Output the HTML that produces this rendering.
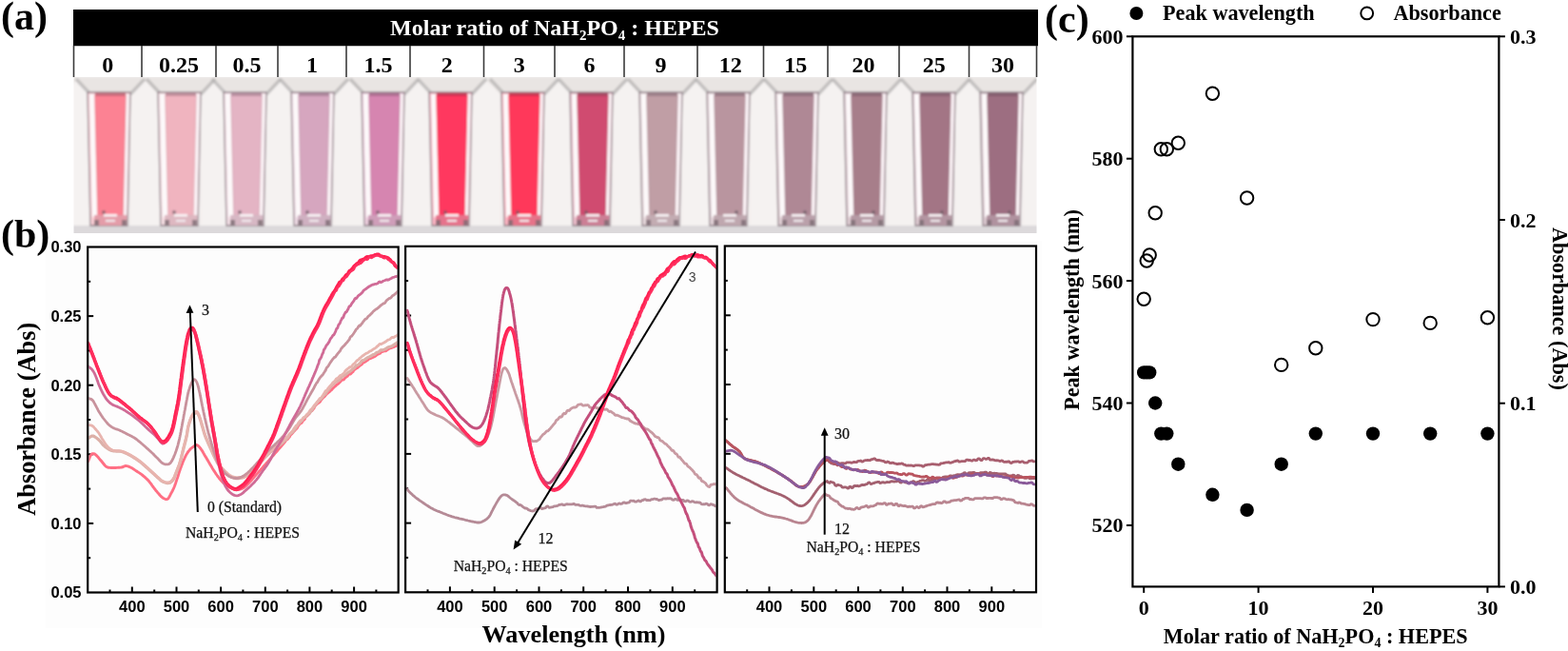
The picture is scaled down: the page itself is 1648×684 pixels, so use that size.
<!DOCTYPE html><html><head><meta charset="utf-8"><title>Figure</title><style>html,body{margin:0;padding:0;background:#fff}body{width:1648px;height:684px;overflow:hidden}svg{display:block}</style></head><body>
<svg width="1648" height="684" viewBox="0 0 1648 684">
<rect x="0" y="0" width="1648" height="684" fill="#ffffff"/>
<text x="1" y="31" style="font-family:'Liberation Serif','Times New Roman',serif;font-weight:bold;font-size:42px" fill="#000">(a)</text>
<rect x="77" y="10" width="1014" height="38.5" fill="#000"/>
<text x="583" y="37" text-anchor="middle" style="font-family:'Liberation Serif','Times New Roman',serif;font-weight:bold;font-size:24px" fill="#fff">Molar ratio of NaH<tspan font-size="15" dy="5">2</tspan><tspan dy="-5">PO</tspan><tspan font-size="15" dy="5">4</tspan><tspan dy="-5"> : HEPES</tspan></text>
<defs><filter id="soft" filterUnits="userSpaceOnUse" x="60" y="70" width="1050" height="190"><feGaussianBlur stdDeviation="0.8"/></filter><clipPath id="photoclip"><rect x="77.5" y="81.0" width="1012.0" height="164.0"/></clipPath></defs>
<g clip-path="url(#photoclip)"><g filter="url(#soft)">
<rect x="72.5" y="76.0" width="1022.0" height="174.0" fill="#f1eded"/>
<rect x="72.5" y="81.0" width="1022.0" height="19" fill="#e9e5e3"/>
<rect x="72.5" y="237" width="1022.0" height="12" fill="#dcd9db"/>
<path d="M65.0,237 L65.0,99 L80.0,84 L95.0,99 L95.0,237 Z" fill="#f5f2f1"/>
<path d="M137.0,237 L137.0,99 L152.0,84 L167.0,99 L167.0,237 Z" fill="#f5f2f1"/>
<path d="M211.0,237 L211.0,99 L226.0,84 L241.0,99 L241.0,237 Z" fill="#f5f2f1"/>
<path d="M280.0,237 L280.0,99 L295.0,84 L310.0,99 L310.0,237 Z" fill="#f5f2f1"/>
<path d="M351.0,237 L351.0,99 L366.0,84 L381.0,99 L381.0,237 Z" fill="#f5f2f1"/>
<path d="M425.0,237 L425.0,99 L440.0,84 L455.0,99 L455.0,237 Z" fill="#f5f2f1"/>
<path d="M496.0,237 L496.0,99 L511.0,84 L526.0,99 L526.0,237 Z" fill="#f5f2f1"/>
<path d="M572.0,237 L572.0,99 L587.0,84 L602.0,99 L602.0,237 Z" fill="#f5f2f1"/>
<path d="M644.0,237 L644.0,99 L659.0,84 L674.0,99 L674.0,237 Z" fill="#f5f2f1"/>
<path d="M717.0,237 L717.0,99 L732.0,84 L747.0,99 L747.0,237 Z" fill="#f5f2f1"/>
<path d="M788.0,237 L788.0,99 L803.0,84 L818.0,99 L818.0,237 Z" fill="#f5f2f1"/>
<path d="M860.0,237 L860.0,99 L875.0,84 L890.0,99 L890.0,237 Z" fill="#f5f2f1"/>
<path d="M932.0,237 L932.0,99 L947.0,84 L962.0,99 L962.0,237 Z" fill="#f5f2f1"/>
<path d="M1004.0,237 L1004.0,99 L1019.0,84 L1034.0,99 L1034.0,237 Z" fill="#f5f2f1"/>
<path d="M1075.0,237 L1075.0,99 L1090.0,84 L1105.0,99 L1105.0,237 Z" fill="#f5f2f1"/>
<path d="M80.0,83 L95.0,99 M152.0,83 L137.0,99" stroke="#b4b1b2" stroke-width="3.5" opacity="0.75" fill="none"/>
<path d="M92.0,97 L137.0,97 L134.0,237 L95.0,237 Z" fill="#fdd0d7" stroke="#8f8088" stroke-width="1.3"/>
<path d="M94.0,99 L99.0,99 L102.0,228 L97.0,228 Z" fill="#fdf9fa"/>
<path d="M132.0,99 L136.0,99 L133.0,228 L129.0,228 Z" fill="#fbf3f6"/>
<path d="M100.0,100 L132.0,100 L129.0,226 L103.0,226 Z" fill="#fc8293" stroke="#ee7e8e" stroke-width="1.2"/>
<line x1="100.0" y1="99" x2="132.0" y2="99" stroke="#b55869" stroke-width="3.5" opacity="0.75"/>
<rect x="99.0" y="226" width="34" height="11" fill="#e49da9"/>
<rect x="109.0" y="225" width="14" height="2.5" fill="#fbf6f8"/>
<rect x="111.0" y="231" width="10" height="2" fill="#f3ecf0"/>
<rect x="99.0" y="231" width="5" height="6" fill="#7a6a72" opacity="0.8"/>
<rect x="128.0" y="231" width="5" height="6" fill="#7a6a72" opacity="0.8"/>
<circle cx="109.0" cy="223" r="2" fill="#6a5a62" opacity="0.7"/>
<path d="M154.0,83 L169.0,99 M226.0,83 L211.0,99" stroke="#b4b1b2" stroke-width="3.5" opacity="0.75" fill="none"/>
<path d="M166.0,97 L211.0,97 L208.0,237 L169.0,237 Z" fill="#f9e1e6" stroke="#8f8088" stroke-width="1.3"/>
<path d="M168.0,99 L173.0,99 L176.0,228 L171.0,228 Z" fill="#fdf9fa"/>
<path d="M206.0,99 L210.0,99 L207.0,228 L203.0,228 Z" fill="#fbf3f6"/>
<path d="M174.0,100 L206.0,100 L203.0,226 L177.0,226 Z" fill="#f0b4bf" stroke="#e4abb5" stroke-width="1.2"/>
<line x1="174.0" y1="99" x2="206.0" y2="99" stroke="#ac7a89" stroke-width="3.5" opacity="0.75"/>
<rect x="173.0" y="226" width="34" height="11" fill="#deb8c1"/>
<rect x="183.0" y="225" width="14" height="2.5" fill="#fbf6f8"/>
<rect x="185.0" y="231" width="10" height="2" fill="#f3ecf0"/>
<rect x="173.0" y="231" width="5" height="6" fill="#7a6a72" opacity="0.8"/>
<rect x="202.0" y="231" width="5" height="6" fill="#7a6a72" opacity="0.8"/>
<circle cx="183.0" cy="223" r="2" fill="#6a5a62" opacity="0.7"/>
<path d="M223.0,83 L238.0,99 M295.0,83 L280.0,99" stroke="#b4b1b2" stroke-width="3.5" opacity="0.75" fill="none"/>
<path d="M235.0,97 L280.0,97 L277.0,237 L238.0,237 Z" fill="#f5e1e8" stroke="#8f8088" stroke-width="1.3"/>
<path d="M237.0,99 L242.0,99 L245.0,228 L240.0,228 Z" fill="#fdf9fa"/>
<path d="M275.0,99 L279.0,99 L276.0,228 L272.0,228 Z" fill="#fbf3f6"/>
<path d="M243.0,100 L275.0,100 L272.0,226 L246.0,226 Z" fill="#e4b4c4" stroke="#d9abba" stroke-width="1.2"/>
<line x1="243.0" y1="99" x2="275.0" y2="99" stroke="#a47a8d" stroke-width="3.5" opacity="0.75"/>
<rect x="242.0" y="226" width="34" height="11" fill="#d7b8c4"/>
<rect x="252.0" y="225" width="14" height="2.5" fill="#fbf6f8"/>
<rect x="254.0" y="231" width="10" height="2" fill="#f3ecf0"/>
<rect x="242.0" y="231" width="5" height="6" fill="#7a6a72" opacity="0.8"/>
<rect x="271.0" y="231" width="5" height="6" fill="#7a6a72" opacity="0.8"/>
<circle cx="252.0" cy="223" r="2" fill="#6a5a62" opacity="0.7"/>
<path d="M294.0,83 L309.0,99 M366.0,83 L351.0,99" stroke="#b4b1b2" stroke-width="3.5" opacity="0.75" fill="none"/>
<path d="M306.0,97 L351.0,97 L348.0,237 L309.0,237 Z" fill="#f0dce6" stroke="#8f8088" stroke-width="1.3"/>
<path d="M308.0,99 L313.0,99 L316.0,228 L311.0,228 Z" fill="#fdf9fa"/>
<path d="M346.0,99 L350.0,99 L347.0,228 L343.0,228 Z" fill="#fbf3f6"/>
<path d="M314.0,100 L346.0,100 L343.0,226 L317.0,226 Z" fill="#d6a6bf" stroke="#cc9eb5" stroke-width="1.2"/>
<line x1="314.0" y1="99" x2="346.0" y2="99" stroke="#9a7089" stroke-width="3.5" opacity="0.75"/>
<rect x="313.0" y="226" width="34" height="11" fill="#cfb0c1"/>
<rect x="323.0" y="225" width="14" height="2.5" fill="#fbf6f8"/>
<rect x="325.0" y="231" width="10" height="2" fill="#f3ecf0"/>
<rect x="313.0" y="231" width="5" height="6" fill="#7a6a72" opacity="0.8"/>
<rect x="342.0" y="231" width="5" height="6" fill="#7a6a72" opacity="0.8"/>
<circle cx="323.0" cy="223" r="2" fill="#6a5a62" opacity="0.7"/>
<path d="M368.0,83 L383.0,99 M440.0,83 L425.0,99" stroke="#b4b1b2" stroke-width="3.5" opacity="0.75" fill="none"/>
<path d="M380.0,97 L425.0,97 L422.0,237 L383.0,237 Z" fill="#f0d1e1" stroke="#8f8088" stroke-width="1.3"/>
<path d="M382.0,99 L387.0,99 L390.0,228 L385.0,228 Z" fill="#fdf9fa"/>
<path d="M420.0,99 L424.0,99 L421.0,228 L417.0,228 Z" fill="#fbf3f6"/>
<path d="M388.0,100 L420.0,100 L417.0,226 L391.0,226 Z" fill="#d685b0" stroke="#cc80a8" stroke-width="1.2"/>
<line x1="388.0" y1="99" x2="420.0" y2="99" stroke="#9a5a7e" stroke-width="3.5" opacity="0.75"/>
<rect x="387.0" y="226" width="34" height="11" fill="#cf9eb9"/>
<rect x="397.0" y="225" width="14" height="2.5" fill="#fbf6f8"/>
<rect x="399.0" y="231" width="10" height="2" fill="#f3ecf0"/>
<rect x="387.0" y="231" width="5" height="6" fill="#7a6a72" opacity="0.8"/>
<rect x="416.0" y="231" width="5" height="6" fill="#7a6a72" opacity="0.8"/>
<circle cx="397.0" cy="223" r="2" fill="#6a5a62" opacity="0.7"/>
<path d="M439.0,83 L454.0,99 M511.0,83 L496.0,99" stroke="#b4b1b2" stroke-width="3.5" opacity="0.75" fill="none"/>
<path d="M451.0,97 L496.0,97 L493.0,237 L454.0,237 Z" fill="#ffb5c5" stroke="#8f8088" stroke-width="1.3"/>
<path d="M453.0,99 L458.0,99 L461.0,228 L456.0,228 Z" fill="#fdf9fa"/>
<path d="M491.0,99 L495.0,99 L492.0,228 L488.0,228 Z" fill="#fbf3f6"/>
<path d="M459.0,100 L491.0,100 L488.0,226 L462.0,226 Z" fill="#ff375f" stroke="#f13a5f" stroke-width="1.2"/>
<line x1="459.0" y1="99" x2="491.0" y2="99" stroke="#b72544" stroke-width="3.5" opacity="0.75"/>
<rect x="458.0" y="226" width="34" height="11" fill="#e6738c"/>
<rect x="468.0" y="225" width="14" height="2.5" fill="#fbf6f8"/>
<rect x="470.0" y="231" width="10" height="2" fill="#f3ecf0"/>
<rect x="458.0" y="231" width="5" height="6" fill="#7a6a72" opacity="0.8"/>
<rect x="487.0" y="231" width="5" height="6" fill="#7a6a72" opacity="0.8"/>
<circle cx="468.0" cy="223" r="2" fill="#6a5a62" opacity="0.7"/>
<path d="M515.0,83 L530.0,99 M587.0,83 L572.0,99" stroke="#b4b1b2" stroke-width="3.5" opacity="0.75" fill="none"/>
<path d="M527.0,97 L572.0,97 L569.0,237 L530.0,237 Z" fill="#ffb5c3" stroke="#8f8088" stroke-width="1.3"/>
<path d="M529.0,99 L534.0,99 L537.0,228 L532.0,228 Z" fill="#fdf9fa"/>
<path d="M567.0,99 L571.0,99 L568.0,228 L564.0,228 Z" fill="#fbf3f6"/>
<path d="M535.0,100 L567.0,100 L564.0,226 L538.0,226 Z" fill="#ff375a" stroke="#f13a5b" stroke-width="1.2"/>
<line x1="535.0" y1="99" x2="567.0" y2="99" stroke="#b72540" stroke-width="3.5" opacity="0.75"/>
<rect x="534.0" y="226" width="34" height="11" fill="#e67389"/>
<rect x="544.0" y="225" width="14" height="2.5" fill="#fbf6f8"/>
<rect x="546.0" y="231" width="10" height="2" fill="#f3ecf0"/>
<rect x="534.0" y="231" width="5" height="6" fill="#7a6a72" opacity="0.8"/>
<rect x="563.0" y="231" width="5" height="6" fill="#7a6a72" opacity="0.8"/>
<circle cx="544.0" cy="223" r="2" fill="#6a5a62" opacity="0.7"/>
<path d="M587.0,83 L602.0,99 M659.0,83 L644.0,99" stroke="#b4b1b2" stroke-width="3.5" opacity="0.75" fill="none"/>
<path d="M599.0,97 L644.0,97 L641.0,237 L602.0,237 Z" fill="#eebdcb" stroke="#8f8088" stroke-width="1.3"/>
<path d="M601.0,99 L606.0,99 L609.0,228 L604.0,228 Z" fill="#fdf9fa"/>
<path d="M639.0,99 L643.0,99 L640.0,228 L636.0,228 Z" fill="#fbf3f6"/>
<path d="M607.0,100 L639.0,100 L636.0,226 L610.0,226 Z" fill="#d04c70" stroke="#c74d6e" stroke-width="1.2"/>
<line x1="607.0" y1="99" x2="639.0" y2="99" stroke="#953350" stroke-width="3.5" opacity="0.75"/>
<rect x="606.0" y="226" width="34" height="11" fill="#cc7f95"/>
<rect x="616.0" y="225" width="14" height="2.5" fill="#fbf6f8"/>
<rect x="618.0" y="231" width="10" height="2" fill="#f3ecf0"/>
<rect x="606.0" y="231" width="5" height="6" fill="#7a6a72" opacity="0.8"/>
<rect x="635.0" y="231" width="5" height="6" fill="#7a6a72" opacity="0.8"/>
<circle cx="616.0" cy="223" r="2" fill="#6a5a62" opacity="0.7"/>
<path d="M660.0,83 L675.0,99 M732.0,83 L717.0,99" stroke="#b4b1b2" stroke-width="3.5" opacity="0.75" fill="none"/>
<path d="M672.0,97 L717.0,97 L714.0,237 L675.0,237 Z" fill="#e8d9dd" stroke="#8f8088" stroke-width="1.3"/>
<path d="M674.0,99 L679.0,99 L682.0,228 L677.0,228 Z" fill="#fdf9fa"/>
<path d="M712.0,99 L716.0,99 L713.0,228 L709.0,228 Z" fill="#fbf3f6"/>
<path d="M680.0,100 L712.0,100 L709.0,226 L683.0,226 Z" fill="#c09ea5" stroke="#b8979e" stroke-width="1.2"/>
<line x1="680.0" y1="99" x2="712.0" y2="99" stroke="#8a6b76" stroke-width="3.5" opacity="0.75"/>
<rect x="679.0" y="226" width="34" height="11" fill="#c3acb2"/>
<rect x="689.0" y="225" width="14" height="2.5" fill="#fbf6f8"/>
<rect x="691.0" y="231" width="10" height="2" fill="#f3ecf0"/>
<rect x="679.0" y="231" width="5" height="6" fill="#7a6a72" opacity="0.8"/>
<rect x="708.0" y="231" width="5" height="6" fill="#7a6a72" opacity="0.8"/>
<circle cx="689.0" cy="223" r="2" fill="#6a5a62" opacity="0.7"/>
<path d="M731.0,83 L746.0,99 M803.0,83 L788.0,99" stroke="#b4b1b2" stroke-width="3.5" opacity="0.75" fill="none"/>
<path d="M743.0,97 L788.0,97 L785.0,237 L746.0,237 Z" fill="#e6d6db" stroke="#8f8088" stroke-width="1.3"/>
<path d="M745.0,99 L750.0,99 L753.0,228 L748.0,228 Z" fill="#fdf9fa"/>
<path d="M783.0,99 L787.0,99 L784.0,228 L780.0,228 Z" fill="#fbf3f6"/>
<path d="M751.0,100 L783.0,100 L780.0,226 L754.0,226 Z" fill="#b9959f" stroke="#b28f99" stroke-width="1.2"/>
<line x1="751.0" y1="99" x2="783.0" y2="99" stroke="#856572" stroke-width="3.5" opacity="0.75"/>
<rect x="750.0" y="226" width="34" height="11" fill="#bfa7af"/>
<rect x="760.0" y="225" width="14" height="2.5" fill="#fbf6f8"/>
<rect x="762.0" y="231" width="10" height="2" fill="#f3ecf0"/>
<rect x="750.0" y="231" width="5" height="6" fill="#7a6a72" opacity="0.8"/>
<rect x="779.0" y="231" width="5" height="6" fill="#7a6a72" opacity="0.8"/>
<circle cx="774.0" cy="223" r="2" fill="#6a5a62" opacity="0.7"/>
<path d="M803.0,83 L818.0,99 M875.0,83 L860.0,99" stroke="#b4b1b2" stroke-width="3.5" opacity="0.75" fill="none"/>
<path d="M815.0,97 L860.0,97 L857.0,237 L818.0,237 Z" fill="#e3d2d7" stroke="#8f8088" stroke-width="1.3"/>
<path d="M817.0,99 L822.0,99 L825.0,228 L820.0,228 Z" fill="#fdf9fa"/>
<path d="M855.0,99 L859.0,99 L856.0,228 L852.0,228 Z" fill="#fbf3f6"/>
<path d="M823.0,100 L855.0,100 L852.0,226 L826.0,226 Z" fill="#af8895" stroke="#a98390" stroke-width="1.2"/>
<line x1="823.0" y1="99" x2="855.0" y2="99" stroke="#7e5c6b" stroke-width="3.5" opacity="0.75"/>
<rect x="822.0" y="226" width="34" height="11" fill="#baa0aa"/>
<rect x="832.0" y="225" width="14" height="2.5" fill="#fbf6f8"/>
<rect x="834.0" y="231" width="10" height="2" fill="#f3ecf0"/>
<rect x="822.0" y="231" width="5" height="6" fill="#7a6a72" opacity="0.8"/>
<rect x="851.0" y="231" width="5" height="6" fill="#7a6a72" opacity="0.8"/>
<circle cx="846.0" cy="223" r="2" fill="#6a5a62" opacity="0.7"/>
<path d="M875.0,83 L890.0,99 M947.0,83 L932.0,99" stroke="#b4b1b2" stroke-width="3.5" opacity="0.75" fill="none"/>
<path d="M887.0,97 L932.0,97 L929.0,237 L890.0,237 Z" fill="#e0ced4" stroke="#8f8088" stroke-width="1.3"/>
<path d="M889.0,99 L894.0,99 L897.0,228 L892.0,228 Z" fill="#fdf9fa"/>
<path d="M927.0,99 L931.0,99 L928.0,228 L924.0,228 Z" fill="#fbf3f6"/>
<path d="M895.0,100 L927.0,100 L924.0,226 L898.0,226 Z" fill="#a77e8a" stroke="#a27a86" stroke-width="1.2"/>
<line x1="895.0" y1="99" x2="927.0" y2="99" stroke="#785563" stroke-width="3.5" opacity="0.75"/>
<rect x="894.0" y="226" width="34" height="11" fill="#b59aa4"/>
<rect x="904.0" y="225" width="14" height="2.5" fill="#fbf6f8"/>
<rect x="906.0" y="231" width="10" height="2" fill="#f3ecf0"/>
<rect x="894.0" y="231" width="5" height="6" fill="#7a6a72" opacity="0.8"/>
<rect x="923.0" y="231" width="5" height="6" fill="#7a6a72" opacity="0.8"/>
<circle cx="918.0" cy="223" r="2" fill="#6a5a62" opacity="0.7"/>
<path d="M947.0,83 L962.0,99 M1019.0,83 L1004.0,99" stroke="#b4b1b2" stroke-width="3.5" opacity="0.75" fill="none"/>
<path d="M959.0,97 L1004.0,97 L1001.0,237 L962.0,237 Z" fill="#decbd2" stroke="#8f8088" stroke-width="1.3"/>
<path d="M961.0,99 L966.0,99 L969.0,228 L964.0,228 Z" fill="#fdf9fa"/>
<path d="M999.0,99 L1003.0,99 L1000.0,228 L996.0,228 Z" fill="#fbf3f6"/>
<path d="M967.0,100 L999.0,100 L996.0,226 L970.0,226 Z" fill="#a37585" stroke="#9e7281" stroke-width="1.2"/>
<line x1="967.0" y1="99" x2="999.0" y2="99" stroke="#754f5f" stroke-width="3.5" opacity="0.75"/>
<rect x="966.0" y="226" width="34" height="11" fill="#b395a1"/>
<rect x="976.0" y="225" width="14" height="2.5" fill="#fbf6f8"/>
<rect x="978.0" y="231" width="10" height="2" fill="#f3ecf0"/>
<rect x="966.0" y="231" width="5" height="6" fill="#7a6a72" opacity="0.8"/>
<rect x="995.0" y="231" width="5" height="6" fill="#7a6a72" opacity="0.8"/>
<circle cx="990.0" cy="223" r="2" fill="#6a5a62" opacity="0.7"/>
<path d="M1018.0,83 L1033.0,99 M1090.0,83 L1075.0,99" stroke="#b4b1b2" stroke-width="3.5" opacity="0.75" fill="none"/>
<path d="M1030.0,97 L1075.0,97 L1072.0,237 L1033.0,237 Z" fill="#dcc9d0" stroke="#8f8088" stroke-width="1.3"/>
<path d="M1032.0,99 L1037.0,99 L1040.0,228 L1035.0,228 Z" fill="#fdf9fa"/>
<path d="M1070.0,99 L1074.0,99 L1071.0,228 L1067.0,228 Z" fill="#fbf3f6"/>
<path d="M1038.0,100 L1070.0,100 L1067.0,226 L1041.0,226 Z" fill="#9d6e81" stroke="#996c7e" stroke-width="1.2"/>
<line x1="1038.0" y1="99" x2="1070.0" y2="99" stroke="#714a5c" stroke-width="3.5" opacity="0.75"/>
<rect x="1037.0" y="226" width="34" height="11" fill="#b0929f"/>
<rect x="1047.0" y="225" width="14" height="2.5" fill="#fbf6f8"/>
<rect x="1049.0" y="231" width="10" height="2" fill="#f3ecf0"/>
<rect x="1037.0" y="231" width="5" height="6" fill="#7a6a72" opacity="0.8"/>
<rect x="1066.0" y="231" width="5" height="6" fill="#7a6a72" opacity="0.8"/>
<circle cx="1061.0" cy="223" r="2" fill="#6a5a62" opacity="0.7"/>
</g></g>
<rect x="77" y="48.5" width="1014" height="32.5" fill="#fff"/>
<line x1="77.5" y1="48" x2="77.5" y2="81" stroke="#3a3a3a" stroke-width="1.6"/>
<line x1="149.0" y1="48" x2="149.0" y2="81" stroke="#3a3a3a" stroke-width="1.6"/>
<line x1="227.0" y1="48" x2="227.0" y2="81" stroke="#3a3a3a" stroke-width="1.6"/>
<line x1="292.0" y1="48" x2="292.0" y2="81" stroke="#3a3a3a" stroke-width="1.6"/>
<line x1="364.0" y1="48" x2="364.0" y2="81" stroke="#3a3a3a" stroke-width="1.6"/>
<line x1="431.0" y1="48" x2="431.0" y2="81" stroke="#3a3a3a" stroke-width="1.6"/>
<line x1="508.5" y1="48" x2="508.5" y2="81" stroke="#3a3a3a" stroke-width="1.6"/>
<line x1="583.0" y1="48" x2="583.0" y2="81" stroke="#3a3a3a" stroke-width="1.6"/>
<line x1="656.0" y1="48" x2="656.0" y2="81" stroke="#3a3a3a" stroke-width="1.6"/>
<line x1="733.0" y1="48" x2="733.0" y2="81" stroke="#3a3a3a" stroke-width="1.6"/>
<line x1="802.5" y1="48" x2="802.5" y2="81" stroke="#3a3a3a" stroke-width="1.6"/>
<line x1="870.0" y1="48" x2="870.0" y2="81" stroke="#3a3a3a" stroke-width="1.6"/>
<line x1="945.0" y1="48" x2="945.0" y2="81" stroke="#3a3a3a" stroke-width="1.6"/>
<line x1="1018.5" y1="48" x2="1018.5" y2="81" stroke="#3a3a3a" stroke-width="1.6"/>
<line x1="1089.5" y1="48" x2="1089.5" y2="81" stroke="#3a3a3a" stroke-width="1.6"/>
<text x="113.2" y="75.5" text-anchor="middle" style="font-family:'Liberation Serif','Times New Roman',serif;font-weight:bold;font-size:24px" fill="#000">0</text>
<text x="188.0" y="75.5" text-anchor="middle" style="font-family:'Liberation Serif','Times New Roman',serif;font-weight:bold;font-size:24px" fill="#000">0.25</text>
<text x="259.5" y="75.5" text-anchor="middle" style="font-family:'Liberation Serif','Times New Roman',serif;font-weight:bold;font-size:24px" fill="#000">0.5</text>
<text x="328.0" y="75.5" text-anchor="middle" style="font-family:'Liberation Serif','Times New Roman',serif;font-weight:bold;font-size:24px" fill="#000">1</text>
<text x="397.5" y="75.5" text-anchor="middle" style="font-family:'Liberation Serif','Times New Roman',serif;font-weight:bold;font-size:24px" fill="#000">1.5</text>
<text x="469.8" y="75.5" text-anchor="middle" style="font-family:'Liberation Serif','Times New Roman',serif;font-weight:bold;font-size:24px" fill="#000">2</text>
<text x="545.8" y="75.5" text-anchor="middle" style="font-family:'Liberation Serif','Times New Roman',serif;font-weight:bold;font-size:24px" fill="#000">3</text>
<text x="619.5" y="75.5" text-anchor="middle" style="font-family:'Liberation Serif','Times New Roman',serif;font-weight:bold;font-size:24px" fill="#000">6</text>
<text x="694.5" y="75.5" text-anchor="middle" style="font-family:'Liberation Serif','Times New Roman',serif;font-weight:bold;font-size:24px" fill="#000">9</text>
<text x="767.8" y="75.5" text-anchor="middle" style="font-family:'Liberation Serif','Times New Roman',serif;font-weight:bold;font-size:24px" fill="#000">12</text>
<text x="836.2" y="75.5" text-anchor="middle" style="font-family:'Liberation Serif','Times New Roman',serif;font-weight:bold;font-size:24px" fill="#000">15</text>
<text x="907.5" y="75.5" text-anchor="middle" style="font-family:'Liberation Serif','Times New Roman',serif;font-weight:bold;font-size:24px" fill="#000">20</text>
<text x="981.8" y="75.5" text-anchor="middle" style="font-family:'Liberation Serif','Times New Roman',serif;font-weight:bold;font-size:24px" fill="#000">25</text>
<text x="1054.0" y="75.5" text-anchor="middle" style="font-family:'Liberation Serif','Times New Roman',serif;font-weight:bold;font-size:24px" fill="#000">30</text>
<rect x="48" y="253" width="1047" height="407" fill="#fdfdfd"/>
<text x="1" y="259.5" style="font-family:'Liberation Serif','Times New Roman',serif;font-weight:bold;font-size:42px" fill="#000">(b)</text>
<line x1="115.5" y1="622.5" x2="115.5" y2="619.5" stroke="#000" stroke-width="2"/>
<line x1="138.8" y1="622.5" x2="138.8" y2="616.5" stroke="#000" stroke-width="2"/>
<line x1="162.2" y1="622.5" x2="162.2" y2="619.5" stroke="#000" stroke-width="2"/>
<line x1="185.5" y1="622.5" x2="185.5" y2="616.5" stroke="#000" stroke-width="2"/>
<line x1="208.8" y1="622.5" x2="208.8" y2="619.5" stroke="#000" stroke-width="2"/>
<line x1="232.1" y1="622.5" x2="232.1" y2="616.5" stroke="#000" stroke-width="2"/>
<line x1="255.4" y1="622.5" x2="255.4" y2="619.5" stroke="#000" stroke-width="2"/>
<line x1="278.8" y1="622.5" x2="278.8" y2="616.5" stroke="#000" stroke-width="2"/>
<line x1="302.1" y1="622.5" x2="302.1" y2="619.5" stroke="#000" stroke-width="2"/>
<line x1="325.4" y1="622.5" x2="325.4" y2="616.5" stroke="#000" stroke-width="2"/>
<line x1="348.7" y1="622.5" x2="348.7" y2="619.5" stroke="#000" stroke-width="2"/>
<line x1="372.1" y1="622.5" x2="372.1" y2="616.5" stroke="#000" stroke-width="2"/>
<line x1="395.4" y1="622.5" x2="395.4" y2="619.5" stroke="#000" stroke-width="2"/>
<line x1="92.2" y1="586.2" x2="95.2" y2="586.2" stroke="#000" stroke-width="2"/>
<line x1="92.2" y1="549.9" x2="98.2" y2="549.9" stroke="#000" stroke-width="2"/>
<line x1="92.2" y1="513.6" x2="95.2" y2="513.6" stroke="#000" stroke-width="2"/>
<line x1="92.2" y1="477.3" x2="98.2" y2="477.3" stroke="#000" stroke-width="2"/>
<line x1="92.2" y1="441.0" x2="95.2" y2="441.0" stroke="#000" stroke-width="2"/>
<line x1="92.2" y1="404.7" x2="98.2" y2="404.7" stroke="#000" stroke-width="2"/>
<line x1="92.2" y1="368.4" x2="95.2" y2="368.4" stroke="#000" stroke-width="2"/>
<line x1="92.2" y1="332.1" x2="98.2" y2="332.1" stroke="#000" stroke-width="2"/>
<line x1="92.2" y1="295.8" x2="95.2" y2="295.8" stroke="#000" stroke-width="2"/>
<text x="138.8" y="643" text-anchor="middle" style="font-family:'Liberation Sans',Arial,sans-serif;font-weight:bold;font-size:16.5px" fill="#000">400</text>
<text x="185.5" y="643" text-anchor="middle" style="font-family:'Liberation Sans',Arial,sans-serif;font-weight:bold;font-size:16.5px" fill="#000">500</text>
<text x="232.1" y="643" text-anchor="middle" style="font-family:'Liberation Sans',Arial,sans-serif;font-weight:bold;font-size:16.5px" fill="#000">600</text>
<text x="278.8" y="643" text-anchor="middle" style="font-family:'Liberation Sans',Arial,sans-serif;font-weight:bold;font-size:16.5px" fill="#000">700</text>
<text x="325.4" y="643" text-anchor="middle" style="font-family:'Liberation Sans',Arial,sans-serif;font-weight:bold;font-size:16.5px" fill="#000">800</text>
<text x="372.1" y="643" text-anchor="middle" style="font-family:'Liberation Sans',Arial,sans-serif;font-weight:bold;font-size:16.5px" fill="#000">900</text>
<line x1="449.5" y1="622.3" x2="449.5" y2="619.3" stroke="#000" stroke-width="2"/>
<line x1="472.9" y1="622.3" x2="472.9" y2="616.3" stroke="#000" stroke-width="2"/>
<line x1="496.3" y1="622.3" x2="496.3" y2="619.3" stroke="#000" stroke-width="2"/>
<line x1="519.7" y1="622.3" x2="519.7" y2="616.3" stroke="#000" stroke-width="2"/>
<line x1="543.1" y1="622.3" x2="543.1" y2="619.3" stroke="#000" stroke-width="2"/>
<line x1="566.5" y1="622.3" x2="566.5" y2="616.3" stroke="#000" stroke-width="2"/>
<line x1="589.9" y1="622.3" x2="589.9" y2="619.3" stroke="#000" stroke-width="2"/>
<line x1="613.2" y1="622.3" x2="613.2" y2="616.3" stroke="#000" stroke-width="2"/>
<line x1="636.6" y1="622.3" x2="636.6" y2="619.3" stroke="#000" stroke-width="2"/>
<line x1="660.0" y1="622.3" x2="660.0" y2="616.3" stroke="#000" stroke-width="2"/>
<line x1="683.4" y1="622.3" x2="683.4" y2="619.3" stroke="#000" stroke-width="2"/>
<line x1="706.8" y1="622.3" x2="706.8" y2="616.3" stroke="#000" stroke-width="2"/>
<line x1="730.2" y1="622.3" x2="730.2" y2="619.3" stroke="#000" stroke-width="2"/>
<line x1="426.1" y1="585.9" x2="429.1" y2="585.9" stroke="#000" stroke-width="2"/>
<line x1="426.1" y1="549.6" x2="432.1" y2="549.6" stroke="#000" stroke-width="2"/>
<line x1="426.1" y1="513.2" x2="429.1" y2="513.2" stroke="#000" stroke-width="2"/>
<line x1="426.1" y1="476.9" x2="432.1" y2="476.9" stroke="#000" stroke-width="2"/>
<line x1="426.1" y1="440.5" x2="429.1" y2="440.5" stroke="#000" stroke-width="2"/>
<line x1="426.1" y1="404.2" x2="432.1" y2="404.2" stroke="#000" stroke-width="2"/>
<line x1="426.1" y1="367.8" x2="429.1" y2="367.8" stroke="#000" stroke-width="2"/>
<line x1="426.1" y1="331.5" x2="432.1" y2="331.5" stroke="#000" stroke-width="2"/>
<line x1="426.1" y1="295.1" x2="429.1" y2="295.1" stroke="#000" stroke-width="2"/>
<text x="472.9" y="643" text-anchor="middle" style="font-family:'Liberation Sans',Arial,sans-serif;font-weight:bold;font-size:16.5px" fill="#000">400</text>
<text x="519.7" y="643" text-anchor="middle" style="font-family:'Liberation Sans',Arial,sans-serif;font-weight:bold;font-size:16.5px" fill="#000">500</text>
<text x="566.5" y="643" text-anchor="middle" style="font-family:'Liberation Sans',Arial,sans-serif;font-weight:bold;font-size:16.5px" fill="#000">600</text>
<text x="613.2" y="643" text-anchor="middle" style="font-family:'Liberation Sans',Arial,sans-serif;font-weight:bold;font-size:16.5px" fill="#000">700</text>
<text x="660.0" y="643" text-anchor="middle" style="font-family:'Liberation Sans',Arial,sans-serif;font-weight:bold;font-size:16.5px" fill="#000">800</text>
<text x="706.8" y="643" text-anchor="middle" style="font-family:'Liberation Sans',Arial,sans-serif;font-weight:bold;font-size:16.5px" fill="#000">900</text>
<line x1="785.2" y1="622.3" x2="785.2" y2="619.3" stroke="#000" stroke-width="2"/>
<line x1="808.5" y1="622.3" x2="808.5" y2="616.3" stroke="#000" stroke-width="2"/>
<line x1="831.9" y1="622.3" x2="831.9" y2="619.3" stroke="#000" stroke-width="2"/>
<line x1="855.3" y1="622.3" x2="855.3" y2="616.3" stroke="#000" stroke-width="2"/>
<line x1="878.7" y1="622.3" x2="878.7" y2="619.3" stroke="#000" stroke-width="2"/>
<line x1="902.0" y1="622.3" x2="902.0" y2="616.3" stroke="#000" stroke-width="2"/>
<line x1="925.4" y1="622.3" x2="925.4" y2="619.3" stroke="#000" stroke-width="2"/>
<line x1="948.8" y1="622.3" x2="948.8" y2="616.3" stroke="#000" stroke-width="2"/>
<line x1="972.1" y1="622.3" x2="972.1" y2="619.3" stroke="#000" stroke-width="2"/>
<line x1="995.5" y1="622.3" x2="995.5" y2="616.3" stroke="#000" stroke-width="2"/>
<line x1="1018.9" y1="622.3" x2="1018.9" y2="619.3" stroke="#000" stroke-width="2"/>
<line x1="1042.3" y1="622.3" x2="1042.3" y2="616.3" stroke="#000" stroke-width="2"/>
<line x1="1065.6" y1="622.3" x2="1065.6" y2="619.3" stroke="#000" stroke-width="2"/>
<line x1="761.8" y1="585.9" x2="764.8" y2="585.9" stroke="#000" stroke-width="2"/>
<line x1="761.8" y1="549.5" x2="767.8" y2="549.5" stroke="#000" stroke-width="2"/>
<line x1="761.8" y1="513.2" x2="764.8" y2="513.2" stroke="#000" stroke-width="2"/>
<line x1="761.8" y1="476.8" x2="767.8" y2="476.8" stroke="#000" stroke-width="2"/>
<line x1="761.8" y1="440.4" x2="764.8" y2="440.4" stroke="#000" stroke-width="2"/>
<line x1="761.8" y1="404.0" x2="767.8" y2="404.0" stroke="#000" stroke-width="2"/>
<line x1="761.8" y1="367.6" x2="764.8" y2="367.6" stroke="#000" stroke-width="2"/>
<line x1="761.8" y1="331.3" x2="767.8" y2="331.3" stroke="#000" stroke-width="2"/>
<line x1="761.8" y1="294.9" x2="764.8" y2="294.9" stroke="#000" stroke-width="2"/>
<text x="808.5" y="643" text-anchor="middle" style="font-family:'Liberation Sans',Arial,sans-serif;font-weight:bold;font-size:16.5px" fill="#000">400</text>
<text x="855.3" y="643" text-anchor="middle" style="font-family:'Liberation Sans',Arial,sans-serif;font-weight:bold;font-size:16.5px" fill="#000">500</text>
<text x="902.0" y="643" text-anchor="middle" style="font-family:'Liberation Sans',Arial,sans-serif;font-weight:bold;font-size:16.5px" fill="#000">600</text>
<text x="948.8" y="643" text-anchor="middle" style="font-family:'Liberation Sans',Arial,sans-serif;font-weight:bold;font-size:16.5px" fill="#000">700</text>
<text x="995.5" y="643" text-anchor="middle" style="font-family:'Liberation Sans',Arial,sans-serif;font-weight:bold;font-size:16.5px" fill="#000">800</text>
<text x="1042.3" y="643" text-anchor="middle" style="font-family:'Liberation Sans',Arial,sans-serif;font-weight:bold;font-size:16.5px" fill="#000">900</text>
<text x="85.5" y="628.4" text-anchor="end" style="font-family:'Liberation Sans',Arial,sans-serif;font-weight:bold;font-size:16.5px" fill="#000">0.05</text>
<text x="85.5" y="555.8" text-anchor="end" style="font-family:'Liberation Sans',Arial,sans-serif;font-weight:bold;font-size:16.5px" fill="#000">0.10</text>
<text x="85.5" y="483.2" text-anchor="end" style="font-family:'Liberation Sans',Arial,sans-serif;font-weight:bold;font-size:16.5px" fill="#000">0.15</text>
<text x="85.5" y="410.6" text-anchor="end" style="font-family:'Liberation Sans',Arial,sans-serif;font-weight:bold;font-size:16.5px" fill="#000">0.20</text>
<text x="85.5" y="338.0" text-anchor="end" style="font-family:'Liberation Sans',Arial,sans-serif;font-weight:bold;font-size:16.5px" fill="#000">0.25</text>
<text x="85.5" y="265.4" text-anchor="end" style="font-family:'Liberation Sans',Arial,sans-serif;font-weight:bold;font-size:16.5px" fill="#000">0.30</text>
<text transform="translate(37,440.3) rotate(-90)" text-anchor="middle" style="font-family:'Liberation Serif','Times New Roman',serif;font-weight:bold;font-size:26.4px" fill="#000">Absorbance (Abs)</text>
<text x="603" y="675" text-anchor="middle" style="font-family:'Liberation Serif','Times New Roman',serif;font-weight:bold;font-size:26.2px" fill="#000">Wavelength (nm)</text>
<defs><clipPath id="cp1"><rect x="93.3" y="260.6" width="324.3" height="360.8"/></clipPath><clipPath id="cp2"><rect x="427.2" y="259.9" width="325.3" height="361.3"/></clipPath><clipPath id="cp3"><rect x="762.9" y="259.6" width="325" height="361.6"/></clipPath></defs>
<g clip-path="url(#cp1)">
<path d="M92.6,484.7 L93.1,483.5 L93.6,482.3 L94.1,481.0 L94.5,479.9 L95.0,479.0 L96.0,477.5 L97.0,476.8 L98.2,476.6 L99.5,477.0 L100.3,477.6 L101.2,478.4 L102.3,479.5 L103.0,480.2 L103.7,481.1 L104.5,482.1 L105.3,483.1 L106.2,484.0 L107.0,485.0 L107.8,486.0 L108.6,487.0 L109.4,488.0 L110.2,489.0 L111.1,489.8 L112.0,490.5 L113.1,491.0 L114.2,491.3 L115.3,491.4 L116.5,491.5 L118.0,491.5 L119.1,491.5 L120.3,491.5 L121.6,491.5 L123.0,491.4 L124.3,491.3 L125.6,491.2 L126.7,491.1 L127.7,491.0 L129.5,490.5 L130.7,489.8 L132.0,489.5 L133.2,489.6 L134.4,489.9 L135.7,490.4 L137.0,491.0 L138.1,491.5 L139.1,492.1 L140.2,492.8 L141.4,493.6 L142.6,494.4 L143.6,495.0 L144.6,495.7 L145.7,496.4 L146.8,497.1 L147.9,497.9 L149.0,498.7 L150.0,499.5 L151.0,500.3 L152.0,501.2 L153.0,502.1 L154.0,503.0 L154.9,503.9 L155.8,504.8 L156.7,505.8 L157.5,506.8 L158.3,507.8 L159.1,508.9 L159.8,510.0 L160.5,511.0 L161.3,512.0 L162.0,513.0 L162.9,514.1 L163.7,515.2 L164.6,516.2 L165.4,517.2 L166.2,518.1 L167.0,519.0 L168.0,520.2 L169.0,521.3 L170.0,522.2 L171.0,523.0 L172.2,523.7 L173.5,524.3 L174.8,524.7 L176.0,524.4 L176.7,523.8 L177.4,522.8 L178.1,521.7 L178.8,520.4 L179.4,519.1 L180.0,518.0 L180.7,516.8 L181.3,515.7 L181.8,514.6 L182.4,513.4 L183.0,512.0 L183.4,511.0 L183.8,509.9 L184.2,508.8 L184.6,507.7 L185.0,506.4 L185.4,505.2 L185.8,503.9 L186.3,502.5 L186.7,501.4 L187.1,500.2 L187.5,498.9 L187.9,497.6 L188.3,496.3 L188.7,495.0 L189.2,493.7 L189.6,492.4 L190.1,491.2 L190.5,490.0 L191.0,488.7 L191.5,487.4 L192.0,486.1 L192.5,484.8 L193.0,483.6 L193.6,482.4 L194.1,481.2 L194.6,480.1 L195.1,479.1 L195.8,477.7 L196.6,476.5 L197.3,475.3 L198.0,474.3 L198.8,473.4 L199.5,472.5 L200.6,471.3 L201.8,470.4 L202.9,469.6 L203.9,468.9 L205.4,467.7 L206.8,467.4 L207.7,467.9 L208.8,468.9 L209.9,470.1 L211.0,471.5 L211.6,472.4 L212.3,473.4 L213.0,474.5 L213.6,475.7 L214.3,476.8 L214.9,478.0 L215.6,479.1 L216.2,480.2 L216.9,481.2 L217.5,482.3 L218.1,483.4 L218.8,484.4 L219.4,485.5 L220.0,486.5 L220.7,487.7 L221.4,488.9 L222.1,490.0 L222.8,491.2 L223.5,492.4 L224.3,493.7 L224.9,494.7 L225.6,495.7 L226.3,496.8 L227.0,497.9 L227.8,499.0 L228.5,500.0 L229.3,501.0 L230.0,502.0 L230.8,503.0 L231.7,504.0 L232.5,505.0 L233.3,505.9 L234.2,506.8 L235.1,507.6 L236.0,508.4 L237.1,509.3 L238.3,510.2 L239.4,511.0 L240.6,511.8 L241.8,512.4 L243.0,513.0 L244.4,513.6 L245.8,514.0 L247.3,514.3 L248.7,514.5 L250.0,514.5 L251.3,514.4 L252.5,514.1 L253.6,513.7 L254.8,513.2 L256.0,512.5 L257.0,511.8 L257.9,511.1 L258.9,510.2 L259.9,509.2 L260.9,508.2 L262.0,507.0 L262.7,506.2 L263.5,505.4 L264.3,504.6 L265.1,503.7 L265.9,502.7 L266.7,501.8 L267.5,500.8 L268.4,499.9 L269.2,498.9 L270.0,498.0 L270.8,497.1 L271.6,496.2 L272.3,495.4 L273.1,494.5 L273.9,493.7 L274.7,492.8 L275.5,491.9 L276.3,491.0 L277.1,490.0 L278.0,489.0 L278.8,488.1 L279.6,487.2 L280.4,486.3 L281.2,485.4 L282.0,484.4 L282.9,483.4 L283.7,482.4 L284.6,481.4 L285.5,480.4 L286.3,479.4 L287.2,478.5 L288.0,477.5 L288.8,476.5 L289.6,475.6 L290.5,474.7 L291.3,473.8 L292.1,472.8 L292.9,471.9 L293.7,471.0 L294.5,470.0 L295.4,469.1 L296.2,468.1 L297.1,467.0 L298.0,466.0 L298.7,465.1 L299.5,464.3 L300.3,462.9 L301.1,462.0 L301.9,461.9 L302.7,461.0 L303.5,459.9 L304.3,459.0 L305.1,457.4 L305.9,456.5 L306.7,455.8 L307.6,454.8 L308.4,453.8 L309.2,452.9 L310.0,452.2 L310.8,451.2 L311.6,450.5 L312.4,449.5 L313.2,447.8 L314.0,446.8 L314.8,445.8 L315.6,444.9 L316.4,444.9 L317.2,444.0 L318.0,442.6 L318.8,441.7 L319.6,441.1 L320.4,440.2 L321.2,438.3 L322.0,437.4 L322.8,437.0 L323.6,436.1 L324.4,435.4 L325.2,434.5 L326.0,432.9 L326.8,432.0 L327.6,431.9 L328.4,430.9 L329.2,429.9 L330.0,429.0 L330.8,427.0 L331.6,426.1 L332.4,425.2 L333.2,424.3 L334.0,424.0 L334.9,423.1 L335.7,422.7 L336.6,421.8 L337.4,420.3 L338.3,419.4 L339.1,418.3 L340.0,417.5 L340.9,416.9 L341.7,416.0 L342.6,414.7 L343.4,413.9 L344.3,413.3 L345.1,412.5 L346.0,411.9 L346.9,411.0 L347.8,410.2 L348.8,409.4 L349.7,408.2 L350.6,407.3 L351.5,406.5 L352.5,405.6 L353.4,404.8 L354.3,403.9 L355.2,403.4 L356.2,402.6 L357.1,401.6 L358.0,400.7 L358.9,399.6 L359.8,398.8 L360.8,399.0 L361.7,398.3 L362.6,397.1 L363.5,396.4 L364.5,395.7 L365.4,395.0 L366.3,393.7 L367.2,392.9 L368.2,393.1 L369.1,392.4 L370.0,391.4 L370.9,390.7 L371.8,389.0 L372.8,388.2 L373.7,387.6 L374.6,386.8 L375.5,386.5 L376.5,385.7 L377.4,384.9 L378.3,384.1 L379.2,383.6 L380.2,382.9 L381.1,381.6 L382.0,380.9 L383.1,380.6 L384.2,379.9 L385.3,379.1 L386.4,378.4 L387.5,377.3 L388.5,376.7 L389.6,376.5 L390.7,375.9 L391.8,375.6 L392.9,375.0 L394.0,374.4 L395.1,373.8 L396.2,372.8 L397.3,372.3 L398.4,371.8 L399.5,371.3 L400.5,370.1 L401.6,369.5 L402.7,369.3 L403.8,368.7 L404.9,368.9 L406.0,368.4 L407.1,367.4 L408.2,366.9 L409.3,366.1 L410.4,365.6 L411.5,365.5 L412.5,365.0 L413.6,364.7 L414.7,364.2 L415.8,363.7 L416.9,363.2 L418.0,362.3" fill="none" stroke="#ff6f84" stroke-width="2.9" stroke-linejoin="round" stroke-linecap="round" opacity="1.00"/>
<path d="M92.6,460.5 L93.7,459.8 L94.9,459.0 L96.0,458.3 L97.0,458.0 L98.2,458.2 L99.4,458.8 L100.5,459.5 L101.6,460.3 L102.8,461.2 L104.0,462.3 L104.8,463.1 L105.6,464.1 L106.4,465.1 L107.2,466.1 L108.0,467.0 L109.0,468.0 L110.0,468.9 L111.0,469.7 L112.0,470.5 L113.0,471.2 L114.1,471.9 L115.2,472.5 L116.3,473.0 L117.4,473.4 L118.5,473.6 L119.7,473.8 L121.0,474.0 L122.2,474.1 L123.5,474.1 L124.9,474.1 L126.3,474.2 L127.7,474.5 L128.9,474.8 L130.1,475.3 L131.3,475.8 L132.5,476.3 L133.8,476.9 L135.0,477.5 L136.1,478.1 L137.2,478.6 L138.2,479.3 L139.3,479.9 L140.4,480.6 L141.5,481.3 L142.6,482.0 L143.6,482.7 L144.7,483.4 L145.6,484.1 L146.7,484.8 L147.7,485.6 L148.8,486.5 L150.0,487.5 L150.8,488.2 L151.7,489.0 L152.6,489.8 L153.6,490.7 L154.6,491.6 L155.6,492.4 L156.5,493.3 L157.5,494.2 L158.4,495.0 L159.2,495.8 L160.0,496.5 L161.2,497.6 L162.3,498.6 L163.3,499.6 L164.2,500.4 L165.1,501.2 L166.0,502.0 L167.0,502.9 L168.0,503.8 L168.9,504.7 L169.9,505.4 L171.0,506.0 L172.2,506.5 L173.6,507.0 L175.0,507.4 L176.3,507.6 L177.5,507.5 L178.8,507.1 L179.9,506.3 L181.0,505.3 L182.0,504.0 L182.6,503.1 L183.1,502.1 L183.6,501.0 L184.0,499.8 L184.5,498.6 L185.0,497.3 L185.5,496.0 L186.0,494.9 L186.4,493.8 L186.9,492.6 L187.3,491.4 L187.8,490.2 L188.3,488.9 L188.7,487.5 L189.2,486.0 L189.5,484.9 L189.8,483.8 L190.2,482.5 L190.5,481.3 L190.8,480.0 L191.1,478.6 L191.5,477.3 L191.8,476.0 L192.1,474.7 L192.4,473.4 L192.7,472.2 L193.0,471.0 L193.3,469.7 L193.7,468.4 L194.0,467.1 L194.3,465.9 L194.6,464.8 L194.9,463.6 L195.2,462.4 L195.5,461.3 L195.7,460.1 L196.0,459.0 L196.3,457.7 L196.5,456.4 L196.7,455.2 L196.9,453.9 L197.1,452.7 L197.3,451.5 L197.5,450.3 L197.7,449.1 L198.0,448.0 L198.4,446.6 L198.8,445.1 L199.2,443.7 L199.7,442.4 L200.1,441.1 L200.6,440.0 L201.0,439.0 L201.7,437.6 L202.5,436.5 L203.2,435.7 L203.9,435.0 L205.4,433.7 L206.8,433.5 L207.5,434.1 L208.1,435.0 L208.8,436.3 L209.5,438.0 L209.9,439.0 L210.2,440.1 L210.6,441.3 L211.0,442.6 L211.4,443.9 L211.8,445.3 L212.2,446.7 L212.6,448.0 L213.0,449.2 L213.3,450.4 L213.6,451.5 L214.0,452.7 L214.3,454.0 L214.7,455.2 L215.1,456.4 L215.5,457.7 L216.0,459.0 L216.4,460.1 L216.9,461.2 L217.4,462.4 L217.9,463.5 L218.4,464.7 L218.9,465.9 L219.4,467.0 L219.9,468.2 L220.5,469.3 L220.9,470.4 L221.4,471.4 L222.0,472.7 L222.6,474.0 L223.1,475.3 L223.7,476.5 L224.2,477.6 L224.7,478.8 L225.3,479.9 L225.8,481.0 L226.4,482.2 L227.0,483.4 L227.6,484.6 L228.2,485.8 L228.8,486.9 L229.5,487.9 L230.2,489.0 L231.0,490.0 L231.8,491.0 L232.6,492.0 L233.4,492.9 L234.3,493.8 L235.2,494.7 L236.0,495.5 L237.0,496.5 L238.0,497.4 L239.0,498.3 L240.0,499.1 L241.0,499.9 L241.9,500.5 L243.2,501.3 L244.5,501.8 L245.8,502.2 L247.0,502.5 L248.2,502.7 L249.4,502.7 L250.7,502.7 L252.0,502.5 L253.1,502.3 L254.3,502.1 L255.5,501.7 L256.7,501.2 L258.0,500.6 L258.9,500.0 L259.9,499.3 L260.9,498.5 L261.9,497.7 L263.0,496.8 L264.0,495.9 L265.0,495.0 L265.9,494.2 L266.7,493.4 L267.6,492.6 L268.4,491.7 L269.3,490.8 L270.2,489.9 L271.1,489.0 L272.0,488.0 L272.8,487.2 L273.5,486.3 L274.3,485.4 L275.1,484.5 L275.9,483.6 L276.7,482.6 L277.5,481.7 L278.3,480.8 L279.2,479.9 L280.0,479.0 L280.9,478.2 L281.8,477.3 L282.7,476.5 L283.6,475.6 L284.5,474.8 L285.4,474.0 L286.3,473.2 L287.2,472.5 L288.1,471.7 L289.0,471.0 L290.0,470.2 L291.0,469.5 L291.9,468.9 L292.9,468.2 L293.8,467.6 L294.8,466.9 L295.9,466.0 L297.0,465.0 L297.8,464.3 L298.6,463.5 L299.4,462.6 L300.3,462.3 L301.2,461.3 L302.1,460.3 L303.0,459.3 L303.9,457.0 L304.8,456.0 L305.7,455.1 L306.5,454.2 L307.3,454.3 L308.0,453.5 L308.9,452.2 L309.8,451.1 L310.6,450.0 L311.3,449.0 L312.0,447.6 L312.7,446.6 L313.4,446.1 L314.2,445.1 L315.0,444.1 L315.8,443.2 L316.7,442.3 L317.6,441.4 L318.5,439.9 L319.4,439.0 L320.4,438.5 L321.3,437.6 L322.2,436.7 L323.1,435.8 L323.9,435.3 L324.8,434.3 L325.6,433.7 L326.4,432.6 L327.2,431.5 L328.0,430.5 L328.7,429.0 L329.5,428.0 L330.2,426.9 L331.0,425.9 L331.9,424.7 L332.8,423.7 L333.6,422.4 L334.5,421.5 L335.4,420.6 L336.2,419.7 L337.1,419.4 L337.9,418.5 L338.7,417.3 L339.5,416.4 L340.2,415.5 L341.0,414.6 L341.7,414.3 L342.5,413.4 L343.2,411.9 L344.0,411.0 L344.9,410.0 L345.8,409.0 L346.7,407.5 L347.6,406.5 L348.5,405.2 L349.3,404.2 L350.2,403.8 L351.2,402.8 L352.2,401.7 L353.1,400.9 L354.1,400.6 L355.0,399.8 L356.0,399.7 L357.0,398.9 L357.9,397.6 L358.9,396.8 L359.8,395.3 L360.9,394.4 L362.0,394.6 L362.9,393.9 L363.8,393.1 L364.7,392.4 L365.6,391.6 L366.6,390.9 L367.7,390.3 L368.8,389.5 L370.0,388.4 L370.9,387.7 L371.8,387.0 L372.7,386.2 L373.8,384.7 L374.8,383.8 L375.8,383.8 L376.9,383.0 L377.9,382.1 L378.9,381.3 L379.9,379.4 L380.8,378.7 L381.7,378.9 L383.1,378.0 L384.3,377.2 L385.5,376.5 L386.6,375.6 L387.7,375.1 L388.8,374.7 L390.0,374.0 L391.0,373.4 L392.1,372.7 L393.1,372.7 L394.2,372.1 L395.2,370.8 L396.3,370.2 L397.4,370.0 L398.5,369.5 L399.6,368.3 L400.8,367.7 L402.0,368.0 L403.2,367.5 L404.4,367.1 L405.6,366.6 L406.8,365.5 L408.0,364.9 L409.1,364.6 L410.2,364.1 L411.3,364.0 L412.4,363.4 L413.5,362.6 L414.6,362.0 L415.8,361.1 L416.9,360.5 L418.0,359.6" fill="none" stroke="#dcb0a8" stroke-width="3.2" stroke-linejoin="round" stroke-linecap="round" opacity="1.00"/>
<path d="M92.6,446.5 L94.1,446.7 L95.6,446.9 L97.0,447.4 L97.9,448.1 L98.8,449.0 L99.6,450.0 L100.5,451.0 L101.4,452.0 L102.2,453.0 L103.1,454.0 L104.0,455.3 L104.6,456.3 L105.3,457.4 L106.0,458.5 L106.6,459.7 L107.3,460.9 L108.0,462.0 L108.7,463.1 L109.3,464.1 L110.0,465.2 L110.6,466.2 L111.3,467.1 L112.0,468.0 L113.0,469.2 L114.1,470.3 L115.2,471.2 L116.3,472.0 L117.4,472.6 L118.5,473.0 L119.7,473.3 L121.0,473.5 L122.2,473.6 L123.5,473.7 L124.9,473.7 L126.3,473.8 L127.7,474.0 L128.9,474.3 L130.1,474.8 L131.3,475.2 L132.5,475.8 L133.8,476.4 L135.0,477.0 L136.1,477.6 L137.2,478.1 L138.2,478.8 L139.3,479.4 L140.4,480.1 L141.5,480.8 L142.6,481.5 L143.6,482.2 L144.7,482.9 L145.6,483.6 L146.7,484.3 L147.7,485.1 L148.8,486.0 L150.0,487.0 L150.8,487.7 L151.7,488.5 L152.6,489.3 L153.6,490.2 L154.6,491.1 L155.6,491.9 L156.5,492.8 L157.5,493.7 L158.4,494.5 L159.2,495.3 L160.0,496.0 L161.2,497.1 L162.3,498.1 L163.3,499.1 L164.2,499.9 L165.1,500.7 L166.0,501.5 L167.0,502.4 L168.0,503.3 L168.9,504.2 L169.9,504.9 L171.0,505.5 L172.2,506.0 L173.6,506.5 L175.0,506.8 L176.3,507.0 L177.5,506.9 L178.8,506.4 L179.9,505.5 L181.0,504.4 L182.0,503.0 L182.6,502.1 L183.1,501.1 L183.6,500.0 L184.0,498.8 L184.5,497.6 L185.0,496.3 L185.5,495.0 L186.0,493.9 L186.4,492.8 L186.9,491.6 L187.3,490.4 L187.8,489.2 L188.3,487.9 L188.7,486.5 L189.2,485.0 L189.5,483.9 L189.8,482.8 L190.2,481.5 L190.5,480.3 L190.8,479.0 L191.1,477.6 L191.5,476.3 L191.8,475.0 L192.1,473.7 L192.4,472.4 L192.7,471.2 L193.0,470.0 L193.3,468.7 L193.7,467.4 L194.0,466.1 L194.3,464.9 L194.6,463.8 L194.9,462.6 L195.2,461.4 L195.5,460.3 L195.7,459.1 L196.0,458.0 L196.3,456.7 L196.5,455.4 L196.7,454.2 L196.9,452.9 L197.1,451.7 L197.3,450.5 L197.5,449.3 L197.7,448.1 L198.0,447.0 L198.4,445.6 L198.8,444.1 L199.2,442.8 L199.7,441.4 L200.1,440.2 L200.6,439.0 L201.0,438.0 L201.7,436.5 L202.5,435.4 L203.2,434.5 L203.9,433.8 L205.4,432.5 L206.8,432.3 L207.5,432.9 L208.1,433.9 L208.8,435.3 L209.5,437.0 L209.9,438.0 L210.2,439.1 L210.6,440.3 L211.0,441.6 L211.4,442.9 L211.8,444.3 L212.2,445.7 L212.6,447.0 L213.0,448.2 L213.3,449.4 L213.6,450.5 L214.0,451.7 L214.3,453.0 L214.7,454.2 L215.1,455.4 L215.5,456.7 L216.0,458.0 L216.4,459.1 L216.9,460.2 L217.4,461.4 L217.9,462.5 L218.4,463.7 L218.9,464.9 L219.4,466.0 L219.9,467.2 L220.5,468.3 L220.9,469.4 L221.4,470.4 L222.0,471.7 L222.6,473.0 L223.1,474.3 L223.7,475.5 L224.2,476.6 L224.7,477.8 L225.3,478.9 L225.8,480.0 L226.4,481.2 L227.0,482.4 L227.6,483.6 L228.2,484.7 L228.8,485.8 L229.5,486.9 L230.2,487.9 L231.0,488.9 L231.8,489.9 L232.6,490.9 L233.4,491.8 L234.3,492.8 L235.2,493.6 L236.0,494.5 L237.0,495.5 L238.0,496.4 L239.0,497.3 L240.0,498.2 L241.0,499.0 L241.9,499.6 L243.2,500.3 L244.5,500.9 L245.8,501.2 L247.0,501.5 L248.2,501.7 L249.4,501.7 L250.7,501.7 L252.0,501.5 L253.1,501.3 L254.3,501.1 L255.5,500.7 L256.7,500.2 L258.0,499.6 L258.9,499.0 L259.9,498.3 L260.9,497.5 L261.9,496.7 L263.0,495.8 L264.0,494.9 L265.0,494.0 L265.9,493.2 L266.7,492.4 L267.6,491.6 L268.4,490.7 L269.3,489.8 L270.2,488.9 L271.1,488.0 L272.0,487.0 L272.8,486.2 L273.5,485.3 L274.3,484.4 L275.1,483.5 L275.9,482.6 L276.7,481.6 L277.5,480.7 L278.3,479.8 L279.2,478.9 L280.0,478.0 L280.9,477.2 L281.8,476.3 L282.7,475.5 L283.6,474.6 L284.5,473.8 L285.4,473.0 L286.3,472.2 L287.2,471.5 L288.1,470.7 L289.0,470.0 L290.0,469.2 L291.0,468.5 L291.9,467.9 L292.9,467.2 L293.8,466.6 L294.8,465.9 L295.9,465.0 L297.0,464.0 L297.8,463.3 L298.6,462.5 L299.4,461.6 L300.3,460.3 L301.2,459.3 L302.1,458.8 L303.0,457.7 L303.9,456.5 L304.8,455.5 L305.7,454.8 L306.5,453.9 L307.3,453.0 L308.0,452.2 L308.9,450.3 L309.8,449.2 L310.6,448.1 L311.3,447.1 L312.0,447.3 L312.7,446.4 L313.4,444.6 L314.2,443.6 L315.0,442.6 L315.8,441.7 L316.7,441.9 L317.6,441.0 L318.5,439.4 L319.4,438.5 L320.4,438.1 L321.3,437.2 L322.2,435.8 L323.1,434.9 L323.9,434.2 L324.8,433.2 L325.6,431.5 L326.4,430.5 L327.2,430.1 L328.0,429.1 L328.7,428.4 L329.5,427.4 L330.2,426.0 L331.0,425.0 L331.9,424.3 L332.8,423.3 L333.6,422.2 L334.5,421.3 L335.4,419.5 L336.2,418.5 L337.1,418.5 L337.9,417.6 L338.7,416.3 L339.5,415.3 L340.2,413.8 L341.0,412.8 L341.7,411.4 L342.5,410.4 L343.2,410.5 L344.0,409.5 L344.8,408.0 L345.6,407.0 L346.3,406.3 L347.1,405.3 L347.9,404.6 L348.7,403.7 L349.4,402.5 L350.2,401.7 L351.2,401.0 L352.2,400.0 L353.1,398.4 L354.1,397.5 L355.0,397.3 L356.0,396.4 L357.0,395.1 L357.9,394.3 L358.9,394.2 L359.8,393.4 L360.9,392.5 L362.0,391.5 L362.9,389.7 L363.8,388.9 L364.7,388.2 L365.6,387.3 L366.6,386.6 L367.7,385.6 L368.8,385.7 L370.0,384.7 L370.8,383.2 L371.6,382.4 L372.5,381.9 L373.4,381.0 L374.4,379.7 L375.3,378.8 L376.3,378.2 L377.3,377.3 L378.2,376.3 L379.2,375.5 L380.1,374.7 L380.9,373.9 L381.7,373.6 L382.9,372.7 L384.0,371.9 L385.1,371.2 L386.0,371.0 L387.0,370.4 L388.0,369.5 L389.0,368.9 L390.0,368.6 L391.0,367.9 L392.1,367.1 L393.1,366.4 L394.2,365.9 L395.2,365.2 L396.3,364.0 L397.4,363.3 L398.5,361.9 L399.5,361.3 L400.5,361.7 L401.6,361.1 L402.6,360.6 L403.7,360.0 L404.8,359.3 L405.8,358.7 L406.9,357.7 L408.0,357.1 L409.1,356.7 L410.2,356.2 L411.3,354.9 L412.4,354.3 L413.5,354.7 L414.6,354.1 L415.8,353.2 L416.9,352.7 L418.0,351.7" fill="none" stroke="#e8b4ae" stroke-width="2.8" stroke-linejoin="round" stroke-linecap="round" opacity="1.00"/>
<path d="M92.6,418.4 L94.1,418.9 L95.6,419.3 L97.0,420.2 L97.8,421.1 L98.5,422.2 L99.1,423.4 L99.8,424.7 L100.5,426.0 L101.1,427.0 L101.6,428.1 L102.2,429.1 L102.7,430.2 L103.3,431.4 L104.0,432.5 L104.6,433.5 L105.3,434.6 L106.0,435.7 L106.7,436.8 L107.5,437.9 L108.2,439.0 L109.0,440.0 L109.8,441.0 L110.6,442.0 L111.4,443.0 L112.2,444.0 L113.0,444.9 L113.8,445.7 L114.6,446.5 L115.7,447.4 L116.8,448.2 L117.9,448.9 L118.9,449.5 L120.0,450.0 L121.1,450.5 L122.2,450.8 L123.4,451.2 L125.0,451.8 L126.0,452.2 L127.0,452.8 L128.3,453.3 L129.5,453.9 L130.8,454.6 L132.1,455.2 L133.4,455.9 L134.5,456.5 L135.6,457.0 L137.0,457.7 L138.2,458.3 L139.3,458.9 L140.4,459.6 L141.5,460.2 L142.6,461.0 L143.6,461.7 L144.6,462.5 L145.6,463.3 L146.6,464.1 L147.7,465.0 L148.8,466.0 L150.0,467.0 L150.8,467.7 L151.7,468.5 L152.6,469.3 L153.6,470.2 L154.6,471.1 L155.6,471.9 L156.5,472.8 L157.5,473.7 L158.4,474.5 L159.2,475.3 L160.0,476.0 L161.1,477.0 L162.0,478.0 L162.9,478.9 L163.7,479.7 L164.5,480.5 L165.3,481.2 L166.0,482.0 L167.0,483.0 L167.9,484.1 L168.8,485.0 L169.6,485.8 L170.5,486.5 L171.9,487.3 L173.2,487.8 L174.6,487.9 L176.0,487.9 L177.5,487.6 L179.0,486.5 L179.6,485.8 L180.1,485.0 L180.7,484.1 L181.3,483.0 L181.8,481.9 L182.4,480.6 L182.9,479.4 L183.5,478.0 L183.9,477.0 L184.3,475.9 L184.7,474.8 L185.1,473.7 L185.5,472.5 L185.9,471.3 L186.3,470.0 L186.7,468.7 L187.1,467.3 L187.4,465.9 L187.8,464.5 L188.1,463.4 L188.3,462.3 L188.6,461.1 L188.8,460.0 L189.1,458.7 L189.3,457.5 L189.6,456.3 L189.8,455.0 L190.1,453.7 L190.3,452.4 L190.5,451.1 L190.8,449.8 L191.0,448.6 L191.3,447.3 L191.5,446.0 L191.7,444.8 L192.0,443.6 L192.2,442.3 L192.4,441.1 L192.7,439.8 L192.9,438.5 L193.1,437.3 L193.3,436.0 L193.6,434.7 L193.8,433.5 L194.0,432.3 L194.3,431.0 L194.5,429.9 L194.7,428.7 L194.9,427.6 L195.1,426.5 L195.4,425.1 L195.6,423.7 L195.9,422.4 L196.1,421.1 L196.4,419.8 L196.6,418.6 L196.8,417.4 L197.1,416.2 L197.3,415.1 L197.5,414.0 L197.8,413.0 L198.0,412.0 L198.4,410.4 L198.9,408.9 L199.3,407.6 L199.7,406.3 L200.1,405.2 L200.6,404.1 L201.0,403.1 L201.7,401.5 L202.5,400.2 L203.2,399.2 L203.9,398.7 L204.9,398.9 L205.8,399.9 L206.8,401.6 L207.1,402.4 L207.5,403.4 L207.8,404.4 L208.1,405.5 L208.5,406.7 L208.8,408.1 L209.1,409.5 L209.5,411.0 L209.7,412.0 L210.0,413.1 L210.2,414.2 L210.4,415.4 L210.7,416.6 L210.9,417.9 L211.2,419.1 L211.4,420.4 L211.6,421.7 L211.9,422.9 L212.1,424.2 L212.4,425.4 L212.6,426.5 L212.9,427.8 L213.1,429.1 L213.4,430.3 L213.7,431.6 L213.9,432.8 L214.2,434.0 L214.4,435.2 L214.7,436.4 L215.0,437.6 L215.2,438.8 L215.5,440.0 L215.8,441.3 L216.1,442.6 L216.4,443.9 L216.7,445.2 L217.0,446.5 L217.3,447.8 L217.6,449.0 L217.9,450.3 L218.2,451.5 L218.5,452.8 L218.8,454.0 L219.1,455.2 L219.5,456.4 L219.8,457.5 L220.1,458.6 L220.4,459.8 L220.8,461.0 L221.2,462.3 L221.6,463.6 L222.0,465.0 L222.3,466.1 L222.7,467.3 L223.0,468.5 L223.4,469.8 L223.8,471.1 L224.2,472.4 L224.6,473.8 L225.0,475.1 L225.5,476.4 L225.8,477.7 L226.2,478.9 L226.6,480.0 L227.0,481.1 L227.3,482.0 L227.9,483.6 L228.4,485.0 L228.9,486.1 L229.4,487.1 L229.9,488.1 L230.4,489.0 L231.0,490.0 L231.8,491.2 L232.6,492.4 L233.4,493.6 L234.3,494.7 L235.2,495.8 L236.0,496.7 L237.0,497.7 L237.9,498.5 L238.9,499.2 L239.9,499.9 L241.0,500.5 L242.2,501.1 L243.6,501.6 L245.0,502.0 L246.4,502.4 L247.7,502.5 L249.0,502.5 L250.3,502.3 L251.5,501.9 L252.8,501.5 L254.0,501.0 L255.0,500.5 L255.9,500.0 L256.9,499.4 L257.9,498.7 L258.9,497.9 L260.0,497.0 L260.8,496.3 L261.6,495.5 L262.5,494.7 L263.4,493.8 L264.3,492.8 L265.3,491.9 L266.2,490.9 L267.1,490.0 L268.0,489.0 L268.8,488.1 L269.6,487.2 L270.4,486.3 L271.2,485.4 L272.1,484.5 L272.9,483.5 L273.7,482.6 L274.5,481.7 L275.2,480.8 L276.0,480.0 L276.9,479.0 L277.8,478.0 L278.7,477.0 L279.6,476.1 L280.4,475.2 L281.3,474.3 L282.1,473.4 L283.0,472.5 L284.0,471.5 L285.0,470.6 L286.0,469.7 L287.0,468.8 L288.0,467.9 L289.0,466.9 L290.0,466.0 L290.9,465.2 L291.8,464.3 L292.6,463.5 L293.5,462.7 L294.4,461.8 L295.2,460.9 L296.1,460.0 L297.0,459.0 L297.8,458.1 L298.6,457.2 L299.4,456.2 L300.2,455.2 L301.0,454.2 L301.7,453.1 L302.5,452.1 L303.3,451.1 L304.0,450.0 L304.7,448.9 L305.4,447.8 L306.0,446.7 L306.7,445.6 L307.3,444.4 L308.0,443.3 L308.6,442.2 L309.3,441.1 L310.0,440.0 L310.7,439.0 L311.4,438.0 L312.2,437.1 L312.9,436.2 L313.7,435.3 L314.5,434.4 L315.2,433.4 L316.0,432.4 L316.8,431.2 L317.4,430.3 L318.0,429.3 L318.5,428.2 L319.1,427.2 L319.7,426.1 L320.3,425.0 L320.9,423.8 L321.5,422.7 L322.1,421.5 L322.7,420.3 L323.3,419.2 L324.0,418.0 L324.6,417.0 L325.2,415.9 L325.8,414.9 L326.4,413.8 L327.0,412.7 L327.7,411.6 L328.3,410.5 L328.9,409.4 L329.6,408.3 L330.2,407.2 L330.8,405.8 L331.4,404.8 L332.0,403.6 L332.6,402.6 L333.3,401.9 L334.0,400.8 L334.7,399.4 L335.4,398.3 L336.1,397.2 L336.8,396.2 L337.4,395.7 L338.1,394.7 L338.7,394.5 L339.4,393.5 L340.0,392.4 L340.8,391.3 L341.5,390.1 L342.3,388.9 L343.0,387.0 L343.8,385.9 L344.5,385.3 L345.3,384.2 L346.0,382.8 L346.7,381.8 L347.5,380.5 L348.3,379.4 L349.1,378.3 L349.8,377.3 L350.6,376.4 L351.4,375.4 L352.2,375.3 L353.0,374.3 L353.7,373.2 L354.5,372.3 L355.2,371.3 L356.0,370.4 L356.8,369.4 L357.6,368.5 L358.4,366.7 L359.2,365.7 L360.0,364.8 L360.8,363.9 L361.5,363.4 L362.3,362.4 L363.1,361.6 L363.9,360.5 L364.8,359.7 L365.6,358.7 L366.4,357.7 L367.2,356.7 L368.0,354.5 L368.7,353.6 L369.5,353.3 L370.2,352.4 L370.9,351.5 L371.6,350.5 L372.4,349.3 L373.1,348.3 L373.8,346.8 L374.5,345.9 L375.3,345.4 L376.0,344.5 L376.8,343.0 L377.6,342.0 L378.4,342.3 L379.2,341.3 L380.0,340.3 L380.8,339.5 L381.6,338.1 L382.4,337.3 L383.2,336.1 L384.0,335.2 L384.9,335.1 L385.8,334.2 L386.7,332.8 L387.6,331.9 L388.4,331.4 L389.3,330.5 L390.2,329.6 L391.1,328.8 L392.0,327.5 L393.0,326.7 L394.0,325.8 L395.0,325.0 L395.9,324.6 L396.9,323.9 L397.9,323.0 L399.0,322.2 L400.0,321.0 L401.0,320.3 L401.9,319.7 L402.9,318.9 L403.9,318.8 L404.9,317.9 L406.0,316.0 L407.0,315.1 L408.0,314.3 L409.0,313.5 L410.0,313.4 L411.0,312.6 L412.0,311.3 L413.0,310.4 L414.0,309.9 L415.0,309.1 L416.0,308.2 L417.0,307.3 L418.0,306.3" fill="none" stroke="#c8929c" stroke-width="2.8" stroke-linejoin="round" stroke-linecap="round" opacity="1.00"/>
<path d="M92.6,385.0 L93.7,385.8 L94.9,386.6 L96.0,387.5 L97.0,388.6 L97.6,389.5 L98.2,390.4 L98.8,391.4 L99.4,392.5 L99.9,393.7 L100.5,395.0 L100.9,396.0 L101.4,397.2 L101.8,398.3 L102.2,399.6 L102.7,400.8 L103.1,402.0 L103.5,403.2 L104.0,404.4 L104.5,405.7 L105.1,406.9 L105.6,408.2 L106.2,409.4 L106.8,410.6 L107.4,411.8 L108.0,413.0 L108.6,414.2 L109.3,415.3 L110.0,416.4 L110.7,417.6 L111.4,418.6 L112.1,419.6 L112.8,420.5 L113.8,421.6 L114.8,422.6 L115.8,423.5 L116.8,424.2 L118.0,425.0 L119.0,425.6 L120.1,426.0 L121.3,426.5 L122.5,426.9 L123.7,427.4 L125.0,428.0 L126.0,428.5 L127.0,429.0 L128.1,429.6 L129.1,430.1 L130.2,430.7 L131.4,431.4 L132.6,432.2 L133.9,433.0 L134.8,433.6 L135.8,434.3 L136.8,434.9 L137.8,435.7 L138.8,436.4 L139.9,437.2 L141.0,438.0 L142.0,438.8 L143.1,439.6 L144.1,440.4 L145.1,441.2 L146.1,442.0 L147.1,442.8 L148.0,443.7 L149.0,444.6 L149.9,445.5 L150.9,446.4 L151.8,447.3 L152.7,448.2 L153.6,449.0 L154.5,449.9 L155.3,450.6 L156.0,451.4 L156.7,452.0 L158.1,453.2 L159.2,454.1 L160.2,454.9 L161.0,455.6 L162.0,456.5 L162.9,457.4 L163.7,458.3 L164.6,459.3 L165.5,460.2 L166.3,461.2 L167.0,462.0 L168.0,463.2 L168.8,464.4 L169.7,465.4 L170.5,466.0 L171.6,466.1 L172.8,465.5 L174.0,464.5 L174.6,463.8 L175.3,462.9 L176.0,461.9 L176.7,460.9 L177.4,459.7 L178.0,458.5 L178.5,457.5 L179.1,456.4 L179.6,455.4 L180.1,454.2 L180.6,453.0 L181.0,451.6 L181.5,450.0 L181.8,449.0 L182.0,447.9 L182.3,446.8 L182.5,445.6 L182.8,444.3 L183.0,443.1 L183.3,441.7 L183.5,440.4 L183.7,439.1 L184.0,437.7 L184.2,436.4 L184.5,435.0 L184.7,433.9 L185.0,432.7 L185.2,431.6 L185.4,430.4 L185.7,429.3 L185.9,428.1 L186.1,427.0 L186.4,425.8 L186.6,424.5 L186.9,423.2 L187.1,421.9 L187.3,420.6 L187.6,419.2 L187.8,417.7 L188.0,416.6 L188.1,415.5 L188.3,414.3 L188.5,413.1 L188.6,411.9 L188.8,410.6 L189.0,409.4 L189.1,408.1 L189.3,406.7 L189.4,405.4 L189.6,404.1 L189.8,402.8 L189.9,401.5 L190.1,400.2 L190.2,398.9 L190.4,397.7 L190.6,396.4 L190.7,395.3 L190.9,394.1 L191.0,393.0 L191.2,391.6 L191.4,390.2 L191.6,388.9 L191.7,387.6 L191.9,386.3 L192.1,385.1 L192.2,383.9 L192.4,382.7 L192.6,381.5 L192.7,380.4 L192.9,379.2 L193.1,378.0 L193.2,376.9 L193.4,375.7 L193.6,374.5 L193.8,373.2 L194.0,371.9 L194.2,370.5 L194.4,369.2 L194.6,367.8 L194.8,366.5 L195.0,365.2 L195.2,363.9 L195.4,362.6 L195.7,361.4 L195.9,360.2 L196.1,359.1 L196.3,358.0 L196.5,357.0 L196.9,355.4 L197.2,353.9 L197.6,352.5 L198.0,351.2 L198.4,350.1 L198.8,349.1 L199.1,348.2 L199.5,347.5 L201.0,345.9 L202.4,346.0 L203.0,346.6 L203.7,347.7 L204.2,349.0 L204.8,350.5 L205.1,351.5 L205.5,352.6 L205.8,353.8 L206.1,355.1 L206.4,356.5 L206.8,358.0 L207.0,359.0 L207.3,360.1 L207.5,361.2 L207.8,362.3 L208.1,363.5 L208.4,364.8 L208.6,366.0 L208.9,367.3 L209.2,368.7 L209.5,370.0 L209.7,371.1 L210.0,372.3 L210.3,373.5 L210.5,374.7 L210.8,376.0 L211.0,377.2 L211.3,378.5 L211.6,379.8 L211.8,381.1 L212.1,382.4 L212.3,383.7 L212.6,385.0 L212.8,386.2 L213.1,387.4 L213.3,388.6 L213.5,389.8 L213.7,390.9 L213.9,392.1 L214.2,393.4 L214.4,394.6 L214.6,395.8 L214.8,397.1 L215.1,398.4 L215.3,399.7 L215.5,401.0 L215.7,402.1 L215.9,403.2 L216.0,404.3 L216.2,405.4 L216.4,406.6 L216.6,407.7 L216.8,408.9 L217.0,410.1 L217.1,411.2 L217.3,412.5 L217.5,413.7 L217.7,414.9 L217.9,416.1 L218.1,417.4 L218.3,418.7 L218.5,420.0 L218.7,421.1 L218.8,422.3 L219.0,423.4 L219.2,424.6 L219.4,425.8 L219.6,427.0 L219.7,428.2 L219.9,429.5 L220.1,430.7 L220.3,431.9 L220.5,433.2 L220.7,434.4 L220.9,435.7 L221.0,436.9 L221.2,438.2 L221.4,439.4 L221.6,440.6 L221.8,441.8 L222.0,443.0 L222.2,444.3 L222.4,445.5 L222.6,446.8 L222.8,448.0 L223.1,449.3 L223.3,450.5 L223.5,451.8 L223.7,453.0 L223.9,454.2 L224.1,455.5 L224.4,456.7 L224.6,457.9 L224.8,459.1 L225.0,460.3 L225.2,461.5 L225.4,462.7 L225.6,463.9 L225.8,465.0 L226.0,466.3 L226.2,467.5 L226.4,468.8 L226.6,470.0 L226.8,471.2 L227.0,472.4 L227.2,473.6 L227.4,474.8 L227.6,476.0 L227.8,477.2 L228.0,478.3 L228.2,479.5 L228.4,480.6 L228.6,481.7 L228.8,482.9 L229.0,484.0 L229.3,485.3 L229.5,486.6 L229.8,487.9 L230.1,489.2 L230.4,490.5 L230.7,491.8 L231.0,493.1 L231.3,494.3 L231.6,495.5 L231.9,496.7 L232.2,497.9 L232.5,499.0 L232.8,500.0 L233.1,501.0 L233.6,502.6 L234.1,504.1 L234.5,505.4 L235.0,506.7 L235.5,507.8 L236.0,508.9 L236.5,510.0 L237.0,511.0 L237.8,512.3 L238.5,513.5 L239.3,514.7 L240.2,515.7 L241.0,516.6 L241.9,517.5 L243.0,518.4 L244.1,519.2 L245.2,519.9 L246.4,520.4 L247.5,520.7 L248.9,520.8 L250.3,520.6 L251.7,520.1 L253.0,519.5 L254.0,518.9 L255.0,518.1 L256.0,517.3 L256.9,516.3 L258.0,515.4 L258.9,514.6 L259.9,513.8 L260.9,512.9 L261.9,512.0 L263.0,511.0 L264.0,510.0 L264.9,509.1 L265.8,508.1 L266.8,507.2 L267.7,506.2 L268.6,505.1 L269.5,504.1 L270.4,503.0 L271.1,502.1 L271.8,501.1 L272.5,500.1 L273.2,499.2 L273.9,498.1 L274.5,497.1 L275.3,496.1 L276.0,495.0 L276.7,494.0 L277.4,493.1 L278.1,492.1 L278.8,491.1 L279.6,490.1 L280.3,489.1 L281.1,488.0 L281.8,486.8 L282.6,485.6 L283.2,484.6 L283.8,483.6 L284.4,482.5 L285.0,481.3 L285.6,480.2 L286.2,479.0 L286.9,477.8 L287.5,476.6 L288.1,475.4 L288.8,474.2 L289.4,473.1 L290.0,472.0 L290.7,470.9 L291.3,469.8 L292.0,468.7 L292.7,467.7 L293.3,466.7 L294.0,465.6 L294.7,464.6 L295.4,463.5 L296.1,462.4 L296.8,461.2 L297.5,460.0 L298.0,459.1 L298.6,458.1 L299.1,457.1 L299.7,456.0 L300.2,455.0 L300.8,453.9 L301.4,452.8 L301.9,451.7 L302.5,450.6 L303.1,449.5 L303.7,448.4 L304.2,447.3 L304.8,446.2 L305.4,445.1 L306.0,444.0 L306.6,442.9 L307.2,441.8 L307.8,440.7 L308.4,439.7 L309.1,438.6 L309.7,437.5 L310.3,436.4 L311.0,435.3 L311.6,434.2 L312.2,433.1 L312.8,432.0 L313.4,430.9 L314.0,429.8 L314.6,428.8 L315.1,427.7 L315.7,426.6 L316.2,425.4 L316.7,424.3 L317.2,423.2 L317.7,422.1 L318.2,420.9 L318.7,419.8 L319.1,418.7 L319.6,417.6 L320.1,416.5 L320.5,415.4 L321.0,414.2 L321.5,413.1 L322.0,412.0 L322.5,410.9 L323.0,409.7 L323.5,408.6 L324.0,407.4 L324.6,406.3 L325.1,405.2 L325.6,404.0 L326.1,402.9 L326.6,401.7 L327.2,400.6 L327.7,399.5 L328.1,398.3 L328.6,397.2 L329.1,396.1 L329.6,394.9 L330.1,393.9 L330.5,392.7 L331.0,391.8 L331.4,390.6 L331.9,389.5 L332.3,388.4 L332.7,387.5 L333.2,386.3 L333.6,384.8 L334.1,383.7 L334.5,382.8 L335.0,381.7 L335.5,379.1 L335.9,378.0 L336.4,377.5 L336.9,376.4 L337.3,376.0 L337.8,374.9 L338.3,373.3 L338.7,372.1 L339.2,371.4 L339.7,370.3 L340.3,367.9 L340.8,366.8 L341.4,366.3 L342.0,365.2 L342.6,363.7 L343.3,362.6 L344.0,362.0 L344.7,360.9 L345.4,359.9 L346.1,358.9 L346.8,356.9 L347.5,355.8 L348.2,355.1 L348.9,354.0 L349.5,353.0 L350.2,351.9 L350.8,351.9 L351.5,350.8 L352.1,349.4 L352.7,348.3 L353.3,346.3 L353.9,345.2 L354.4,345.1 L355.0,344.0 L355.6,341.8 L356.2,340.7 L356.8,340.4 L357.4,339.3 L358.0,337.4 L358.6,336.3 L359.2,335.0 L359.8,333.9 L360.4,334.2 L361.0,333.1 L361.6,331.0 L362.2,329.9 L362.8,328.8 L363.4,327.8 L364.0,327.9 L364.7,326.9 L365.3,325.6 L366.0,324.6 L366.7,322.6 L367.4,321.6 L368.2,321.6 L368.9,320.5 L369.7,318.8 L370.5,317.8 L371.2,317.0 L372.0,315.9 L372.8,314.2 L373.7,313.2 L374.5,313.5 L375.3,312.6 L376.1,311.3 L377.1,310.3 L378.0,309.8 L379.0,308.9 L380.0,307.9 L381.0,307.1 L382.0,305.3 L383.0,304.6 L384.0,303.9 L385.1,303.2 L386.2,302.2 L387.3,301.5 L388.4,300.8 L389.5,300.2 L390.7,299.5 L392.0,299.0 L393.2,298.8 L394.5,298.3 L395.7,298.3 L396.9,297.8 L398.1,296.4 L399.2,296.0 L400.3,296.7 L401.3,296.3 L402.8,295.2 L404.2,294.7 L405.4,294.2 L406.6,293.8 L407.7,294.3 L408.8,293.9 L410.0,293.0 L411.2,292.5 L412.3,291.8 L413.5,291.3 L414.6,291.1 L415.7,290.6 L416.9,290.5 L418.0,290.0" fill="none" stroke="#d06b96" stroke-width="2.8" stroke-linejoin="round" stroke-linecap="round" opacity="1.00"/>
<path d="M92.4,360.3 L92.9,361.5 L93.3,362.6 L93.7,363.7 L94.2,364.8 L94.6,366.0 L95.1,367.1 L95.5,368.3 L96.0,369.5 L96.5,370.7 L97.0,372.0 L97.4,373.0 L97.8,374.1 L98.2,375.2 L98.7,376.3 L99.1,377.5 L99.5,378.6 L100.0,379.8 L100.4,380.9 L100.9,382.1 L101.3,383.3 L101.7,384.4 L102.2,385.5 L102.6,386.6 L103.1,387.8 L103.5,388.9 L103.9,390.0 L104.4,391.2 L104.8,392.3 L105.3,393.4 L105.7,394.5 L106.1,395.6 L106.6,396.7 L107.1,397.8 L107.5,398.9 L108.0,400.0 L108.5,401.2 L109.1,402.5 L109.7,403.8 L110.3,405.1 L110.9,406.4 L111.5,407.7 L112.1,408.9 L112.7,410.0 L113.2,411.1 L113.8,412.1 L114.3,412.9 L115.4,414.3 L116.3,415.3 L117.2,416.0 L118.1,416.5 L119.0,417.0 L120.3,417.6 L121.5,418.0 L123.0,418.7 L123.8,419.3 L124.8,419.9 L125.8,420.7 L126.8,421.5 L127.9,422.3 L128.9,423.2 L130.0,424.0 L130.9,424.7 L131.9,425.5 L132.8,426.3 L133.8,427.1 L134.7,427.9 L135.7,428.7 L136.7,429.5 L137.7,430.4 L138.6,431.2 L139.5,432.0 L140.4,432.9 L141.3,433.7 L142.3,434.6 L143.2,435.5 L144.2,436.3 L145.1,437.2 L146.1,438.0 L147.1,438.8 L148.1,439.6 L149.2,440.3 L150.2,441.1 L151.3,441.9 L152.3,442.6 L153.3,443.4 L154.3,444.2 L155.2,445.0 L156.2,446.0 L157.1,446.9 L158.0,447.9 L158.9,449.0 L159.7,450.0 L160.5,451.0 L161.3,452.0 L162.0,453.0 L162.8,454.1 L163.6,455.3 L164.4,456.5 L165.1,457.6 L165.8,458.7 L166.4,459.6 L167.0,460.5 L168.2,462.1 L169.2,463.3 L170.2,464.0 L171.4,464.2 L172.7,463.8 L174.0,463.0 L174.8,462.2 L175.6,461.3 L176.4,460.1 L177.2,458.9 L178.0,457.5 L178.5,456.5 L179.1,455.5 L179.6,454.4 L180.1,453.2 L180.6,451.9 L181.0,450.5 L181.5,449.0 L181.8,447.9 L182.1,446.8 L182.3,445.7 L182.6,444.5 L182.9,443.2 L183.1,441.9 L183.4,440.6 L183.7,439.2 L183.9,437.8 L184.2,436.4 L184.5,435.0 L184.7,433.9 L185.0,432.8 L185.2,431.6 L185.4,430.5 L185.7,429.4 L185.9,428.2 L186.1,427.0 L186.4,425.8 L186.6,424.6 L186.9,423.3 L187.1,422.0 L187.3,420.6 L187.6,419.2 L187.8,417.7 L188.0,416.6 L188.1,415.5 L188.3,414.3 L188.5,413.1 L188.6,411.9 L188.8,410.7 L189.0,409.4 L189.1,408.1 L189.3,406.8 L189.4,405.5 L189.6,404.1 L189.8,402.8 L189.9,401.5 L190.1,400.2 L190.2,399.0 L190.4,397.7 L190.6,396.5 L190.7,395.3 L190.9,394.1 L191.0,393.0 L191.2,391.7 L191.4,390.3 L191.5,389.1 L191.7,387.8 L191.8,386.6 L192.0,385.4 L192.2,384.2 L192.3,383.0 L192.5,381.9 L192.6,380.7 L192.8,379.6 L192.9,378.5 L193.1,377.3 L193.3,376.2 L193.4,375.1 L193.6,373.9 L193.8,372.7 L194.0,371.4 L194.2,370.1 L194.3,368.8 L194.5,367.5 L194.7,366.3 L194.9,365.0 L195.1,363.8 L195.3,362.5 L195.5,361.3 L195.7,360.2 L195.9,359.0 L196.1,358.0 L196.3,357.0 L196.5,356.0 L196.9,354.3 L197.2,352.8 L197.6,351.3 L198.0,350.0 L198.4,348.8 L198.8,347.8 L199.1,346.9 L199.5,346.1 L201.0,344.5 L202.4,344.6 L203.0,345.2 L203.7,346.3 L204.2,347.6 L204.8,349.0 L205.1,350.0 L205.5,351.1 L205.8,352.2 L206.1,353.4 L206.4,354.8 L206.8,356.3 L207.0,357.3 L207.3,358.3 L207.5,359.4 L207.8,360.5 L208.1,361.7 L208.4,362.9 L208.6,364.1 L208.9,365.4 L209.2,366.7 L209.5,368.0 L209.7,369.1 L210.0,370.2 L210.3,371.4 L210.5,372.6 L210.8,373.8 L211.0,375.0 L211.3,376.2 L211.6,377.5 L211.8,378.8 L212.1,380.0 L212.3,381.3 L212.6,382.6 L212.8,383.8 L213.1,385.0 L213.3,386.2 L213.5,387.4 L213.7,388.7 L213.9,389.9 L214.2,391.2 L214.4,392.4 L214.6,393.7 L214.8,395.0 L215.1,396.3 L215.3,397.7 L215.5,399.0 L215.7,400.2 L215.9,401.4 L216.1,402.5 L216.3,403.7 L216.5,404.9 L216.7,406.1 L216.9,407.4 L217.1,408.6 L217.3,409.9 L217.5,411.1 L217.7,412.4 L217.9,413.7 L218.1,415.0 L218.3,416.3 L218.5,417.7 L218.7,418.9 L218.9,420.0 L219.1,421.2 L219.2,422.4 L219.4,423.7 L219.6,424.9 L219.8,426.1 L220.0,427.4 L220.2,428.7 L220.4,429.9 L220.6,431.2 L220.8,432.5 L221.0,433.8 L221.2,435.0 L221.4,436.3 L221.6,437.5 L221.8,438.8 L222.0,440.0 L222.2,441.2 L222.4,442.4 L222.6,443.7 L222.8,444.9 L223.1,446.1 L223.3,447.4 L223.5,448.6 L223.7,449.8 L223.9,451.0 L224.1,452.3 L224.4,453.5 L224.6,454.7 L224.8,455.9 L225.0,457.0 L225.2,458.2 L225.4,459.3 L225.6,460.5 L225.8,461.6 L226.0,462.9 L226.2,464.2 L226.5,465.5 L226.7,466.8 L226.9,468.0 L227.1,469.3 L227.3,470.5 L227.5,471.7 L227.7,472.9 L227.9,474.1 L228.1,475.3 L228.3,476.5 L228.5,477.7 L228.8,478.8 L229.0,480.0 L229.3,481.3 L229.5,482.5 L229.8,483.8 L230.1,485.1 L230.4,486.4 L230.7,487.7 L231.0,488.9 L231.3,490.1 L231.6,491.4 L231.9,492.5 L232.2,493.6 L232.5,494.7 L232.8,495.7 L233.1,496.7 L233.6,498.2 L234.1,499.6 L234.5,500.9 L235.0,502.1 L235.5,503.1 L236.0,504.1 L236.5,505.1 L237.0,506.0 L237.8,507.1 L238.5,508.2 L239.3,509.1 L240.2,509.9 L241.0,510.6 L241.9,511.3 L243.0,512.0 L244.1,512.7 L245.2,513.2 L246.4,513.6 L247.5,513.7 L248.6,513.5 L249.7,513.1 L250.8,512.4 L251.9,511.7 L253.0,511.0 L253.9,510.4 L254.8,509.9 L255.6,509.2 L256.6,508.2 L258.0,506.7 L258.6,506.0 L259.3,505.2 L260.0,504.3 L260.7,503.3 L261.5,502.3 L262.3,501.2 L263.2,500.1 L264.0,499.0 L264.9,497.9 L265.7,496.8 L266.5,495.7 L267.2,494.6 L267.9,493.6 L268.6,492.6 L269.4,491.4 L270.1,490.2 L270.8,489.1 L271.5,487.9 L272.1,486.8 L272.7,485.7 L273.3,484.6 L273.9,483.5 L274.5,482.5 L275.0,481.4 L275.6,480.4 L276.3,479.2 L276.9,478.0 L277.5,476.9 L278.1,475.7 L278.6,474.6 L279.2,473.5 L279.8,472.4 L280.4,471.2 L281.0,470.0 L281.5,469.0 L282.1,468.0 L282.6,467.0 L283.1,465.9 L283.7,464.9 L284.2,463.8 L284.8,462.7 L285.3,461.6 L285.9,460.4 L286.5,459.2 L287.0,458.0 L287.4,457.0 L287.9,455.9 L288.3,454.9 L288.7,453.8 L289.1,452.7 L289.6,451.5 L290.0,450.4 L290.4,449.2 L290.8,448.0 L291.3,446.8 L291.7,445.6 L292.1,444.4 L292.6,443.2 L293.0,442.0 L293.4,440.9 L293.8,439.7 L294.2,438.6 L294.6,437.4 L295.1,436.2 L295.5,435.0 L295.9,433.8 L296.3,432.6 L296.7,431.4 L297.2,430.2 L297.6,429.0 L298.0,427.8 L298.4,426.6 L298.9,425.4 L299.3,424.2 L299.7,423.1 L300.1,421.9 L300.5,420.8 L300.9,419.6 L301.3,418.5 L301.8,417.3 L302.2,416.2 L302.6,415.0 L303.0,413.9 L303.4,412.7 L303.8,411.6 L304.3,410.5 L304.7,409.3 L305.1,408.2 L305.6,407.1 L306.0,406.0 L306.5,404.8 L307.0,403.7 L307.5,402.5 L308.0,401.3 L308.5,400.2 L309.0,399.0 L309.5,397.9 L310.0,396.7 L310.5,395.6 L311.0,394.5 L311.5,393.4 L312.0,392.3 L312.4,391.2 L312.9,390.1 L313.3,389.1 L313.8,387.8 L314.3,386.6 L314.7,385.4 L315.2,384.2 L315.6,383.0 L316.0,381.9 L316.4,380.7 L316.8,379.6 L317.2,378.5 L317.6,377.3 L318.1,376.2 L318.5,375.0 L318.9,373.8 L319.4,372.6 L319.8,371.4 L320.3,370.2 L320.8,369.0 L321.2,367.8 L321.7,366.6 L322.1,365.4 L322.6,364.3 L323.0,363.2 L323.5,362.1 L323.9,361.0 L324.4,359.8 L324.9,358.6 L325.4,357.4 L325.9,356.3 L326.4,355.2 L327.0,354.2 L327.5,353.1 L328.0,352.1 L328.5,351.0 L329.0,350.0 L329.6,348.9 L330.2,347.8 L330.8,346.7 L331.4,345.7 L332.0,344.7 L332.6,343.6 L333.2,342.5 L333.8,341.3 L334.4,340.0 L334.9,339.0 L335.3,337.9 L335.8,336.7 L336.3,335.5 L336.7,334.2 L337.2,333.0 L337.7,331.8 L338.1,330.5 L338.6,329.3 L339.1,328.1 L339.5,327.0 L340.0,326.0 L340.6,324.7 L341.2,323.5 L341.8,322.4 L342.4,321.3 L343.0,320.2 L343.7,319.2 L344.3,318.1 L344.9,317.1 L345.5,316.0 L346.1,314.9 L346.7,313.8 L347.3,312.7 L348.0,311.6 L348.6,310.4 L349.2,309.3 L349.9,308.2 L350.5,307.1 L351.2,306.5 L351.8,305.5 L352.5,304.5 L353.1,303.5 L353.8,301.9 L354.5,300.9 L355.2,299.5 L355.9,298.5 L356.6,297.1 L357.3,296.2 L358.0,296.3 L358.8,295.2 L359.7,293.9 L360.5,292.8 L361.4,292.3 L362.3,291.3 L363.2,289.7 L364.1,288.7 L365.0,288.4 L365.8,287.4 L366.7,285.6 L367.6,284.5 L368.5,284.3 L369.4,283.3 L370.3,282.2 L371.2,281.2 L372.1,279.8 L373.0,278.9 L374.0,278.1 L375.1,277.1 L376.1,276.5 L377.1,275.6 L378.2,274.0 L379.3,273.2 L380.4,273.1 L381.4,272.5 L382.5,272.3 L383.6,271.7 L384.7,270.3 L385.8,269.8 L387.0,270.2 L388.1,269.8 L389.2,269.3 L390.4,269.0 L391.7,268.9 L392.9,268.7 L394.2,267.7 L395.4,267.6 L396.7,267.3 L397.9,267.3 L399.2,268.7 L400.5,269.0 L401.8,269.4 L403.1,269.9 L404.4,269.9 L405.6,270.4 L406.7,270.5 L407.9,271.1 L409.0,272.1 L410.1,272.9 L411.1,274.4 L412.0,275.3 L413.0,275.7 L414.0,276.6 L414.9,278.6 L415.8,279.7 L416.6,280.1 L417.5,281.1 L418.4,281.5" fill="none" stroke="#ff1f50" stroke-width="3.6" stroke-linejoin="round" stroke-linecap="round" opacity="1.00"/>
<path d="M93.3,361.6 L93.8,362.8 L94.2,363.9 L94.6,365.0 L95.1,366.1 L95.5,367.3 L96.0,368.4 L96.4,369.6 L96.9,370.8 L97.4,372.0 L97.9,373.3 L98.3,374.3 L98.7,375.4 L99.1,376.5 L99.6,377.6 L100.0,378.8 L100.4,379.9 L100.9,381.1 L101.3,382.2 L101.8,383.4 L102.2,384.6 L102.6,385.7 L103.1,386.8 L103.5,387.9 L104.0,389.1 L104.4,390.2 L104.8,391.3 L105.3,392.5 L105.7,393.6 L106.2,394.7 L106.6,395.8 L107.0,396.9 L107.5,398.0 L108.0,399.1 L108.4,400.2 L108.9,401.3 L109.4,402.5 L110.0,403.8 L110.6,405.1 L111.2,406.4 L111.8,407.7 L112.4,409.0 L113.0,410.2 L113.6,411.3 L114.1,412.4 L114.7,413.4 L115.2,414.2 L116.3,415.6 L117.2,416.6 L118.1,417.3 L119.0,417.8 L119.9,418.3 L121.2,418.9 L122.4,419.3 L123.9,420.0 L124.7,420.6 L125.7,421.2 L126.7,422.0 L127.7,422.8 L128.8,423.6 L129.8,424.5 L130.9,425.3 L131.8,426.0 L132.8,426.8 L133.7,427.6 L134.7,428.4 L135.6,429.2 L136.6,430.0 L137.6,430.8 L138.6,431.7 L139.5,432.5 L140.4,433.3 L141.3,434.2 L142.2,435.0 L143.2,435.9 L144.1,436.8 L145.1,437.6 L146.0,438.5 L147.0,439.3 L148.0,440.1 L149.0,440.9 L150.1,441.6 L151.1,442.4 L152.2,443.2 L153.2,443.9 L154.2,444.7 L155.2,445.5 L156.1,446.3 L157.1,447.3 L158.0,448.2 L158.9,449.2 L159.8,450.3 L160.6,451.3 L161.4,452.3 L162.2,453.3 L162.9,454.3 L163.7,455.4 L164.5,456.6 L165.3,457.8 L166.0,458.9 L166.7,460.0 L167.3,460.9 L167.9,461.8 L169.1,463.4 L170.1,464.6 L171.1,465.3 L172.3,465.5 L173.6,465.1 L174.9,464.3 L175.7,463.5 L176.5,462.6 L177.3,461.4 L178.1,460.2 L178.9,458.8 L179.4,457.8 L180.0,456.8 L180.5,455.7 L181.0,454.5 L181.5,453.2 L181.9,451.8 L182.4,450.3 L182.7,449.2 L183.0,448.1 L183.2,447.0 L183.5,445.8 L183.8,444.5 L184.0,443.2 L184.3,441.9 L184.6,440.5 L184.8,439.1 L185.1,437.7 L185.4,436.3 L185.6,435.2 L185.9,434.1 L186.1,432.9 L186.3,431.8 L186.6,430.7 L186.8,429.5 L187.0,428.3 L187.3,427.1 L187.5,425.9 L187.8,424.6 L188.0,423.3 L188.2,421.9 L188.5,420.5 L188.7,419.0 L188.9,417.9 L189.0,416.8 L189.2,415.6 L189.4,414.4 L189.5,413.2 L189.7,412.0 L189.9,410.7 L190.0,409.4 L190.2,408.1 L190.3,406.8 L190.5,405.4 L190.7,404.1 L190.8,402.8 L191.0,401.5 L191.1,400.3 L191.3,399.0 L191.5,397.8 L191.6,396.6 L191.8,395.4 L191.9,394.3 L192.1,393.0 L192.3,391.6 L192.4,390.4 L192.6,389.1 L192.7,387.9 L192.9,386.7 L193.1,385.5 L193.2,384.3 L193.4,383.2 L193.5,382.0 L193.7,380.9 L193.8,379.8 L194.0,378.6 L194.2,377.5 L194.3,376.4 L194.5,375.2 L194.7,374.0 L194.9,372.7 L195.1,371.4 L195.2,370.1 L195.4,368.8 L195.6,367.6 L195.8,366.3 L196.0,365.1 L196.2,363.8 L196.4,362.6 L196.6,361.5 L196.8,360.3 L197.0,359.3 L197.2,358.3 L197.4,357.3 L197.8,355.6 L198.1,354.1 L198.5,352.6 L198.9,351.3 L199.3,350.1 L199.7,349.1 L200.0,348.2 L200.4,347.4 L201.9,345.8 L203.3,345.9 L203.9,346.5 L204.6,347.5 L205.1,348.9 L205.7,350.3 L206.0,351.3 L206.4,352.4 L206.7,353.5 L207.0,354.7 L207.3,356.1 L207.7,357.6 L207.9,358.6 L208.2,359.6 L208.4,360.7 L208.7,361.8 L209.0,363.0 L209.3,364.2 L209.5,365.4 L209.8,366.7 L210.1,368.0 L210.4,369.3 L210.6,370.4 L210.9,371.5 L211.2,372.7 L211.4,373.9 L211.7,375.1 L211.9,376.3 L212.2,377.5 L212.5,378.8 L212.7,380.1 L213.0,381.3 L213.2,382.6 L213.5,383.9 L213.7,385.1 L214.0,386.3 L214.2,387.5 L214.4,388.7 L214.6,390.0 L214.8,391.2 L215.1,392.5 L215.3,393.7 L215.5,395.0 L215.7,396.3 L216.0,397.6 L216.2,399.0 L216.4,400.3 L216.6,401.5 L216.8,402.7 L217.0,403.8 L217.2,405.0 L217.4,406.2 L217.6,407.4 L217.8,408.7 L218.0,409.9 L218.2,411.2 L218.4,412.4 L218.6,413.7 L218.8,415.0 L219.0,416.3 L219.2,417.6 L219.4,419.0 L219.6,420.2 L219.8,421.3 L220.0,422.5 L220.1,423.7 L220.3,425.0 L220.5,426.2 L220.7,427.4 L220.9,428.7 L221.1,430.0 L221.3,431.2 L221.5,432.5 L221.7,433.8 L221.9,435.1 L222.1,436.3 L222.3,437.6 L222.5,438.8 L222.7,440.1 L222.9,441.3 L223.1,442.5 L223.3,443.7 L223.5,445.0 L223.7,446.2 L224.0,447.4 L224.2,448.7 L224.4,449.9 L224.6,451.1 L224.8,452.3 L225.0,453.6 L225.3,454.8 L225.5,456.0 L225.7,457.2 L225.9,458.3 L226.1,459.5 L226.3,460.6 L226.5,461.8 L226.7,462.9 L226.9,464.2 L227.1,465.5 L227.4,466.8 L227.6,468.1 L227.8,469.3 L228.0,470.6 L228.2,471.8 L228.4,473.0 L228.6,474.2 L228.8,475.4 L229.0,476.6 L229.2,477.8 L229.4,479.0 L229.7,480.1 L229.9,481.3 L230.2,482.6 L230.4,483.8 L230.7,485.1 L231.0,486.4 L231.3,487.7 L231.6,489.0 L231.9,490.2 L232.2,491.4 L232.5,492.7 L232.8,493.8 L233.1,494.9 L233.4,496.0 L233.7,497.0 L234.0,498.0 L234.5,499.5 L235.0,500.9 L235.4,502.2 L235.9,503.4 L236.4,504.4 L236.9,505.4 L237.4,506.4 L237.9,507.3 L238.7,508.4 L239.4,509.5 L240.2,510.4 L241.1,511.2 L241.9,511.9 L242.8,512.6 L243.9,513.3 L245.0,514.0 L246.1,514.5 L247.3,514.9 L248.4,515.0 L249.5,514.8 L250.6,514.4 L251.7,513.7 L252.8,513.0 L253.9,512.3 L254.8,511.7 L255.7,511.2 L256.5,510.5 L257.5,509.5 L258.9,508.0 L259.5,507.3 L260.2,506.5 L260.9,505.6 L261.6,504.6 L262.4,503.6 L263.2,502.5 L264.1,501.4 L264.9,500.3 L265.8,499.2 L266.6,498.1 L267.4,497.0 L268.1,495.9 L268.8,494.9 L269.5,493.9 L270.3,492.7 L271.0,491.5 L271.7,490.4 L272.4,489.2 L273.0,488.1 L273.6,487.0 L274.2,485.9 L274.8,484.8 L275.4,483.8 L275.9,482.7 L276.5,481.7 L277.2,480.5 L277.8,479.3 L278.4,478.2 L279.0,477.0 L279.5,475.9 L280.1,474.8 L280.7,473.7 L281.3,472.5 L281.9,471.3 L282.4,470.3 L283.0,469.3 L283.5,468.3 L284.0,467.2 L284.6,466.2 L285.1,465.1 L285.7,464.0 L286.2,462.9 L286.8,461.7 L287.4,460.5 L287.9,459.3 L288.3,458.3 L288.8,457.2 L289.2,456.2 L289.6,455.1 L290.0,454.0 L290.5,452.8 L290.9,451.7 L291.3,450.5 L291.7,449.3 L292.2,448.1 L292.6,446.9 L293.0,445.7 L293.5,444.5 L293.9,443.3 L294.3,442.2 L294.7,441.0 L295.1,439.9 L295.5,438.7 L296.0,437.5 L296.4,436.3 L296.8,435.1 L297.2,433.9 L297.6,432.7 L298.1,431.5 L298.5,430.3 L298.9,429.1 L299.3,427.9 L299.8,426.7 L300.2,425.5 L300.6,424.4 L301.0,423.2 L301.4,422.1 L301.8,420.9 L302.2,419.8 L302.7,418.6 L303.1,417.5 L303.5,416.3 L303.9,415.2 L304.3,414.0 L304.7,412.9 L305.2,411.8 L305.6,410.6 L306.0,409.5 L306.5,408.4 L306.9,407.3 L307.4,406.1 L307.9,405.0 L308.4,403.8 L308.9,402.6 L309.4,401.5 L309.9,400.3 L310.4,399.2 L310.9,398.0 L311.4,396.9 L311.9,395.8 L312.4,394.7 L312.9,393.6 L313.3,392.5 L313.8,391.4 L314.2,390.4 L314.7,389.1 L315.2,387.9 L315.6,386.7 L316.1,385.5 L316.5,384.3 L316.9,383.2 L317.3,382.0 L317.7,380.9 L318.1,379.8 L318.5,378.6 L319.0,377.5 L319.4,376.3 L319.8,375.1 L320.3,373.9 L320.7,372.7 L321.2,371.5 L321.7,370.3 L322.1,369.1 L322.6,367.9 L323.0,366.7 L323.5,365.6 L323.9,364.5 L324.4,363.4 L324.8,362.3 L325.3,361.1 L325.8,359.9 L326.3,358.7 L326.8,357.6 L327.4,356.6 L327.9,355.5 L328.4,354.4 L328.9,353.4 L329.4,352.3 L329.9,351.3 L330.5,350.2 L331.1,349.1 L331.7,348.0 L332.3,347.0 L332.9,346.0 L333.5,344.9 L334.1,343.8 L334.7,342.6 L335.3,341.3 L335.8,340.3 L336.2,339.2 L336.7,338.0 L337.2,336.8 L337.6,335.5 L338.1,334.3 L338.6,333.1 L339.0,331.8 L339.5,330.6 L340.0,329.4 L340.4,328.3 L340.9,327.3 L341.5,326.0 L342.1,324.8 L342.7,323.7 L343.3,322.6 L343.9,321.5 L344.6,320.5 L345.2,319.4 L345.8,318.4 L346.4,317.3 L347.0,316.2 L347.6,315.1 L348.2,314.0 L348.9,312.9 L349.5,311.7 L350.1,310.6 L350.8,309.2 L351.4,308.1 L352.1,306.6 L352.7,305.6 L353.4,305.6 L354.0,304.6 L354.7,302.4 L355.4,301.4 L356.1,301.3 L356.8,300.3 L357.5,299.0 L358.2,298.0 L358.9,296.4 L359.7,295.4 L360.6,295.2 L361.4,294.2 L362.3,292.3 L363.2,291.3 L364.1,291.1 L365.0,290.1 L365.9,288.4 L366.7,287.4 L367.6,286.4 L368.5,285.4 L369.4,285.0 L370.3,284.0 L371.2,283.8 L372.1,282.8 L373.0,280.4 L373.9,279.5 L374.9,278.8 L376.0,277.8 L377.0,277.7 L378.0,276.9 L379.1,276.7 L380.2,275.9 L381.3,274.5 L382.3,273.8 L383.4,272.9 L384.5,272.3 L385.6,272.9 L386.7,272.4 L387.9,270.1 L389.0,269.7 L390.1,271.0 L391.3,270.7 L392.6,269.3 L393.8,269.0 L395.1,268.6 L396.3,268.5 L397.6,268.4 L398.8,268.5 L400.1,269.1 L401.4,269.5 L402.7,270.9 L404.0,271.4 L405.3,270.6 L406.5,271.2 L407.6,272.6 L408.8,273.3 L409.9,274.1 L411.0,274.9 L412.0,275.3 L412.9,276.1 L413.9,277.4 L414.9,278.3 L415.8,278.3 L416.7,279.4 L417.5,280.4 L418.4,281.4 L419.3,282.7" fill="none" stroke="#ff3060" stroke-width="2.4" stroke-linejoin="round" stroke-linecap="round" opacity="1.00"/>
</g>
<line x1="207.8" y1="538" x2="199.8" y2="327" stroke="#000" stroke-width="2"/>
<path d="M199.5,320.5 L195.6,329 L203.4,328.7 Z" fill="#000"/>
<text x="212" y="330.7" style="font-family:'Liberation Serif','Times New Roman',serif;font-size:16px" fill="#111" stroke="#111" stroke-width="0.25">3</text>
<text x="218" y="537.8" style="font-family:'Liberation Serif','Times New Roman',serif;font-size:15.7px" fill="#111" stroke="#111" stroke-width="0.25">0 (Standard)</text>
<text x="195.0" y="564.6" text-anchor="start" style="font-family:'Liberation Serif','Times New Roman',serif;font-size:15.7px" fill="#111" stroke="#111" stroke-width="0.25">NaH<tspan font-size="10.2" dy="3">2</tspan><tspan dy="-3">PO</tspan><tspan font-size="10.2" dy="3">4</tspan><tspan dy="-3"> : HEPES</tspan></text>
<g clip-path="url(#cp2)">
<path d="M427.0,513.1 L428.0,514.2 L428.9,515.3 L429.9,516.4 L431.0,517.5 L431.9,518.4 L432.9,519.3 L433.9,520.3 L435.0,521.2 L436.3,522.3 L437.2,523.0 L438.2,523.8 L439.3,524.5 L440.4,525.3 L441.5,526.1 L442.7,526.9 L443.8,527.7 L445.0,528.5 L446.0,529.2 L447.1,529.9 L448.1,530.6 L449.2,531.3 L450.3,532.0 L451.4,532.7 L452.5,533.4 L453.6,534.0 L454.7,534.6 L455.8,535.2 L457.0,535.7 L458.1,536.2 L459.2,536.7 L460.4,537.2 L461.6,537.6 L462.7,538.1 L463.9,538.5 L465.0,539.0 L466.1,539.5 L467.2,539.9 L468.3,540.3 L469.4,540.8 L470.5,541.2 L471.6,541.6 L472.8,542.0 L474.0,542.4 L475.2,542.8 L476.4,543.1 L477.6,543.5 L478.8,543.8 L480.1,544.1 L481.4,544.4 L482.7,544.8 L484.0,545.1 L485.3,545.4 L486.7,545.7 L488.0,546.0 L489.2,546.3 L490.6,546.6 L491.9,547.0 L493.3,547.3 L494.6,547.6 L496.0,548.0 L497.3,548.2 L498.6,548.5 L499.7,548.7 L500.8,548.9 L501.8,549.0 L503.5,549.0 L504.8,548.9 L505.9,548.5 L506.9,548.1 L508.0,547.5 L509.0,547.0 L510.1,546.3 L511.1,545.6 L512.1,544.8 L513.1,543.9 L514.0,542.8 L514.7,541.9 L515.3,540.8 L515.9,539.6 L516.5,538.4 L517.1,537.2 L517.8,535.9 L518.4,534.7 L519.0,533.5 L519.7,532.3 L520.3,531.1 L521.0,529.9 L521.7,528.6 L522.4,527.4 L523.1,526.3 L523.7,525.3 L524.3,524.4 L525.3,522.9 L526.2,521.8 L527.1,520.9 L528.0,520.3 L529.4,519.8 L530.9,519.8 L532.5,520.3 L533.5,520.8 L534.5,521.6 L535.5,522.5 L536.7,523.5 L538.0,524.5 L539.0,525.2 L540.0,525.8 L541.2,526.6 L542.4,527.6 L543.5,528.4 L544.7,529.9 L545.8,530.6 L546.8,530.4 L548.0,531.2 L549.1,532.1 L550.1,532.8 L551.0,533.5 L552.0,534.1 L553.0,533.9 L554.2,534.5 L555.4,535.7 L556.6,536.1 L557.8,536.7 L559.0,536.8 L560.2,537.0 L561.4,536.7 L562.6,535.1 L563.8,534.6 L565.0,534.6 L566.1,534.4 L567.2,533.7 L568.3,533.5 L569.7,534.5 L571.3,534.2 L572.3,533.8 L573.4,533.6 L574.5,532.2 L575.8,531.9 L577.1,533.4 L578.4,533.2 L579.7,532.9 L581.0,532.7 L582.3,531.9 L583.6,531.8 L584.8,531.6 L586.1,531.4 L587.3,530.5 L588.6,530.4 L589.8,530.0 L591.0,529.9 L592.3,530.7 L593.5,530.7 L594.8,529.8 L596.0,529.7 L597.2,529.9 L598.5,529.9 L599.8,529.9 L601.0,529.9 L602.3,529.5 L603.5,529.5 L604.7,530.3 L605.9,530.3 L607.1,530.3 L608.2,530.4 L609.5,531.2 L610.8,531.4 L612.0,531.0 L613.2,531.3 L614.4,531.7 L615.6,531.9 L616.8,531.8 L618.0,532.0 L619.3,532.4 L620.6,532.5 L621.9,532.3 L623.2,532.3 L624.5,532.1 L625.9,532.1 L627.2,533.4 L628.6,533.4 L629.9,533.3 L631.2,533.2 L632.5,532.8 L633.8,532.7 L635.2,532.3 L636.5,532.1 L637.8,531.2 L639.0,531.0 L640.2,530.7 L641.6,530.5 L642.9,530.4 L644.1,530.1 L645.2,529.5 L646.4,529.2 L647.7,530.2 L649.0,530.0 L650.1,529.1 L651.3,528.9 L652.5,529.5 L653.8,529.2 L655.0,528.2 L656.3,527.9 L657.6,528.7 L658.8,528.5 L660.0,528.1 L661.3,527.9 L662.5,526.2 L663.7,526.1 L664.9,526.3 L666.1,526.1 L667.4,527.2 L668.9,527.1 L670.4,526.1 L671.4,526.0 L672.5,526.9 L673.6,526.8 L674.7,525.6 L675.9,525.5 L677.1,524.8 L678.3,524.7 L679.6,525.6 L680.9,525.5 L682.1,525.7 L683.4,525.6 L684.7,524.7 L686.0,524.6 L687.1,524.2 L688.3,524.1 L689.5,524.5 L690.7,524.5 L692.0,525.5 L693.2,525.5 L694.5,525.1 L695.7,525.0 L697.0,523.8 L698.2,523.8 L699.4,524.0 L700.6,524.0 L701.8,523.7 L702.9,523.8 L704.0,523.7 L705.4,523.8 L706.8,525.2 L708.1,525.3 L709.4,524.3 L710.7,524.4 L711.9,525.3 L713.2,525.4 L714.4,525.4 L715.6,525.6 L716.8,525.3 L718.0,525.4 L719.3,526.6 L720.7,526.8 L722.0,525.9 L723.4,526.1 L724.7,527.2 L726.0,527.4 L727.3,526.6 L728.5,526.8 L729.8,527.6 L731.0,527.8 L732.3,527.6 L733.6,527.8 L734.8,528.0 L736.0,528.2 L737.2,529.6 L738.4,529.8 L739.6,529.7 L740.8,529.9 L742.0,529.1 L743.2,529.3 L744.4,530.6 L745.6,530.8 L746.8,529.7 L748.0,529.9 L749.2,530.4 L750.4,530.6 L751.6,531.6 L752.8,531.8" fill="none" stroke="#b58a96" stroke-width="2.8" stroke-linejoin="round" stroke-linecap="round" opacity="1.00"/>
<path d="M428.0,397.4 L428.7,398.5 L429.4,399.5 L430.0,400.5 L430.7,401.5 L431.4,402.6 L432.2,403.7 L433.0,405.0 L433.6,406.0 L434.3,407.0 L435.0,408.1 L435.7,409.2 L436.4,410.4 L437.1,411.5 L437.8,412.7 L438.5,413.8 L439.2,414.8 L439.8,415.8 L440.5,417.0 L441.2,418.0 L441.9,419.1 L442.5,420.1 L443.1,421.1 L443.7,422.1 L444.4,423.0 L445.0,424.0 L445.7,425.1 L446.4,426.3 L447.1,427.5 L447.9,428.6 L448.6,429.7 L449.4,430.7 L450.3,431.6 L451.3,432.4 L452.3,433.1 L453.4,433.8 L454.5,434.3 L455.7,434.9 L456.9,435.4 L458.0,436.0 L459.1,436.5 L460.2,436.9 L461.3,437.3 L462.4,437.7 L463.6,438.2 L464.8,438.8 L466.1,439.5 L467.1,440.1 L468.1,440.8 L469.2,441.6 L470.3,442.5 L471.5,443.4 L472.6,444.2 L473.7,445.1 L474.7,445.9 L475.7,446.7 L476.6,447.4 L477.9,448.4 L479.0,449.3 L480.0,450.1 L481.0,450.9 L482.0,451.7 L483.0,452.5 L484.0,453.3 L484.9,454.0 L485.9,454.8 L486.9,455.6 L487.9,456.3 L488.9,457.1 L489.8,457.9 L490.9,458.8 L491.9,459.8 L493.0,460.7 L494.0,461.7 L495.0,462.6 L496.0,463.5 L497.0,464.4 L498.0,465.4 L499.0,466.4 L500.0,467.3 L500.9,468.0 L501.8,468.5 L503.3,468.7 L504.7,468.3 L506.0,467.5 L506.8,466.9 L507.6,466.1 L508.4,465.1 L509.2,464.1 L510.0,463.0 L510.6,462.0 L511.2,461.0 L511.8,460.0 L512.4,458.8 L512.9,457.5 L513.5,456.0 L513.9,455.0 L514.2,454.0 L514.5,453.0 L514.9,451.8 L515.2,450.7 L515.6,449.5 L516.0,448.2 L516.3,446.9 L516.6,445.5 L517.0,444.0 L517.2,443.0 L517.5,441.9 L517.7,440.8 L517.9,439.6 L518.2,438.4 L518.4,437.2 L518.6,436.0 L518.9,434.7 L519.1,433.5 L519.3,432.2 L519.6,431.0 L519.8,429.7 L520.0,428.4 L520.3,427.2 L520.5,426.0 L520.7,424.8 L521.0,423.6 L521.2,422.4 L521.4,421.1 L521.7,419.9 L521.9,418.7 L522.2,417.4 L522.4,416.2 L522.6,415.0 L522.9,413.8 L523.1,412.6 L523.3,411.4 L523.6,410.2 L523.8,409.1 L524.0,408.0 L524.3,406.6 L524.5,405.2 L524.8,403.8 L525.1,402.4 L525.3,401.1 L525.6,399.8 L525.8,398.5 L526.1,397.2 L526.3,396.0 L526.5,394.9 L526.8,393.9 L527.0,393.0 L527.5,391.1 L528.0,389.6 L528.4,388.5 L528.8,387.6 L529.3,387.0 L530.6,386.5 L532.0,387.5 L532.6,388.3 L533.2,389.3 L533.8,390.5 L534.4,391.7 L535.0,393.0 L535.4,394.0 L535.7,395.1 L536.0,396.2 L536.4,397.3 L536.8,398.6 L537.2,400.0 L537.5,401.0 L537.9,402.1 L538.3,403.1 L538.7,404.3 L539.1,405.5 L539.5,406.7 L540.0,408.1 L540.5,409.5 L541.0,411.0 L541.4,412.0 L541.7,413.1 L542.1,414.3 L542.6,415.5 L543.0,416.7 L543.5,418.0 L543.9,419.2 L544.4,420.5 L544.8,421.8 L545.2,423.1 L545.7,424.4 L546.1,425.6 L546.4,426.8 L546.8,428.0 L547.2,429.3 L547.5,430.6 L547.9,431.9 L548.2,433.2 L548.5,434.5 L548.7,435.7 L549.0,436.9 L549.3,438.2 L549.6,439.4 L549.9,440.6 L550.2,441.8 L550.5,443.0 L550.8,444.2 L551.2,445.5 L551.6,446.7 L552.0,448.0 L552.3,449.2 L552.7,450.5 L553.1,451.6 L553.5,452.8 L553.9,453.9 L554.3,455.0 L554.6,455.9 L555.0,456.8 L555.7,458.3 L556.4,459.6 L557.0,460.7 L557.7,461.6 L558.3,462.4 L559.0,463.0 L560.3,463.7 L561.7,463.7 L563.0,463.5 L564.0,463.5 L565.0,462.9 L566.0,462.2 L567.2,461.3 L568.1,459.6 L569.0,458.6 L570.0,457.4 L571.0,456.3 L572.0,455.8 L573.0,454.8 L573.9,453.7 L574.8,452.8 L575.7,452.9 L576.7,452.0 L577.6,450.9 L578.6,449.9 L579.5,448.8 L580.3,447.9 L581.1,446.9 L581.9,445.9 L582.7,445.1 L583.5,444.1 L584.3,442.2 L585.1,441.3 L586.0,440.9 L586.9,440.0 L587.8,438.6 L588.8,437.8 L589.8,438.3 L590.8,437.4 L591.8,435.1 L592.8,434.3 L593.8,434.9 L594.8,434.1 L595.8,432.0 L596.9,431.2 L597.9,431.5 L599.0,430.8 L600.0,429.4 L601.2,428.8 L602.3,428.3 L603.5,427.8 L604.7,428.0 L605.9,427.5 L607.2,425.5 L608.4,425.1 L609.8,424.9 L611.1,424.7 L612.5,426.1 L613.6,426.2 L614.8,425.7 L616.0,425.9 L617.3,425.5 L618.5,425.9 L619.8,427.9 L621.1,428.3 L622.3,428.7 L623.6,429.0 L624.8,427.8 L626.0,428.0 L627.3,428.8 L628.6,429.0 L629.9,428.6 L631.2,428.8 L632.4,429.2 L633.6,429.4 L634.8,430.2 L635.9,430.4 L637.0,429.9 L638.3,430.4 L639.5,431.9 L640.6,432.6 L641.6,432.1 L642.7,432.8 L643.8,433.7 L645.2,434.4 L646.2,436.0 L647.2,436.4 L648.2,436.1 L649.3,436.5 L650.4,436.9 L651.5,437.4 L652.7,438.1 L653.9,438.6 L655.1,438.8 L656.3,439.3 L657.5,439.6 L658.6,440.1 L659.8,439.9 L661.0,440.4 L662.2,442.1 L663.4,442.6 L664.7,443.5 L665.9,444.1 L667.1,444.6 L668.3,445.1 L669.5,445.1 L670.7,445.7 L671.8,445.7 L672.9,446.4 L674.0,447.0 L675.1,447.7 L676.3,449.0 L677.3,449.7 L678.4,450.4 L679.5,451.1 L680.5,450.8 L681.4,451.5 L682.3,452.3 L683.2,453.0 L684.0,453.8 L685.3,454.7 L686.3,455.8 L687.1,456.5 L687.9,457.8 L688.8,458.6 L690.0,459.0 L690.8,459.7 L691.7,459.5 L692.7,460.3 L693.7,462.4 L694.7,463.2 L695.8,463.4 L696.8,464.2 L697.9,465.2 L698.9,466.1 L700.0,466.5 L700.9,467.3 L701.8,468.5 L702.7,469.3 L703.6,470.1 L704.5,471.0 L705.5,472.6 L706.4,473.5 L707.3,473.2 L708.2,474.1 L709.1,475.8 L710.0,476.6 L710.8,476.8 L711.7,477.7 L712.5,479.5 L713.4,480.4 L714.2,480.1 L715.0,480.9 L715.8,482.2 L716.6,483.1 L717.4,484.1 L718.2,484.9 L719.1,486.3 L720.0,487.2 L720.9,487.1 L721.8,487.9 L722.7,489.6 L723.7,490.5 L724.7,491.0 L725.6,491.9 L726.6,493.0 L727.6,493.9 L728.5,495.1 L729.4,496.0 L730.2,497.7 L731.0,498.4 L732.1,498.7 L733.0,499.7 L733.9,501.5 L734.8,502.4 L735.6,501.9 L736.4,502.8 L737.2,505.0 L738.0,505.8 L739.0,505.7 L740.0,506.6 L740.9,507.2 L741.9,508.1 L742.8,509.9 L743.6,510.5 L744.4,511.2 L745.8,511.6 L746.8,509.6 L748.0,509.1 L749.1,509.1 L750.3,508.5 L751.6,508.8 L752.8,508.2" fill="none" stroke="#c99aa2" stroke-width="2.8" stroke-linejoin="round" stroke-linecap="round" opacity="1.00"/>
<path d="M428.0,326.3 L428.3,327.5 L428.7,328.7 L429.0,329.9 L429.3,331.1 L429.6,332.3 L429.9,333.5 L430.2,334.7 L430.6,335.9 L430.9,337.2 L431.3,338.4 L431.6,339.7 L432.0,341.0 L432.3,342.1 L432.7,343.3 L433.0,344.4 L433.4,345.6 L433.7,346.7 L434.1,347.9 L434.5,349.1 L434.9,350.3 L435.2,351.5 L435.6,352.8 L436.0,354.0 L436.4,355.3 L436.8,356.6 L437.2,357.9 L437.5,359.0 L437.8,360.1 L438.2,361.3 L438.5,362.4 L438.8,363.6 L439.1,364.8 L439.5,366.0 L439.8,367.2 L440.1,368.4 L440.5,369.6 L440.8,370.8 L441.2,372.0 L441.5,373.2 L441.9,374.4 L442.2,375.6 L442.6,376.8 L443.0,378.0 L443.4,379.2 L443.8,380.4 L444.2,381.7 L444.7,383.0 L445.1,384.3 L445.6,385.6 L446.0,386.9 L446.5,388.2 L446.9,389.5 L447.4,390.8 L447.9,392.0 L448.3,393.1 L448.7,394.3 L449.1,395.3 L449.6,396.3 L449.9,397.2 L450.3,398.0 L451.2,399.8 L452.0,401.1 L452.7,402.0 L453.4,402.7 L454.2,403.3 L455.0,404.0 L456.1,404.8 L457.2,405.5 L458.3,406.1 L459.5,406.9 L460.8,408.0 L461.5,408.8 L462.3,409.6 L463.0,410.5 L463.8,411.5 L464.6,412.5 L465.4,413.6 L466.3,414.7 L467.1,415.8 L468.0,417.0 L468.7,417.9 L469.4,418.9 L470.1,419.9 L470.8,420.9 L471.6,422.0 L472.3,423.1 L473.1,424.1 L473.8,425.2 L474.6,426.2 L475.3,427.2 L476.0,428.1 L476.6,429.0 L477.5,430.2 L478.3,431.3 L479.1,432.4 L479.9,433.3 L480.7,434.3 L481.4,435.2 L482.2,436.1 L483.0,437.0 L484.0,438.0 L485.0,439.0 L486.0,439.9 L487.0,440.9 L488.0,441.7 L488.9,442.6 L489.8,443.4 L490.9,444.5 L492.0,445.5 L493.0,446.4 L494.0,447.3 L495.0,448.0 L496.3,448.8 L497.7,449.4 L499.0,449.8 L500.3,450.0 L501.8,449.9 L503.2,449.4 L504.5,448.5 L505.3,447.8 L506.0,447.0 L506.7,446.0 L507.5,444.8 L508.2,443.4 L508.6,442.5 L509.1,441.5 L509.5,440.4 L509.9,439.3 L510.4,438.1 L510.8,436.9 L511.2,435.6 L511.6,434.3 L512.0,433.0 L512.3,431.9 L512.6,430.9 L512.9,429.8 L513.1,428.8 L513.4,427.7 L513.6,426.5 L513.9,425.4 L514.2,424.1 L514.4,422.8 L514.7,421.5 L515.0,420.0 L515.2,419.0 L515.4,417.9 L515.7,416.8 L515.9,415.7 L516.1,414.6 L516.4,413.5 L516.6,412.3 L516.8,411.1 L517.1,409.8 L517.3,408.5 L517.5,407.2 L517.8,405.9 L518.0,404.5 L518.3,403.0 L518.5,401.5 L518.7,400.0 L518.8,399.0 L519.0,397.9 L519.1,396.8 L519.3,395.7 L519.4,394.6 L519.5,393.4 L519.7,392.2 L519.8,391.0 L520.0,389.7 L520.1,388.5 L520.2,387.2 L520.4,385.9 L520.5,384.7 L520.6,383.4 L520.8,382.1 L520.9,380.8 L521.0,379.6 L521.1,378.3 L521.3,377.1 L521.4,375.8 L521.5,374.6 L521.6,373.4 L521.8,372.3 L521.9,371.1 L522.0,370.0 L522.1,368.6 L522.3,367.3 L522.4,365.9 L522.6,364.6 L522.7,363.3 L522.8,361.9 L523.0,360.6 L523.1,359.3 L523.2,358.1 L523.3,356.8 L523.4,355.5 L523.6,354.3 L523.7,353.1 L523.8,351.9 L523.9,350.7 L524.0,349.5 L524.2,348.4 L524.3,347.2 L524.4,346.1 L524.5,345.0 L524.7,343.6 L524.8,342.2 L524.9,340.8 L525.1,339.4 L525.2,338.1 L525.4,336.9 L525.5,335.6 L525.7,334.4 L525.8,333.2 L525.9,332.0 L526.1,330.8 L526.2,329.7 L526.3,328.5 L526.5,327.4 L526.6,326.3 L526.8,324.9 L526.9,323.6 L527.1,322.3 L527.2,321.0 L527.4,319.7 L527.5,318.5 L527.7,317.3 L527.9,316.1 L528.0,315.0 L528.2,314.0 L528.3,313.0 L528.5,312.0 L528.8,310.2 L529.2,308.6 L529.5,307.2 L529.9,306.0 L530.2,304.9 L530.6,304.0 L531.8,302.5 L533.0,302.5 L533.7,303.0 L534.3,304.0 L535.0,306.0 L535.3,306.8 L535.5,307.7 L535.8,308.7 L536.1,309.7 L536.4,310.8 L536.7,312.1 L537.0,313.4 L537.3,314.8 L537.6,316.4 L537.9,318.0 L538.1,318.9 L538.2,319.9 L538.4,320.9 L538.5,321.9 L538.7,322.9 L538.9,324.0 L539.0,325.0 L539.2,326.2 L539.3,327.3 L539.5,328.5 L539.7,329.7 L539.8,331.0 L540.0,332.4 L540.2,333.8 L540.4,335.2 L540.6,336.8 L540.8,338.3 L541.0,340.0 L541.1,341.0 L541.3,342.0 L541.4,343.0 L541.5,344.1 L541.7,345.3 L541.8,346.4 L542.0,347.6 L542.1,348.8 L542.3,350.1 L542.4,351.3 L542.6,352.6 L542.8,353.9 L542.9,355.2 L543.1,356.5 L543.3,357.9 L543.4,359.2 L543.6,360.5 L543.8,361.9 L543.9,363.2 L544.1,364.5 L544.2,365.8 L544.4,367.1 L544.6,368.4 L544.7,369.7 L544.9,371.0 L545.0,372.2 L545.1,373.4 L545.3,374.6 L545.4,375.7 L545.6,376.9 L545.7,377.9 L545.8,379.0 L546.0,380.5 L546.1,381.9 L546.3,383.3 L546.4,384.7 L546.6,386.0 L546.7,387.3 L546.8,388.5 L546.9,389.8 L547.1,391.0 L547.2,392.2 L547.3,393.3 L547.4,394.5 L547.5,395.6 L547.6,396.8 L547.7,397.9 L547.8,399.1 L547.9,400.2 L548.0,401.3 L548.2,402.5 L548.3,403.6 L548.4,404.8 L548.5,406.0 L548.6,407.3 L548.7,408.5 L548.9,409.8 L549.0,411.0 L549.1,412.3 L549.2,413.6 L549.3,414.8 L549.5,416.1 L549.6,417.3 L549.7,418.6 L549.8,419.8 L549.9,421.1 L550.0,422.3 L550.2,423.5 L550.3,424.7 L550.4,425.9 L550.5,427.1 L550.6,428.2 L550.8,429.4 L550.9,430.5 L551.0,431.6 L551.2,432.9 L551.3,434.3 L551.5,435.6 L551.6,436.9 L551.8,438.2 L551.9,439.4 L552.1,440.7 L552.3,441.9 L552.4,443.1 L552.6,444.3 L552.7,445.5 L552.9,446.6 L553.1,447.8 L553.2,448.8 L553.4,449.9 L553.5,451.0 L553.7,452.0 L553.9,453.5 L554.2,455.0 L554.4,456.4 L554.6,457.7 L554.9,459.0 L555.1,460.3 L555.4,461.5 L555.6,462.6 L555.8,463.8 L556.1,464.9 L556.3,466.0 L556.6,467.4 L557.0,468.8 L557.3,470.0 L557.6,471.2 L558.0,472.4 L558.3,473.6 L558.6,474.8 L559.0,476.0 L559.4,477.3 L559.7,478.5 L560.1,479.8 L560.5,481.1 L560.8,482.4 L561.2,483.6 L561.6,484.8 L562.0,486.0 L562.4,487.3 L562.9,488.5 L563.3,489.6 L563.8,490.7 L564.2,491.8 L564.7,492.9 L565.2,494.0 L565.8,495.2 L566.4,496.5 L567.0,497.7 L567.7,498.8 L568.3,499.9 L569.0,501.0 L569.9,502.3 L570.8,503.5 L571.7,504.7 L572.6,505.7 L573.4,506.5 L575.0,507.4 L576.5,507.5 L577.9,507.2 L579.5,506.0 L580.1,505.3 L580.9,504.5 L581.6,503.5 L582.4,502.5 L583.3,501.3 L584.1,500.2 L585.0,499.0 L585.7,498.1 L586.4,497.1 L587.2,496.1 L588.0,495.1 L588.7,494.0 L589.5,492.9 L590.3,491.8 L591.1,490.7 L591.8,489.6 L592.5,488.6 L593.1,487.5 L593.8,486.5 L594.4,485.4 L595.1,484.4 L595.7,483.3 L596.3,482.1 L597.0,481.0 L597.6,479.8 L598.2,478.6 L598.7,477.6 L599.2,476.5 L599.7,475.4 L600.2,474.2 L600.6,473.1 L601.1,471.9 L601.6,470.8 L602.0,469.6 L602.5,468.4 L603.0,467.3 L603.5,466.1 L604.0,465.0 L604.5,463.9 L605.0,462.8 L605.6,461.6 L606.1,460.5 L606.7,459.4 L607.2,458.3 L607.8,457.2 L608.3,456.1 L608.9,455.0 L609.4,454.0 L609.9,453.0 L610.4,452.0 L611.0,450.7 L611.6,449.5 L612.2,448.4 L612.8,447.3 L613.3,446.2 L613.8,445.1 L614.4,444.1 L614.9,443.0 L615.5,442.0 L616.2,440.9 L616.8,439.8 L617.5,438.7 L618.2,437.6 L618.8,436.6 L619.5,435.6 L620.1,434.6 L620.7,433.6 L621.4,432.4 L622.0,431.3 L622.6,430.1 L623.2,429.0 L623.8,427.9 L624.4,426.9 L625.0,426.0 L625.8,424.9 L626.6,423.9 L627.3,423.0 L628.1,422.2 L628.9,421.3 L629.9,420.2 L630.9,419.0 L632.0,418.0 L633.0,417.0 L634.0,416.1 L634.9,415.3 L635.8,414.6 L637.0,414.2 L638.1,414.1 L639.3,414.2 L640.6,414.1 L641.9,414.4 L643.2,415.5 L644.5,416.0 L645.8,416.6 L647.0,417.2 L648.2,418.2 L649.3,418.9 L650.4,418.6 L651.2,419.5 L652.1,420.5 L653.0,421.6 L653.8,422.4 L654.6,423.4 L655.4,424.7 L656.4,425.8 L657.5,427.9 L658.3,428.6 L659.1,428.3 L660.0,429.1 L661.0,430.5 L662.0,431.3 L663.0,431.6 L663.9,432.4 L664.9,433.4 L665.7,434.3 L666.5,435.4 L667.2,436.3 L667.8,437.9 L668.4,438.9 L669.1,439.6 L669.7,440.6 L670.3,440.7 L671.0,441.9 L671.8,443.4 L672.4,444.3 L673.1,445.1 L673.7,446.0 L674.4,448.2 L675.1,449.2 L675.8,450.1 L676.6,451.1 L677.3,452.2 L678.0,453.2 L678.7,454.3 L679.4,455.4 L680.0,456.4 L680.6,457.4 L681.1,458.8 L681.7,459.8 L682.2,460.6 L682.8,461.7 L683.3,461.9 L683.8,463.0 L684.4,465.0 L684.9,466.1 L685.4,466.6 L685.9,467.8 L686.5,469.3 L687.0,470.4 L687.5,471.2 L688.0,472.3 L688.6,473.2 L689.1,474.3 L689.6,475.3 L690.1,476.4 L690.6,477.6 L691.1,478.8 L691.6,479.7 L692.2,480.9 L692.8,481.8 L693.4,483.1 L694.0,485.5 L694.5,486.5 L695.0,487.5 L695.5,488.5 L696.1,489.8 L696.6,490.9 L697.2,491.6 L697.8,492.7 L698.3,493.6 L698.9,494.7 L699.5,496.1 L700.1,497.3 L700.7,497.4 L701.3,498.5 L701.9,500.5 L702.4,501.5 L703.0,502.2 L703.5,503.2 L704.0,503.8 L704.6,505.0 L705.2,506.2 L705.8,507.4 L706.4,509.0 L707.0,510.1 L707.5,510.8 L708.1,511.8 L708.6,513.2 L709.2,514.3 L709.7,515.6 L710.3,516.7 L710.8,517.5 L711.4,518.6 L712.0,519.4 L712.5,520.5 L713.1,522.2 L713.7,523.3 L714.3,524.0 L714.8,525.2 L715.4,526.3 L716.0,527.5 L716.6,528.6 L717.2,529.8 L717.8,531.2 L718.4,532.4 L718.9,533.0 L719.5,534.2 L720.0,536.2 L720.4,537.2 L720.9,538.7 L721.5,540.0 L722.0,540.4 L722.4,541.6 L722.9,543.3 L723.3,544.5 L723.7,545.9 L724.1,547.1 L724.4,546.8 L724.8,547.9 L725.2,549.1 L725.6,550.3 L726.0,552.5 L726.4,553.7 L726.8,554.9 L727.3,556.1 L727.7,557.0 L728.1,558.2 L728.5,558.6 L728.9,559.8 L729.3,561.3 L729.8,562.5 L730.2,564.4 L730.6,565.5 L731.0,566.6 L731.5,567.9 L732.0,569.0 L732.5,570.3 L733.0,570.5 L733.5,571.7 L734.0,574.0 L734.5,575.1 L735.0,575.5 L735.5,576.7 L736.0,578.3 L736.6,579.6 L737.1,579.9 L737.6,581.1 L738.2,583.6 L738.7,584.7 L739.3,585.3 L739.8,586.4 L740.4,587.7 L741.0,588.8 L741.7,589.1 L742.4,590.2 L743.2,592.0 L743.9,593.0 L744.7,594.0 L745.5,595.0 L746.3,596.1 L747.0,597.1 L747.7,597.8 L748.5,598.9 L749.2,600.5 L749.9,601.5 L750.6,601.9 L751.4,602.9 L752.1,603.9 L752.8,604.9" fill="none" stroke="#c44f7c" stroke-width="3.0" stroke-linejoin="round" stroke-linecap="round" opacity="1.00"/>
<path d="M428.0,360.5 L428.4,361.7 L428.8,363.0 L429.2,364.2 L429.5,365.4 L429.9,366.7 L430.3,367.9 L430.7,369.2 L431.1,370.4 L431.6,371.7 L432.0,373.0 L432.4,374.1 L432.8,375.2 L433.2,376.4 L433.7,377.6 L434.1,378.7 L434.5,379.9 L435.0,381.1 L435.5,382.3 L435.9,383.4 L436.3,384.6 L436.8,385.7 L437.2,386.8 L437.7,388.1 L438.2,389.4 L438.6,390.6 L439.1,391.8 L439.6,393.0 L440.0,394.2 L440.5,395.4 L441.0,396.6 L441.5,397.8 L442.0,399.0 L442.5,400.2 L443.1,401.4 L443.6,402.7 L444.2,403.9 L444.8,405.1 L445.3,406.3 L445.9,407.4 L446.5,408.5 L447.1,409.6 L447.7,410.5 L448.6,411.7 L449.4,412.8 L450.3,413.8 L451.2,414.7 L452.1,415.5 L453.1,416.2 L454.0,417.0 L455.1,417.8 L456.2,418.4 L457.3,418.9 L458.5,419.5 L459.6,420.1 L460.8,421.0 L461.7,421.8 L462.5,422.7 L463.4,423.6 L464.3,424.6 L465.2,425.6 L466.1,426.7 L467.0,427.9 L468.0,429.0 L468.7,429.9 L469.5,430.8 L470.3,431.8 L471.1,432.7 L471.9,433.7 L472.8,434.8 L473.6,435.8 L474.4,436.7 L475.2,437.7 L475.9,438.6 L476.6,439.5 L477.5,440.6 L478.3,441.7 L479.1,442.7 L479.9,443.7 L480.7,444.6 L481.4,445.6 L482.2,446.5 L483.0,447.5 L483.8,448.5 L484.7,449.5 L485.5,450.5 L486.4,451.5 L487.3,452.5 L488.1,453.5 L489.0,454.4 L489.8,455.3 L490.7,456.3 L491.6,457.2 L492.5,458.2 L493.3,459.1 L494.2,459.9 L495.1,460.7 L496.0,461.5 L497.2,462.4 L498.4,463.3 L499.6,464.1 L500.9,464.9 L502.0,465.4 L503.0,465.8 L504.6,465.9 L505.9,465.3 L507.0,464.5 L508.1,463.7 L509.0,462.7 L510.0,461.0 L510.4,460.1 L510.9,459.0 L511.3,457.9 L511.7,456.6 L512.1,455.2 L512.6,453.7 L513.0,452.0 L513.2,451.0 L513.5,450.1 L513.7,449.1 L513.9,448.0 L514.1,447.0 L514.3,445.9 L514.5,444.7 L514.8,443.5 L515.0,442.2 L515.2,440.9 L515.5,439.5 L515.7,438.0 L516.0,436.4 L516.2,435.4 L516.3,434.4 L516.5,433.3 L516.7,432.2 L516.8,431.1 L517.0,429.9 L517.2,428.7 L517.4,427.5 L517.6,426.2 L517.8,424.9 L517.9,423.7 L518.1,422.4 L518.3,421.1 L518.5,419.8 L518.7,418.5 L518.9,417.3 L519.1,416.0 L519.3,414.8 L519.4,413.5 L519.6,412.3 L519.8,411.1 L520.0,410.0 L520.2,408.7 L520.4,407.4 L520.6,406.2 L520.8,404.9 L521.1,403.7 L521.3,402.4 L521.5,401.2 L521.7,400.0 L521.9,398.8 L522.1,397.6 L522.3,396.4 L522.5,395.2 L522.7,394.0 L522.9,392.8 L523.2,391.6 L523.4,390.4 L523.6,389.2 L523.8,388.0 L524.0,386.8 L524.2,385.6 L524.4,384.3 L524.6,383.1 L524.8,381.8 L525.1,380.5 L525.3,379.3 L525.5,378.0 L525.7,376.7 L525.9,375.5 L526.1,374.2 L526.3,373.0 L526.5,371.7 L526.7,370.5 L527.0,369.4 L527.2,368.2 L527.4,367.1 L527.6,366.0 L527.8,365.0 L528.0,364.0 L528.3,362.5 L528.7,361.1 L529.0,359.7 L529.3,358.4 L529.6,357.1 L530.0,355.9 L530.3,354.8 L530.6,353.7 L530.9,352.7 L531.3,351.7 L531.6,350.8 L531.9,350.0 L532.6,348.2 L533.4,346.8 L534.1,345.6 L534.8,344.9 L535.5,344.5 L536.4,344.5 L537.3,345.1 L538.2,346.2 L539.0,348.0 L539.3,348.8 L539.6,349.6 L539.8,350.5 L540.1,351.5 L540.4,352.5 L540.6,353.7 L540.9,354.9 L541.1,356.3 L541.4,357.7 L541.7,359.3 L542.0,361.0 L542.2,362.0 L542.3,363.0 L542.5,364.0 L542.7,365.1 L542.9,366.2 L543.0,367.4 L543.2,368.6 L543.4,369.8 L543.6,371.1 L543.8,372.4 L543.9,373.7 L544.1,375.0 L544.3,376.3 L544.5,377.6 L544.7,379.0 L544.9,380.3 L545.1,381.6 L545.3,382.9 L545.4,384.2 L545.6,385.5 L545.8,386.8 L546.0,388.0 L546.1,389.2 L546.3,390.4 L546.5,391.6 L546.6,392.8 L546.8,393.9 L547.0,395.1 L547.1,396.3 L547.3,397.5 L547.5,398.7 L547.6,399.9 L547.8,401.1 L548.0,402.4 L548.1,403.6 L548.3,404.8 L548.5,406.1 L548.6,407.4 L548.8,408.7 L549.0,410.0 L549.1,411.3 L549.3,412.6 L549.5,414.0 L549.6,415.1 L549.8,416.2 L549.9,417.4 L550.1,418.6 L550.2,419.8 L550.4,421.0 L550.5,422.2 L550.7,423.5 L550.8,424.8 L551.0,426.0 L551.2,427.3 L551.3,428.6 L551.5,429.9 L551.6,431.2 L551.8,432.5 L551.9,433.7 L552.1,435.0 L552.2,436.2 L552.4,437.5 L552.6,438.7 L552.7,439.9 L552.9,441.0 L553.0,442.2 L553.1,443.3 L553.3,444.4 L553.4,445.4 L553.6,446.4 L553.7,447.4 L553.9,449.0 L554.2,450.5 L554.4,452.0 L554.6,453.4 L554.8,454.7 L555.0,455.9 L555.2,457.1 L555.4,458.3 L555.6,459.4 L555.8,460.5 L555.9,461.6 L556.1,462.7 L556.4,463.7 L556.6,464.8 L556.8,465.9 L557.0,467.0 L557.3,468.3 L557.6,469.7 L557.8,470.9 L558.1,472.2 L558.4,473.4 L558.7,474.6 L559.0,475.8 L559.3,477.0 L559.6,478.1 L559.9,479.3 L560.3,480.5 L560.6,481.8 L561.0,483.0 L561.4,484.2 L561.8,485.4 L562.2,486.7 L562.6,488.0 L563.1,489.3 L563.5,490.5 L564.0,491.8 L564.5,493.1 L564.9,494.3 L565.4,495.5 L565.9,496.7 L566.3,497.8 L566.8,498.8 L567.2,499.8 L567.9,501.2 L568.5,502.4 L569.1,503.6 L569.8,504.6 L570.4,505.6 L571.0,506.5 L571.7,507.4 L572.3,508.2 L573.0,509.0 L574.1,510.1 L575.2,511.2 L576.3,512.1 L577.5,512.9 L578.5,513.6 L579.5,514.1 L581.2,514.5 L582.6,514.4 L584.0,514.0 L585.2,513.6 L586.4,513.0 L587.7,512.0 L588.5,511.4 L589.4,510.6 L590.3,509.8 L591.2,508.9 L592.1,508.0 L593.0,507.0 L593.7,506.1 L594.5,505.2 L595.2,504.3 L595.9,503.3 L596.7,502.3 L597.4,501.2 L598.2,500.0 L598.8,499.0 L599.4,498.0 L600.1,496.9 L600.7,495.8 L601.3,494.7 L602.0,493.5 L602.7,492.4 L603.3,491.2 L604.0,490.0 L604.6,488.9 L605.3,487.8 L605.9,486.6 L606.6,485.5 L607.2,484.3 L607.9,483.1 L608.6,482.0 L609.2,480.8 L609.8,479.7 L610.4,478.6 L611.0,477.4 L611.6,476.3 L612.2,475.1 L612.8,474.0 L613.3,472.9 L613.8,471.8 L614.4,470.7 L614.9,469.6 L615.5,468.5 L616.1,467.4 L616.6,466.3 L617.2,465.2 L617.8,464.0 L618.4,462.9 L619.0,461.8 L619.5,460.6 L620.1,459.4 L620.7,458.2 L621.2,457.2 L621.7,456.1 L622.1,455.0 L622.6,453.9 L623.1,452.8 L623.6,451.7 L624.1,450.5 L624.6,449.4 L625.1,448.3 L625.5,447.1 L626.0,446.0 L626.5,444.9 L626.9,443.7 L627.4,442.6 L627.8,441.5 L628.3,440.3 L628.7,439.2 L629.2,438.1 L629.6,436.9 L630.1,435.8 L630.5,434.7 L630.9,433.6 L631.3,432.4 L631.8,431.2 L632.2,430.0 L632.6,428.9 L633.0,427.7 L633.4,426.6 L633.8,425.4 L634.2,424.3 L634.6,423.1 L635.0,422.0 L635.4,420.8 L635.9,419.6 L636.3,418.4 L636.7,417.3 L637.1,416.1 L637.6,415.0 L638.1,413.7 L638.6,412.5 L639.1,411.1 L639.5,410.0 L640.0,408.9 L640.5,407.8 L641.0,406.7 L641.5,405.5 L642.0,404.3 L642.6,403.1 L643.1,401.8 L643.6,400.6 L644.2,399.3 L644.7,398.1 L645.2,396.8 L645.6,395.7 L646.1,394.6 L646.5,393.5 L646.9,392.4 L647.3,391.3 L647.7,390.1 L648.1,389.0 L648.5,387.8 L649.0,386.6 L649.4,385.4 L649.9,384.2 L650.3,383.0 L650.8,381.7 L651.3,380.4 L651.7,379.4 L652.1,378.3 L652.6,377.2 L653.0,376.1 L653.5,374.9 L653.9,373.7 L654.4,372.6 L654.9,371.4 L655.4,370.2 L655.9,369.0 L656.3,367.8 L656.8,366.6 L657.3,365.5 L657.8,364.3 L658.2,363.2 L658.7,362.1 L659.1,361.0 L659.5,360.0 L660.0,358.1 L660.5,356.9 L661.0,356.6 L661.5,355.4 L661.9,354.2 L662.4,353.1 L662.8,352.4 L663.3,351.3 L663.7,349.2 L664.2,348.1 L664.6,347.0 L665.1,345.9 L665.5,345.5 L666.0,344.4 L666.5,343.1 L667.0,342.0 L667.5,340.2 L668.0,339.1 L668.5,338.5 L669.0,337.3 L669.5,335.7 L670.0,334.6 L670.5,334.0 L671.0,332.9 L671.5,330.7 L672.0,329.6 L672.4,328.6 L672.9,327.6 L673.4,327.4 L674.0,326.2 L674.5,324.1 L675.0,322.9 L675.4,321.6 L675.9,320.4 L676.4,320.1 L676.9,319.0 L677.4,317.6 L677.9,316.4 L678.5,314.6 L679.0,313.4 L679.6,313.0 L680.1,311.9 L680.7,310.9 L681.3,309.8 L681.9,307.9 L682.6,306.8 L683.2,306.5 L683.8,305.5 L684.4,303.6 L685.0,302.6 L685.5,302.0 L686.1,301.0 L686.8,299.4 L687.5,298.3 L688.1,297.4 L688.7,296.3 L689.3,296.5 L690.0,295.5 L690.6,293.7 L691.3,292.7 L692.0,292.8 L692.9,291.8 L693.8,290.1 L694.7,289.3 L695.7,288.8 L696.6,288.1 L697.6,287.7 L698.5,286.9 L699.4,285.8 L700.3,284.9 L701.1,283.0 L701.9,282.1 L702.7,281.8 L703.6,280.9 L704.4,280.0 L705.2,279.1 L706.0,277.5 L706.9,276.5 L707.8,275.5 L708.8,274.6 L709.7,275.0 L710.6,274.2 L711.6,272.9 L712.6,272.2 L713.8,271.1 L715.0,270.6 L716.3,270.5 L717.6,270.2 L719.0,269.5 L720.5,269.1 L721.7,269.8 L723.0,269.6 L724.3,268.8 L725.6,268.6 L727.0,267.8 L728.4,267.7 L729.8,268.8 L731.1,268.8 L732.3,267.7 L733.5,267.9 L734.7,268.4 L736.0,268.6 L737.2,268.5 L738.4,268.8 L739.5,270.4 L740.6,270.8 L741.7,270.3 L742.8,270.9 L744.0,272.4 L745.0,273.2 L746.1,273.5 L747.0,274.4 L748.0,275.9 L748.8,276.7 L749.6,277.8 L750.9,279.0 L751.8,279.7 L752.7,280.6 L753.6,281.4" fill="none" stroke="#ff1f50" stroke-width="3.4" stroke-linejoin="round" stroke-linecap="round" opacity="1.00"/>
<path d="M428.9,361.7 L429.3,362.9 L429.7,364.2 L430.1,365.4 L430.4,366.6 L430.8,367.9 L431.2,369.1 L431.6,370.4 L432.0,371.6 L432.5,372.9 L432.9,374.2 L433.3,375.3 L433.7,376.4 L434.1,377.6 L434.6,378.8 L435.0,379.9 L435.4,381.1 L435.9,382.3 L436.4,383.5 L436.8,384.6 L437.2,385.8 L437.7,386.9 L438.1,388.0 L438.6,389.3 L439.1,390.6 L439.5,391.8 L440.0,393.0 L440.5,394.2 L440.9,395.4 L441.4,396.6 L441.9,397.8 L442.4,399.0 L442.9,400.2 L443.4,401.4 L444.0,402.6 L444.5,403.9 L445.1,405.1 L445.7,406.3 L446.2,407.5 L446.8,408.6 L447.4,409.7 L448.0,410.8 L448.6,411.7 L449.5,412.9 L450.3,414.0 L451.2,415.0 L452.1,415.9 L453.0,416.7 L454.0,417.4 L454.9,418.2 L456.0,419.0 L457.1,419.6 L458.2,420.1 L459.4,420.7 L460.5,421.3 L461.7,422.2 L462.6,423.0 L463.4,423.9 L464.3,424.8 L465.2,425.8 L466.1,426.8 L467.0,427.9 L467.9,429.1 L468.9,430.2 L469.6,431.1 L470.4,432.0 L471.2,433.0 L472.0,433.9 L472.8,434.9 L473.7,436.0 L474.5,437.0 L475.3,437.9 L476.1,438.9 L476.8,439.8 L477.5,440.7 L478.4,441.8 L479.2,442.9 L480.0,443.9 L480.8,444.9 L481.6,445.8 L482.3,446.8 L483.1,447.7 L483.9,448.7 L484.7,449.7 L485.6,450.7 L486.4,451.7 L487.3,452.7 L488.2,453.7 L489.0,454.7 L489.9,455.6 L490.7,456.5 L491.6,457.5 L492.5,458.4 L493.4,459.4 L494.2,460.3 L495.1,461.1 L496.0,461.9 L496.9,462.7 L498.1,463.6 L499.3,464.5 L500.5,465.3 L501.8,466.1 L502.9,466.6 L503.9,467.0 L505.5,467.1 L506.8,466.5 L507.9,465.7 L509.0,464.9 L509.9,463.9 L510.9,462.2 L511.3,461.3 L511.8,460.2 L512.2,459.1 L512.6,457.8 L513.0,456.4 L513.5,454.9 L513.9,453.2 L514.1,452.2 L514.4,451.3 L514.6,450.3 L514.8,449.2 L515.0,448.2 L515.2,447.1 L515.4,445.9 L515.7,444.7 L515.9,443.4 L516.1,442.1 L516.4,440.7 L516.6,439.2 L516.9,437.6 L517.1,436.6 L517.2,435.6 L517.4,434.5 L517.6,433.4 L517.7,432.3 L517.9,431.1 L518.1,429.9 L518.3,428.7 L518.5,427.4 L518.7,426.1 L518.8,424.9 L519.0,423.6 L519.2,422.3 L519.4,421.0 L519.6,419.7 L519.8,418.5 L520.0,417.2 L520.2,416.0 L520.3,414.7 L520.5,413.5 L520.7,412.3 L520.9,411.2 L521.1,409.9 L521.3,408.6 L521.5,407.4 L521.7,406.1 L522.0,404.9 L522.2,403.6 L522.4,402.4 L522.6,401.2 L522.8,400.0 L523.0,398.8 L523.2,397.6 L523.4,396.4 L523.6,395.2 L523.8,394.0 L524.1,392.8 L524.3,391.6 L524.5,390.4 L524.7,389.2 L524.9,388.0 L525.1,386.8 L525.3,385.5 L525.5,384.3 L525.7,383.0 L526.0,381.7 L526.2,380.5 L526.4,379.2 L526.6,377.9 L526.8,376.7 L527.0,375.4 L527.2,374.2 L527.4,372.9 L527.6,371.7 L527.9,370.6 L528.1,369.4 L528.3,368.3 L528.5,367.2 L528.7,366.2 L528.9,365.2 L529.2,363.7 L529.6,362.3 L529.9,360.9 L530.2,359.6 L530.5,358.3 L530.9,357.1 L531.2,356.0 L531.5,354.9 L531.8,353.9 L532.2,352.9 L532.5,352.0 L532.8,351.2 L533.5,349.4 L534.3,348.0 L535.0,346.8 L535.7,346.1 L536.4,345.7 L537.3,345.7 L538.2,346.3 L539.1,347.4 L539.9,349.2 L540.2,350.0 L540.5,350.8 L540.7,351.7 L541.0,352.7 L541.3,353.7 L541.5,354.9 L541.8,356.1 L542.0,357.5 L542.3,358.9 L542.6,360.5 L542.9,362.2 L543.1,363.2 L543.2,364.2 L543.4,365.2 L543.6,366.3 L543.8,367.4 L543.9,368.6 L544.1,369.8 L544.3,371.0 L544.5,372.3 L544.7,373.6 L544.8,374.9 L545.0,376.2 L545.2,377.5 L545.4,378.8 L545.6,380.2 L545.8,381.5 L546.0,382.8 L546.2,384.1 L546.3,385.4 L546.5,386.7 L546.7,388.0 L546.9,389.2 L547.0,390.4 L547.2,391.6 L547.4,392.8 L547.5,394.0 L547.7,395.1 L547.9,396.3 L548.0,397.5 L548.2,398.7 L548.4,399.9 L548.5,401.1 L548.7,402.3 L548.9,403.6 L549.0,404.8 L549.2,406.0 L549.4,407.3 L549.5,408.6 L549.7,409.9 L549.9,411.2 L550.0,412.5 L550.2,413.8 L550.4,415.2 L550.5,416.3 L550.7,417.4 L550.8,418.6 L551.0,419.8 L551.1,421.0 L551.3,422.2 L551.4,423.4 L551.6,424.7 L551.7,426.0 L551.9,427.2 L552.1,428.5 L552.2,429.8 L552.4,431.1 L552.5,432.4 L552.7,433.7 L552.8,434.9 L553.0,436.2 L553.1,437.4 L553.3,438.7 L553.5,439.9 L553.6,441.1 L553.8,442.2 L553.9,443.4 L554.0,444.5 L554.2,445.6 L554.3,446.6 L554.5,447.6 L554.6,448.6 L554.8,450.2 L555.1,451.7 L555.3,453.2 L555.5,454.6 L555.7,455.9 L555.9,457.1 L556.1,458.3 L556.3,459.5 L556.5,460.6 L556.7,461.7 L556.8,462.8 L557.0,463.9 L557.3,464.9 L557.5,466.0 L557.7,467.1 L557.9,468.2 L558.2,469.5 L558.5,470.9 L558.7,472.1 L559.0,473.4 L559.3,474.6 L559.6,475.8 L559.9,477.0 L560.2,478.2 L560.5,479.3 L560.8,480.5 L561.2,481.7 L561.5,483.0 L561.9,484.2 L562.3,485.4 L562.7,486.6 L563.1,487.9 L563.5,489.2 L564.0,490.5 L564.4,491.7 L564.9,493.0 L565.4,494.3 L565.8,495.5 L566.3,496.7 L566.8,497.9 L567.2,499.0 L567.7,500.0 L568.1,501.0 L568.8,502.4 L569.4,503.6 L570.0,504.8 L570.7,505.8 L571.3,506.8 L571.9,507.7 L572.6,508.6 L573.2,509.4 L573.9,510.2 L575.0,511.3 L576.1,512.4 L577.2,513.3 L578.4,514.1 L579.4,514.8 L580.4,515.3 L582.1,515.7 L583.5,515.6 L584.9,515.2 L586.1,514.8 L587.3,514.2 L588.6,513.2 L589.4,512.6 L590.3,511.8 L591.2,511.0 L592.1,510.1 L593.0,509.2 L593.9,508.2 L594.6,507.3 L595.4,506.4 L596.1,505.5 L596.8,504.5 L597.6,503.5 L598.3,502.4 L599.1,501.2 L599.7,500.2 L600.3,499.2 L601.0,498.1 L601.6,497.0 L602.2,495.9 L602.9,494.7 L603.6,493.6 L604.2,492.4 L604.9,491.2 L605.5,490.1 L606.2,489.0 L606.8,487.8 L607.5,486.7 L608.1,485.5 L608.8,484.3 L609.5,483.2 L610.1,482.0 L610.7,480.9 L611.3,479.8 L611.9,478.6 L612.5,477.5 L613.1,476.3 L613.7,475.2 L614.2,474.1 L614.7,473.0 L615.3,471.9 L615.8,470.8 L616.4,469.7 L617.0,468.6 L617.5,467.5 L618.1,466.4 L618.7,465.2 L619.3,464.1 L619.9,463.0 L620.4,461.8 L621.0,460.6 L621.6,459.4 L622.1,458.4 L622.6,457.3 L623.0,456.2 L623.5,455.1 L624.0,454.0 L624.5,452.9 L625.0,451.7 L625.5,450.6 L626.0,449.5 L626.4,448.3 L626.9,447.2 L627.4,446.1 L627.8,444.9 L628.3,443.8 L628.7,442.7 L629.2,441.5 L629.6,440.4 L630.1,439.3 L630.5,438.1 L631.0,437.0 L631.4,435.9 L631.8,434.8 L632.2,433.6 L632.7,432.4 L633.1,431.2 L633.5,430.1 L633.9,428.9 L634.3,427.8 L634.7,426.6 L635.1,425.5 L635.5,424.3 L635.9,423.2 L636.3,422.0 L636.8,420.8 L637.2,419.6 L637.6,418.5 L638.0,417.3 L638.5,416.2 L639.0,414.9 L639.5,413.7 L640.0,412.3 L640.4,411.2 L640.9,410.1 L641.4,409.0 L641.9,407.9 L642.4,406.7 L642.9,405.5 L643.5,404.3 L644.0,403.0 L644.5,401.8 L645.1,400.5 L645.6,399.3 L646.1,398.0 L646.5,396.9 L647.0,395.8 L647.4,394.7 L647.8,393.6 L648.2,392.5 L648.6,391.3 L649.0,390.2 L649.4,389.0 L649.9,387.8 L650.3,386.6 L650.8,385.4 L651.2,384.2 L651.7,382.9 L652.2,381.6 L652.6,380.6 L653.0,379.5 L653.5,378.4 L653.9,377.3 L654.4,376.1 L654.8,374.9 L655.3,373.8 L655.8,372.6 L656.3,371.4 L656.8,370.2 L657.2,369.0 L657.7,367.8 L658.2,366.7 L658.7,365.5 L659.1,364.4 L659.6,363.3 L660.0,362.2 L660.4,361.2 L660.9,360.9 L661.4,359.6 L661.9,356.5 L662.4,355.3 L662.8,355.6 L663.3,354.5 L663.7,352.2 L664.2,351.1 L664.6,351.7 L665.1,350.6 L665.5,347.6 L666.0,346.5 L666.4,347.1 L666.9,346.0 L667.4,344.4 L667.9,343.3 L668.4,342.5 L668.9,341.3 L669.4,340.4 L669.9,339.2 L670.4,336.6 L670.9,335.4 L671.4,334.4 L671.9,333.3 L672.4,332.9 L672.9,331.8 L673.3,329.8 L673.8,328.8 L674.3,327.5 L674.9,326.3 L675.4,325.0 L675.9,323.8 L676.3,323.9 L676.8,322.7 L677.3,321.6 L677.8,320.4 L678.3,319.2 L678.8,318.0 L679.4,315.8 L679.9,314.6 L680.5,314.9 L681.0,313.8 L681.6,311.9 L682.2,310.8 L682.8,309.1 L683.5,308.0 L684.1,307.4 L684.7,306.3 L685.3,305.2 L685.9,304.2 L686.4,302.6 L687.0,301.7 L687.7,301.4 L688.4,300.3 L689.0,298.8 L689.6,297.7 L690.2,297.1 L690.9,296.1 L691.5,295.9 L692.2,295.0 L692.9,293.5 L693.8,292.6 L694.7,291.2 L695.6,290.4 L696.6,290.6 L697.5,289.8 L698.5,289.3 L699.4,288.5 L700.3,286.7 L701.2,285.8 L702.0,285.7 L702.8,284.8 L703.6,281.9 L704.5,281.0 L705.3,280.3 L706.1,279.3 L706.9,278.5 L707.8,277.6 L708.7,278.2 L709.7,277.3 L710.6,276.0 L711.5,275.2 L712.5,274.5 L713.5,273.8 L714.7,272.3 L715.9,271.8 L717.2,271.8 L718.5,271.4 L719.9,271.9 L721.4,271.6 L722.6,269.7 L723.9,269.5 L725.2,269.3 L726.5,269.1 L727.9,268.7 L729.3,268.6 L730.7,269.4 L732.0,269.4 L733.2,270.3 L734.4,270.4 L735.6,270.0 L736.9,270.3 L738.1,270.3 L739.3,270.6 L740.4,271.2 L741.5,271.6 L742.6,271.5 L743.7,272.1 L744.9,274.4 L745.9,275.3 L747.0,275.0 L747.9,275.9 L748.9,276.6 L749.7,277.4 L750.5,278.3 L751.8,279.5 L752.7,281.5 L753.6,282.4 L754.5,282.3" fill="none" stroke="#ff3060" stroke-width="2.4" stroke-linejoin="round" stroke-linecap="round" opacity="1.00"/>
</g>
<line x1="731" y1="264.5" x2="543.5" y2="571.5" stroke="#000" stroke-width="2"/>
<path d="M539.6,577.4 L541.2,567.5 L548.2,571.8 Z" fill="#000"/>
<text x="723.8" y="296.4" style="font-family:'Liberation Sans',Arial,sans-serif;font-size:14px" fill="#444">3</text>
<text x="565.5" y="571.2" style="font-family:'Liberation Serif','Times New Roman',serif;font-size:16px" fill="#111" stroke="#111" stroke-width="0.25">12</text>
<text x="476.7" y="599.9" text-anchor="start" style="font-family:'Liberation Serif','Times New Roman',serif;font-size:15.7px" fill="#111" stroke="#111" stroke-width="0.25">NaH<tspan font-size="10.2" dy="3">2</tspan><tspan dy="-3">PO</tspan><tspan font-size="10.2" dy="3">4</tspan><tspan dy="-3"> : HEPES</tspan></text>
<g clip-path="url(#cp3)">
<path d="M762.8,512.2 L763.7,513.2 L764.5,514.2 L765.3,515.2 L766.2,516.2 L767.0,517.2 L767.8,518.2 L768.7,519.2 L769.5,520.2 L770.4,521.1 L771.3,522.0 L772.2,522.9 L773.2,523.7 L774.2,524.5 L775.2,525.2 L776.2,525.8 L777.2,526.5 L778.2,527.0 L779.3,527.6 L780.4,528.2 L781.5,528.8 L782.7,529.4 L783.9,530.0 L785.2,530.6 L786.5,531.3 L787.5,531.8 L788.5,532.4 L789.5,532.9 L790.6,533.5 L791.7,534.1 L792.8,534.7 L793.9,535.4 L795.1,536.0 L796.2,536.6 L797.4,537.2 L798.6,537.8 L799.7,538.4 L800.9,538.9 L802.1,539.4 L803.2,539.9 L804.4,540.4 L805.5,540.8 L806.7,541.2 L807.9,541.5 L809.1,541.9 L810.3,542.1 L811.6,542.4 L812.8,542.6 L814.0,542.8 L815.2,543.0 L816.5,543.2 L817.7,543.4 L818.8,543.5 L820.0,543.7 L821.2,543.9 L822.3,544.1 L823.4,544.3 L824.5,544.6 L825.8,545.0 L827.1,545.3 L828.4,545.8 L829.6,546.2 L830.9,546.7 L832.1,547.1 L833.3,547.6 L834.4,548.0 L835.6,548.4 L836.7,548.7 L837.7,549.0 L838.7,549.2 L839.7,549.3 L841.2,549.4 L842.5,549.5 L843.7,549.4 L844.9,549.3 L846.0,548.9 L847.0,548.4 L848.1,547.6 L849.3,546.5 L849.9,545.8 L850.5,545.0 L851.1,544.1 L851.7,543.1 L852.4,542.0 L853.0,540.8 L853.6,539.6 L854.2,538.4 L854.8,537.1 L855.4,535.9 L856.0,534.7 L856.6,533.5 L857.2,532.3 L857.7,531.3 L858.3,530.3 L858.8,529.4 L859.7,528.0 L860.6,526.6 L861.6,525.4 L862.4,524.2 L863.3,523.1 L864.0,522.2 L864.8,521.3 L865.4,520.6 L866.0,520.0 L866.9,518.8 L868.3,519.8 L869.0,520.2 L869.8,520.7 L870.8,520.7 L871.8,521.4 L872.9,523.2 L874.0,523.9 L875.2,524.7 L876.4,525.5 L877.5,526.0 L878.6,526.7 L879.7,526.9 L880.7,527.7 L881.8,529.6 L882.8,530.4 L883.8,531.2 L884.8,532.0 L885.9,532.2 L886.9,532.9 L887.9,533.6 L888.9,534.2 L890.0,534.1 L891.0,534.5 L892.3,534.3 L893.5,534.4 L894.8,535.1 L896.0,535.0 L897.3,535.3 L898.5,535.0 L899.8,533.7 L901.1,533.5 L902.5,534.7 L903.6,534.5 L904.8,533.2 L906.0,532.9 L907.3,532.6 L908.5,532.4 L909.7,531.7 L911.0,531.4 L912.2,533.0 L913.4,532.8 L914.6,532.0 L915.8,531.8 L917.1,531.8 L918.3,531.6 L919.5,530.8 L920.6,530.6 L921.8,529.2 L923.0,529.0 L924.2,529.4 L925.4,529.2 L926.7,529.5 L928.0,529.4 L929.1,528.6 L930.3,528.6 L931.4,530.3 L932.6,530.3 L933.8,529.2 L935.0,529.3 L936.2,529.0 L937.5,529.1 L938.7,530.5 L940.1,530.6 L941.4,529.4 L942.8,529.5 L943.9,531.3 L945.0,531.5 L946.1,530.7 L947.3,530.9 L948.4,531.4 L949.6,531.6 L950.8,531.5 L952.0,531.7 L953.3,532.3 L954.5,532.5 L955.7,532.1 L957.0,532.3 L958.2,532.1 L959.4,532.2 L960.6,533.9 L961.8,533.9 L963.0,532.6 L964.1,532.5 L965.3,533.5 L966.4,533.3 L967.5,531.9 L968.7,531.7 L969.8,532.9 L970.9,532.7 L972.1,532.2 L973.3,531.9 L974.4,531.3 L975.6,531.0 L976.9,530.7 L978.2,530.4 L979.5,529.8 L980.8,529.6 L981.9,529.7 L983.1,529.5 L984.2,528.1 L985.5,527.9 L986.7,528.4 L988.0,528.2 L989.2,528.6 L990.5,528.4 L991.8,527.0 L993.1,526.8 L994.4,528.0 L995.7,527.8 L997.0,527.6 L998.3,527.4 L999.6,526.2 L1000.8,526.1 L1002.0,525.8 L1003.2,525.6 L1004.4,525.6 L1005.5,525.5 L1006.9,525.2 L1008.3,525.0 L1009.5,526.1 L1010.8,525.9 L1011.9,524.5 L1013.1,524.4 L1014.2,523.5 L1015.4,523.4 L1016.6,523.4 L1017.8,523.3 L1019.0,524.5 L1020.3,524.4 L1021.6,524.8 L1023.1,524.8 L1024.6,523.7 L1025.7,523.6 L1026.8,523.6 L1027.9,523.6 L1029.1,523.6 L1030.3,523.6 L1031.6,523.9 L1032.9,523.9 L1034.2,522.8 L1035.5,522.8 L1036.8,523.5 L1038.1,523.5 L1039.5,523.4 L1040.8,523.4 L1042.1,523.5 L1043.5,523.5 L1044.7,522.7 L1046.0,522.7 L1047.3,522.7 L1048.5,522.7 L1049.7,523.2 L1050.8,523.2 L1051.9,524.5 L1053.0,524.6 L1054.5,523.6 L1055.9,523.8 L1057.2,524.5 L1058.5,524.8 L1059.8,524.5 L1061.0,524.9 L1062.2,524.8 L1063.3,525.1 L1064.4,525.4 L1065.6,525.8 L1066.7,527.6 L1067.7,527.9 L1068.8,528.2 L1069.9,528.5 L1070.9,527.9 L1072.0,528.1 L1073.4,529.0 L1074.8,529.2 L1076.1,529.4 L1077.4,529.6 L1078.6,530.2 L1079.9,530.3 L1081.1,530.6 L1082.3,530.7 L1083.6,529.7 L1084.8,529.8 L1086.0,531.1 L1087.3,531.3" fill="none" stroke="#b98590" stroke-width="2.8" stroke-linejoin="round" stroke-linecap="round" opacity="1.00"/>
<path d="M762.8,491.3 L763.8,492.0 L764.8,492.7 L765.7,493.4 L766.6,494.0 L767.6,494.7 L768.7,495.4 L769.9,496.2 L771.3,497.0 L772.2,497.5 L773.1,498.0 L774.0,498.5 L775.0,499.0 L776.1,499.5 L777.1,500.0 L778.2,500.6 L779.4,501.1 L780.5,501.7 L781.7,502.2 L782.9,502.8 L784.1,503.4 L785.3,504.0 L786.5,504.6 L787.5,505.1 L788.6,505.6 L789.6,506.2 L790.7,506.7 L791.8,507.3 L792.9,507.9 L794.1,508.5 L795.2,509.1 L796.3,509.6 L797.5,510.2 L798.6,510.8 L799.8,511.4 L800.9,512.0 L802.1,512.5 L803.2,513.1 L804.4,513.6 L805.5,514.1 L806.6,514.6 L807.8,515.1 L808.9,515.5 L810.1,516.0 L811.2,516.4 L812.4,516.8 L813.5,517.3 L814.7,517.7 L815.8,518.1 L816.9,518.5 L818.1,518.9 L819.2,519.4 L820.3,519.8 L821.4,520.3 L822.4,520.7 L823.5,521.2 L824.5,521.7 L825.7,522.4 L826.9,523.1 L828.1,523.9 L829.3,524.7 L830.4,525.5 L831.6,526.4 L832.7,527.2 L833.8,528.0 L834.8,528.8 L835.9,529.5 L836.9,530.1 L837.9,530.6 L838.8,531.0 L839.7,531.3 L841.2,531.5 L842.5,531.6 L843.6,531.4 L844.7,531.0 L845.8,530.4 L846.9,529.6 L848.1,528.6 L849.3,527.5 L850.0,526.8 L850.8,526.0 L851.5,525.0 L852.3,524.0 L853.1,522.9 L853.9,521.8 L854.7,520.6 L855.5,519.4 L856.3,518.2 L857.1,517.1 L857.9,515.9 L858.7,514.9 L859.4,513.9 L860.1,513.0 L860.7,512.2 L862.0,510.8 L863.2,509.6 L864.3,508.6 L865.3,507.7 L866.3,507.0 L867.2,506.5 L868.0,506.0 L869.4,505.5 L870.4,506.8 L872.0,507.4 L872.9,506.1 L874.0,506.5 L875.2,506.8 L876.5,507.4 L877.8,509.9 L879.1,510.4 L880.4,509.3 L881.6,509.7 L882.9,510.0 L884.0,510.4 L885.1,511.8 L886.3,512.2 L887.6,511.8 L889.1,511.9 L891.0,513.0 L891.9,512.9 L892.9,511.4 L894.0,511.3 L895.1,512.5 L896.3,512.3 L897.5,510.7 L898.7,510.5 L900.0,510.7 L901.3,510.4 L902.6,510.8 L903.9,510.5 L905.2,509.7 L906.5,509.4 L907.7,509.7 L908.9,509.4 L910.1,508.8 L911.3,508.6 L912.6,507.1 L913.9,507.0 L915.1,508.5 L916.4,508.4 L917.7,507.6 L918.9,507.5 L920.2,506.8 L921.4,506.7 L922.6,506.4 L923.8,506.3 L924.9,507.5 L926.0,507.4 L927.0,506.8 L928.0,506.7 L929.5,507.2 L930.8,507.1 L931.9,506.6 L932.9,506.5 L933.9,506.7 L935.0,506.7 L936.2,505.8 L937.5,505.7 L939.0,506.0 L940.0,506.0 L941.1,505.9 L942.3,505.9 L943.5,505.3 L944.7,505.4 L946.0,506.9 L947.3,507.0 L948.7,505.8 L950.0,505.9 L951.4,506.9 L952.7,507.0 L954.1,507.4 L955.4,507.4 L956.7,506.8 L958.0,506.8 L959.3,505.7 L960.5,505.7 L961.8,507.0 L963.1,506.9 L964.3,506.5 L965.6,506.4 L966.9,505.3 L968.1,505.1 L969.4,504.7 L970.7,504.6 L971.9,505.4 L973.2,505.2 L974.5,504.0 L975.7,503.9 L977.0,505.5 L978.2,505.3 L979.3,504.2 L980.5,504.0 L981.7,503.8 L982.8,503.6 L984.0,503.1 L985.1,502.9 L986.3,503.1 L987.4,502.9 L988.6,503.1 L989.8,502.9 L991.0,501.4 L992.2,501.2 L993.4,501.0 L994.7,500.8 L996.0,501.0 L997.1,500.8 L998.3,500.0 L999.4,499.8 L1000.6,500.1 L1001.8,499.9 L1003.1,499.6 L1004.3,499.3 L1005.6,498.9 L1006.8,498.6 L1008.1,498.9 L1009.3,498.7 L1010.6,498.2 L1011.8,498.0 L1013.1,496.9 L1014.3,496.7 L1015.5,498.4 L1016.6,498.2 L1017.8,496.8 L1018.9,496.7 L1020.3,496.7 L1021.6,496.7 L1022.9,496.5 L1024.2,496.5 L1025.5,497.5 L1026.8,497.5 L1028.0,497.5 L1029.3,497.6 L1030.5,496.7 L1031.7,496.7 L1032.9,496.6 L1034.2,496.6 L1035.4,496.1 L1036.6,496.1 L1037.9,497.8 L1039.1,497.9 L1040.3,496.5 L1041.5,496.6 L1042.7,497.4 L1043.8,497.5 L1045.0,497.2 L1046.1,497.3 L1047.3,497.4 L1048.5,497.6 L1049.7,497.8 L1051.0,497.9 L1052.4,497.8 L1053.8,497.9 L1055.3,497.8 L1056.9,498.0 L1057.9,499.1 L1058.9,499.2 L1060.0,499.9 L1061.1,500.0 L1062.3,499.8 L1063.4,500.0 L1064.6,499.2 L1065.8,499.4 L1067.0,500.5 L1068.2,500.7 L1069.5,499.5 L1070.8,499.7 L1072.0,500.6 L1073.3,500.7 L1074.6,501.7 L1075.9,501.9 L1077.2,502.3 L1078.5,502.4 L1079.8,501.7 L1081.0,501.8 L1082.3,502.8 L1083.6,502.9 L1084.8,502.4 L1086.1,502.5 L1087.3,502.7" fill="none" stroke="#a3606f" stroke-width="2.8" stroke-linejoin="round" stroke-linecap="round" opacity="1.00"/>
<path d="M762.8,462.8 L763.7,463.6 L764.7,464.4 L765.6,465.2 L766.5,466.1 L767.4,466.9 L768.4,467.7 L769.4,468.5 L770.4,469.3 L771.6,470.1 L772.7,470.8 L773.8,471.6 L774.9,472.4 L776.0,473.3 L777.0,474.2 L777.8,475.2 L778.5,476.3 L779.2,477.5 L779.8,478.7 L780.6,479.9 L781.5,480.9 L782.7,481.8 L783.6,482.3 L784.6,482.6 L785.6,483.0 L786.7,483.2 L787.9,483.5 L789.1,483.7 L790.4,484.0 L791.8,484.3 L793.1,484.6 L794.5,485.1 L796.0,485.6 L797.0,486.0 L798.0,486.5 L799.1,486.9 L800.2,487.4 L801.3,488.0 L802.4,488.5 L803.6,489.1 L804.8,489.7 L806.0,490.3 L807.2,490.9 L808.3,491.5 L809.5,492.1 L810.7,492.7 L811.8,493.4 L812.9,493.9 L814.0,494.5 L815.0,495.1 L816.2,495.8 L817.4,496.5 L818.6,497.2 L819.8,497.9 L820.9,498.6 L822.1,499.3 L823.2,500.0 L824.3,500.7 L825.3,501.4 L826.4,502.1 L827.4,502.7 L828.4,503.4 L829.3,504.0 L830.2,504.6 L831.5,505.5 L832.7,506.5 L833.8,507.4 L834.8,508.3 L835.8,509.1 L836.7,509.9 L837.7,510.5 L838.7,511.0 L839.7,511.3 L840.9,511.5 L842.1,511.5 L843.3,511.5 L844.5,511.2 L845.7,510.8 L846.9,510.2 L848.1,509.4 L849.3,508.4 L850.0,507.7 L850.7,506.8 L851.3,505.9 L852.0,504.8 L852.7,503.6 L853.4,502.4 L854.1,501.2 L854.7,500.0 L855.4,498.7 L856.1,497.5 L856.8,496.3 L857.4,495.2 L858.1,494.1 L858.8,493.2 L859.7,492.1 L860.6,491.0 L861.4,489.9 L862.3,488.8 L863.2,487.8 L864.1,486.9 L865.0,486.0 L865.8,485.2 L866.7,484.6 L867.5,484.1 L868.3,483.7 L869.6,483.5 L870.7,483.9 L871.7,485.4 L872.9,486.2 L874.2,487.0 L875.9,487.5 L876.9,487.5 L878.0,487.6 L879.3,486.0 L880.6,486.0 L881.9,487.0 L883.3,487.0 L884.7,486.7 L886.1,486.6 L887.4,486.8 L888.7,486.8 L889.9,485.9 L891.0,485.9 L892.4,485.9 L893.6,485.8 L894.6,486.3 L895.6,486.2 L896.6,485.6 L897.7,485.4 L899.0,485.7 L900.6,485.5 L901.5,484.5 L902.5,484.3 L903.6,484.3 L904.7,484.0 L905.8,485.1 L907.0,484.8 L908.2,484.0 L909.5,483.7 L910.8,483.7 L912.0,483.5 L913.3,483.7 L914.6,483.5 L915.9,482.7 L917.1,482.6 L918.4,481.9 L919.6,481.9 L920.8,483.4 L922.0,483.5 L923.2,483.3 L924.3,483.5 L925.5,483.8 L926.7,484.1 L927.9,484.3 L929.1,484.6 L930.3,485.6 L931.5,485.9 L932.7,485.0 L933.9,485.3 L935.1,486.4 L936.4,486.6 L937.7,486.1 L939.0,486.3 L940.1,486.9 L941.3,487.1 L942.4,487.5 L943.6,487.6 L944.9,487.1 L946.1,487.3 L947.3,487.0 L948.6,487.2 L949.8,488.2 L951.0,488.3 L952.3,489.0 L953.5,489.1 L954.8,489.0 L956.0,489.1 L957.2,489.0 L958.4,489.1 L959.5,489.6 L960.7,489.6 L961.8,488.8 L963.2,488.8 L964.5,488.8 L965.8,488.8 L967.1,489.1 L968.4,489.1 L969.7,490.0 L970.9,490.0 L972.2,488.7 L973.4,488.6 L974.6,488.3 L975.8,488.2 L977.1,488.1 L978.3,487.9 L979.5,487.7 L980.8,487.6 L982.0,487.9 L983.1,487.8 L984.3,488.2 L985.4,488.1 L986.5,488.4 L987.6,488.2 L988.7,487.0 L989.8,486.8 L991.0,486.7 L992.1,486.5 L993.3,486.1 L994.5,485.9 L995.8,485.8 L997.1,485.6 L998.4,486.3 L999.8,486.2 L1000.9,485.6 L1002.0,485.4 L1003.1,484.7 L1004.3,484.6 L1005.5,484.1 L1006.7,484.0 L1008.0,485.2 L1009.3,485.0 L1010.6,484.7 L1011.8,484.6 L1013.1,484.7 L1014.5,484.5 L1015.7,483.2 L1017.0,483.1 L1018.3,483.6 L1019.6,483.4 L1020.8,484.1 L1022.0,484.0 L1023.2,483.2 L1024.3,483.1 L1025.4,483.8 L1026.5,483.7 L1028.0,482.0 L1029.4,482.0 L1030.8,483.5 L1032.1,483.5 L1033.4,481.6 L1034.7,481.6 L1035.9,482.3 L1037.1,482.3 L1038.3,481.5 L1039.5,481.5 L1040.6,483.1 L1041.8,483.2 L1043.0,483.0 L1044.2,483.1 L1045.5,483.7 L1046.7,483.9 L1047.8,483.7 L1049.0,483.8 L1050.2,484.3 L1051.3,484.5 L1052.5,483.9 L1053.6,484.1 L1054.8,485.2 L1055.9,485.5 L1057.1,485.2 L1058.3,485.4 L1059.5,484.8 L1060.7,485.0 L1061.9,486.4 L1063.2,486.5 L1064.5,485.4 L1065.6,485.4 L1066.7,485.0 L1067.9,485.1 L1069.1,484.8 L1070.2,484.8 L1071.4,485.5 L1072.6,485.5 L1073.8,484.9 L1075.1,484.8 L1076.3,486.2 L1077.5,486.1 L1078.7,486.1 L1080.0,486.0 L1081.2,484.5 L1082.4,484.4 L1083.7,484.1 L1084.9,484.0 L1086.1,484.8 L1087.3,484.8" fill="none" stroke="#a85e6e" stroke-width="2.8" stroke-linejoin="round" stroke-linecap="round" opacity="1.00"/>
<path d="M762.8,462.8 L763.7,463.6 L764.7,464.4 L765.6,465.2 L766.5,466.1 L767.4,466.9 L768.4,467.7 L769.4,468.5 L770.4,469.3 L771.6,470.1 L772.7,470.8 L773.8,471.6 L774.9,472.4 L776.0,473.3 L777.0,474.2 L777.8,475.2 L778.5,476.3 L779.2,477.5 L779.8,478.7 L780.6,479.9 L781.5,480.9 L782.7,481.8 L783.6,482.3 L784.6,482.6 L785.6,483.0 L786.7,483.2 L787.9,483.5 L789.1,483.7 L790.4,484.0 L791.8,484.3 L793.1,484.6 L794.5,485.1 L796.0,485.6 L797.0,486.0 L798.0,486.5 L799.1,486.9 L800.2,487.4 L801.3,488.0 L802.4,488.5 L803.6,489.1 L804.8,489.7 L806.0,490.3 L807.2,490.9 L808.3,491.5 L809.5,492.1 L810.7,492.7 L811.8,493.4 L812.9,493.9 L814.0,494.5 L815.0,495.1 L816.2,495.8 L817.4,496.5 L818.6,497.2 L819.8,497.9 L820.9,498.6 L822.1,499.3 L823.2,500.0 L824.3,500.7 L825.3,501.4 L826.4,502.1 L827.4,502.7 L828.4,503.4 L829.3,504.0 L830.2,504.6 L831.5,505.5 L832.7,506.5 L833.8,507.4 L834.8,508.3 L835.8,509.1 L836.7,509.9 L837.7,510.5 L838.7,511.0 L839.7,511.3 L840.9,511.5 L842.1,511.5 L843.3,511.5 L844.5,511.2 L845.7,510.8 L846.9,510.2 L848.1,509.4 L849.3,508.4 L850.0,507.7 L850.7,506.8 L851.3,505.9 L852.0,504.8 L852.7,503.6 L853.4,502.4 L854.1,501.2 L854.7,500.0 L855.4,498.7 L856.1,497.5 L856.8,496.3 L857.4,495.2 L858.1,494.1 L858.8,493.2 L859.7,492.1 L860.6,491.0 L861.4,489.9 L862.3,488.8 L863.2,487.9 L864.1,486.9 L865.0,486.1 L865.8,485.3 L866.7,484.7 L867.5,484.1 L868.3,483.7 L869.6,483.3 L870.8,483.3 L872.0,484.1 L873.2,484.7 L874.4,485.6 L875.9,486.3 L876.9,485.4 L877.9,485.9 L879.0,488.1 L880.2,488.8 L881.4,487.8 L882.6,488.5 L883.8,490.1 L885.0,490.7 L886.1,490.1 L887.3,490.5 L888.6,492.2 L889.8,492.5 L891.1,491.5 L892.4,491.7 L893.6,493.0 L894.9,493.1 L896.2,493.3 L897.4,493.5 L898.7,493.7 L899.9,493.9 L901.1,493.5 L902.3,493.7 L903.4,494.8 L904.6,495.0 L905.8,495.4 L907.1,495.7 L908.5,494.1 L910.1,494.3 L911.1,495.3 L912.2,495.4 L913.4,496.4 L914.6,496.6 L915.8,496.3 L917.1,496.4 L918.4,496.0 L919.7,496.1 L921.0,496.0 L922.3,496.1 L923.6,497.5 L924.8,497.6 L925.9,496.0 L927.0,496.1 L928.0,497.5 L929.4,497.6 L930.6,497.8 L931.5,497.7 L932.4,496.3 L933.3,496.2 L934.3,496.5 L935.5,496.5 L937.0,496.5 L939.0,496.6 L939.9,497.2 L940.9,497.2 L941.9,497.0 L943.0,497.1 L944.2,498.2 L945.4,498.3 L946.7,498.5 L948.0,498.6 L949.3,497.6 L950.7,497.7 L952.1,499.0 L953.4,499.1 L954.8,497.6 L956.2,497.8 L957.6,498.0 L959.0,498.1 L960.3,499.4 L961.6,499.6 L962.9,500.0 L964.1,500.1 L965.3,500.3 L966.4,500.4 L967.5,500.9 L968.9,501.1 L970.3,501.0 L971.7,501.2 L972.9,500.3 L974.1,500.5 L975.3,501.6 L976.5,501.9 L977.6,502.4 L978.7,502.7 L979.8,501.2 L980.9,501.4 L982.0,502.3 L983.1,502.5 L984.2,501.9 L985.3,502.0 L986.5,502.0 L987.8,502.0 L989.0,502.6 L990.3,502.6 L991.5,502.9 L992.8,502.8 L994.0,503.3 L995.3,503.1 L996.5,501.3 L997.8,501.1 L999.0,501.7 L1000.3,501.5 L1001.6,502.3 L1002.9,502.1 L1004.2,501.5 L1005.5,501.3 L1006.7,500.7 L1007.8,500.5 L1009.0,499.8 L1010.2,499.6 L1011.4,500.1 L1012.5,499.9 L1013.7,499.0 L1014.9,498.7 L1016.1,499.3 L1017.4,499.1 L1018.6,498.9 L1019.9,498.7 L1021.1,498.1 L1022.4,498.0 L1023.8,498.7 L1025.1,498.6 L1026.5,497.8 L1027.6,497.8 L1028.7,498.0 L1029.8,498.0 L1030.9,498.9 L1032.0,499.0 L1033.1,497.9 L1034.3,498.0 L1035.4,498.1 L1036.6,498.2 L1037.7,499.1 L1038.9,499.3 L1040.1,499.2 L1041.3,499.4 L1042.6,500.4 L1043.8,500.6 L1045.1,499.5 L1046.3,499.7 L1047.6,500.1 L1048.9,500.2 L1050.3,499.7 L1051.6,499.8 L1053.0,500.7 L1054.1,500.8 L1055.2,500.6 L1056.3,500.6 L1057.5,500.9 L1058.7,501.0 L1059.8,501.7 L1061.0,501.7 L1062.2,500.3 L1063.4,500.3 L1064.7,502.3 L1065.9,502.3 L1067.2,501.8 L1068.4,501.8 L1069.7,502.0 L1070.9,502.1 L1072.2,501.5 L1073.5,501.6 L1074.7,501.7 L1076.0,501.7 L1077.3,501.4 L1078.5,501.4 L1079.8,501.4 L1081.1,501.4 L1082.3,501.1 L1083.6,501.1 L1084.8,501.3 L1086.1,501.4 L1087.3,501.4" fill="none" stroke="#b9545e" stroke-width="2.8" stroke-linejoin="round" stroke-linecap="round" opacity="1.00"/>
<path d="M762.8,474.2 L764.1,473.9 L765.4,473.6 L766.7,473.3 L768.0,473.1 L769.4,473.3 L770.4,473.7 L771.4,474.2 L772.5,474.9 L773.6,475.6 L774.7,476.4 L775.8,477.2 L777.0,478.0 L777.9,478.6 L778.8,479.2 L779.7,479.8 L780.6,480.5 L781.5,481.1 L782.6,481.8 L783.7,482.4 L785.0,483.1 L786.5,483.7 L787.4,484.0 L788.4,484.4 L789.5,484.7 L790.6,485.0 L791.7,485.3 L792.9,485.6 L794.2,485.9 L795.4,486.2 L796.7,486.5 L798.0,486.8 L799.2,487.2 L800.5,487.6 L801.8,488.0 L803.1,488.4 L804.3,488.9 L805.5,489.4 L806.6,489.9 L807.6,490.4 L808.7,491.0 L809.8,491.6 L810.8,492.2 L811.9,492.8 L813.0,493.4 L814.0,494.1 L815.1,494.7 L816.2,495.4 L817.2,496.1 L818.3,496.8 L819.4,497.5 L820.4,498.2 L821.4,498.8 L822.5,499.5 L823.5,500.2 L824.5,500.8 L825.6,501.5 L826.7,502.2 L827.8,503.0 L828.9,503.8 L830.0,504.6 L831.1,505.4 L832.1,506.3 L833.2,507.1 L834.3,507.8 L835.3,508.6 L836.3,509.3 L837.3,510.0 L838.3,510.6 L839.2,511.1 L840.0,511.6 L840.8,511.9 L841.6,512.2 L843.2,512.6 L844.4,512.6 L845.5,512.3 L846.4,511.8 L847.2,510.9 L848.2,509.8 L849.3,508.4 L849.8,507.7 L850.4,506.8 L851.0,505.9 L851.6,504.9 L852.2,503.8 L852.8,502.6 L853.5,501.4 L854.1,500.2 L854.7,499.0 L855.3,497.7 L855.9,496.5 L856.5,495.3 L857.1,494.2 L857.7,493.2 L858.3,492.2 L858.8,491.3 L859.7,489.9 L860.6,488.6 L861.5,487.3 L862.3,486.2 L863.1,485.1 L863.9,484.2 L864.6,483.4 L865.3,482.6 L866.0,482.0 L867.4,480.7 L868.4,480.4 L870.2,480.9 L871.0,481.0 L872.0,481.5 L873.0,483.2 L874.1,483.9 L875.3,484.5 L876.5,485.2 L877.8,484.8 L879.1,485.5 L880.3,487.6 L881.6,488.2 L882.6,488.3 L883.7,488.8 L884.8,488.2 L885.9,488.7 L887.0,491.0 L888.1,491.5 L889.3,490.7 L890.4,491.1 L891.6,491.7 L892.7,492.1 L893.9,492.7 L895.1,493.0 L896.3,493.7 L897.5,493.9 L898.7,493.2 L899.9,493.3 L901.1,494.6 L902.3,494.7 L903.6,495.1 L904.8,495.2 L906.1,494.7 L907.4,494.8 L908.7,495.5 L910.1,495.7 L911.2,495.5 L912.4,495.7 L913.6,496.2 L914.8,496.4 L916.1,495.3 L917.4,495.5 L918.7,496.0 L919.9,496.2 L921.2,496.6 L922.4,496.8 L923.6,496.3 L924.8,496.5 L925.9,498.5 L927.0,498.7 L928.0,498.3 L929.5,498.7 L930.7,498.1 L931.7,498.6 L932.7,500.1 L933.7,500.6 L934.7,500.8 L935.9,501.4 L937.3,501.5 L939.0,502.1 L939.9,502.3 L940.9,502.6 L942.0,503.5 L943.1,503.9 L944.3,503.5 L945.5,503.8 L946.7,505.2 L948.0,505.5 L949.3,505.8 L950.6,506.2 L951.9,505.7 L953.2,506.1 L954.5,507.9 L955.8,508.2 L957.0,506.8 L958.3,507.0 L959.5,507.5 L960.7,507.6 L961.8,509.0 L963.2,509.1 L964.5,508.0 L965.8,508.0 L967.0,508.4 L968.2,508.3 L969.4,508.5 L970.6,508.4 L971.8,508.0 L973.0,507.8 L974.2,507.7 L975.4,507.5 L976.7,507.3 L978.0,507.0 L979.4,506.7 L980.8,506.5 L981.9,505.4 L982.9,505.2 L984.1,506.5 L985.2,506.2 L986.4,504.9 L987.5,504.6 L988.7,503.8 L990.0,503.5 L991.2,503.9 L992.4,503.6 L993.6,504.1 L994.9,503.8 L996.1,503.1 L997.3,502.8 L998.5,502.2 L999.8,501.9 L1000.9,501.7 L1002.1,501.4 L1003.3,500.6 L1004.4,500.4 L1005.5,501.0 L1006.8,500.8 L1008.1,500.1 L1009.4,499.9 L1010.6,499.1 L1011.8,499.0 L1013.0,499.0 L1014.1,498.8 L1015.3,498.6 L1016.5,498.5 L1017.6,499.6 L1018.8,499.5 L1020.0,499.8 L1021.3,499.8 L1022.5,499.5 L1023.8,499.4 L1025.1,498.3 L1026.5,498.3 L1027.6,498.2 L1028.7,498.2 L1029.9,499.8 L1031.1,499.9 L1032.3,498.7 L1033.5,498.8 L1034.8,498.4 L1036.0,498.5 L1037.3,499.4 L1038.6,499.4 L1039.9,499.6 L1041.2,499.7 L1042.4,499.6 L1043.7,499.8 L1044.9,499.7 L1046.2,499.8 L1047.4,499.6 L1048.6,499.8 L1049.7,500.3 L1050.9,500.5 L1051.9,500.5 L1053.0,500.7 L1054.4,501.4 L1055.8,501.7 L1057.1,501.6 L1058.4,501.9 L1059.6,502.1 L1060.8,502.5 L1062.0,504.2 L1063.2,504.6 L1064.3,503.3 L1065.5,503.7 L1066.6,505.4 L1067.7,505.8 L1068.8,505.4 L1069.9,505.8 L1070.9,506.9 L1072.0,507.1 L1073.4,507.2 L1074.8,507.5 L1076.1,507.4 L1077.4,507.5 L1078.6,507.8 L1079.9,507.9 L1081.1,507.3 L1082.3,507.4 L1083.6,507.0 L1084.8,507.2 L1086.0,508.7 L1087.3,508.9" fill="none" stroke="#8a5b9a" stroke-width="2.8" stroke-linejoin="round" stroke-linecap="round" opacity="1.00"/>
</g>
<line x1="866.7" y1="561.7" x2="866.7" y2="455" stroke="#000" stroke-width="2"/>
<path d="M866.7,449.3 L862.8,457.8 L870.6,457.8 Z" fill="#000"/>
<text x="877" y="460.5" style="font-family:'Liberation Serif','Times New Roman',serif;font-size:16px" fill="#111" stroke="#111" stroke-width="0.25">30</text>
<text x="877" y="560.5" style="font-family:'Liberation Serif','Times New Roman',serif;font-size:16px" fill="#111" stroke="#111" stroke-width="0.25">12</text>
<text x="847.5" y="580.0" text-anchor="start" style="font-family:'Liberation Serif','Times New Roman',serif;font-size:15.7px" fill="#111" stroke="#111" stroke-width="0.25">NaH<tspan font-size="10.2" dy="3">2</tspan><tspan dy="-3">PO</tspan><tspan font-size="10.2" dy="3">4</tspan><tspan dy="-3"> : HEPES</tspan></text>
<rect x="92.2" y="259.5" width="326.5" height="363.0" fill="none" stroke="#000" stroke-width="2.2"/>
<rect x="426.1" y="258.8" width="327.5" height="363.5" fill="none" stroke="#000" stroke-width="2.2"/>
<rect x="761.8" y="258.5" width="327.2" height="363.8" fill="none" stroke="#000" stroke-width="2.2"/>
<text x="1098" y="34" style="font-family:'Liberation Serif','Times New Roman',serif;font-weight:bold;font-size:42px" fill="#000">(c)</text>
<rect x="1190.4" y="38.3" width="385.0" height="578.1" fill="none" stroke="#000" stroke-width="2.2"/>
<line x1="1202.2" y1="616.4" x2="1202.2" y2="622.9" stroke="#000" stroke-width="2"/>
<text x="1202.2" y="645.5" text-anchor="middle" style="font-family:'Liberation Serif','Times New Roman',serif;font-weight:bold;font-size:22px" fill="#000">0</text>
<line x1="1322.6" y1="616.4" x2="1322.6" y2="622.9" stroke="#000" stroke-width="2"/>
<text x="1322.6" y="645.5" text-anchor="middle" style="font-family:'Liberation Serif','Times New Roman',serif;font-weight:bold;font-size:22px" fill="#000">10</text>
<line x1="1443.0" y1="616.4" x2="1443.0" y2="622.9" stroke="#000" stroke-width="2"/>
<text x="1443.0" y="645.5" text-anchor="middle" style="font-family:'Liberation Serif','Times New Roman',serif;font-weight:bold;font-size:22px" fill="#000">20</text>
<line x1="1563.4" y1="616.4" x2="1563.4" y2="622.9" stroke="#000" stroke-width="2"/>
<text x="1563.4" y="645.5" text-anchor="middle" style="font-family:'Liberation Serif','Times New Roman',serif;font-weight:bold;font-size:22px" fill="#000">30</text>
<line x1="1183.9" y1="38.3" x2="1190.4" y2="38.3" stroke="#000" stroke-width="2"/>
<text x="1180.5" y="45.8" text-anchor="end" style="font-family:'Liberation Serif','Times New Roman',serif;font-weight:bold;font-size:22px" fill="#000">600</text>
<line x1="1183.9" y1="166.7" x2="1190.4" y2="166.7" stroke="#000" stroke-width="2"/>
<text x="1180.5" y="174.2" text-anchor="end" style="font-family:'Liberation Serif','Times New Roman',serif;font-weight:bold;font-size:22px" fill="#000">580</text>
<line x1="1183.9" y1="295.1" x2="1190.4" y2="295.1" stroke="#000" stroke-width="2"/>
<text x="1180.5" y="302.6" text-anchor="end" style="font-family:'Liberation Serif','Times New Roman',serif;font-weight:bold;font-size:22px" fill="#000">560</text>
<line x1="1183.9" y1="423.5" x2="1190.4" y2="423.5" stroke="#000" stroke-width="2"/>
<text x="1180.5" y="431.0" text-anchor="end" style="font-family:'Liberation Serif','Times New Roman',serif;font-weight:bold;font-size:22px" fill="#000">540</text>
<line x1="1183.9" y1="551.9" x2="1190.4" y2="551.9" stroke="#000" stroke-width="2"/>
<text x="1180.5" y="559.4" text-anchor="end" style="font-family:'Liberation Serif','Times New Roman',serif;font-weight:bold;font-size:22px" fill="#000">520</text>
<line x1="1575.4" y1="616.4" x2="1581.9" y2="616.4" stroke="#000" stroke-width="2"/>
<text x="1587" y="623.9" style="font-family:'Liberation Serif','Times New Roman',serif;font-weight:bold;font-size:22px" fill="#000">0.0</text>
<line x1="1575.4" y1="423.7" x2="1581.9" y2="423.7" stroke="#000" stroke-width="2"/>
<text x="1587" y="431.2" style="font-family:'Liberation Serif','Times New Roman',serif;font-weight:bold;font-size:22px" fill="#000">0.1</text>
<line x1="1575.4" y1="231.0" x2="1581.9" y2="231.0" stroke="#000" stroke-width="2"/>
<text x="1587" y="238.5" style="font-family:'Liberation Serif','Times New Roman',serif;font-weight:bold;font-size:22px" fill="#000">0.2</text>
<line x1="1575.4" y1="38.3" x2="1581.9" y2="38.3" stroke="#000" stroke-width="2"/>
<text x="1587" y="45.8" style="font-family:'Liberation Serif','Times New Roman',serif;font-weight:bold;font-size:22px" fill="#000">0.3</text>
<text transform="translate(1134.2,325.5) rotate(-90)" text-anchor="middle" style="font-family:'Liberation Serif','Times New Roman',serif;font-weight:bold;font-size:22.2px" fill="#000">Peak wavelength (nm)</text>
<text transform="translate(1632,324.4) rotate(90)" text-anchor="middle" style="font-family:'Liberation Serif','Times New Roman',serif;font-weight:bold;font-size:22.2px" fill="#000">Absorbance (Abs)</text>
<text x="1382.7" y="676" text-anchor="middle" style="font-family:'Liberation Serif','Times New Roman',serif;font-weight:bold;font-size:22.2px" fill="#000">Molar ratio of NaH<tspan font-size="14" dy="4">2</tspan><tspan dy="-4">PO</tspan><tspan font-size="14" dy="4">4</tspan><tspan dy="-4"> : HEPES</tspan></text>
<circle cx="1194.4" cy="14" r="7" fill="#000"/>
<text x="1222" y="20.5" style="font-family:'Liberation Serif','Times New Roman',serif;font-weight:bold;font-size:22.2px" fill="#000">Peak wavelength</text>
<circle cx="1436.7" cy="13.9" r="6.4" fill="none" stroke="#000" stroke-width="2"/>
<text x="1464.4" y="20.5" style="font-family:'Liberation Serif','Times New Roman',serif;font-weight:bold;font-size:22.2px" fill="#000">Absorbance</text>
<circle cx="1202.2" cy="391.4" r="7.2" fill="#000"/>
<circle cx="1205.2" cy="391.4" r="7.2" fill="#000"/>
<circle cx="1208.2" cy="391.4" r="7.2" fill="#000"/>
<circle cx="1214.2" cy="423.5" r="7.2" fill="#000"/>
<circle cx="1220.3" cy="455.6" r="7.2" fill="#000"/>
<circle cx="1226.3" cy="455.6" r="7.2" fill="#000"/>
<circle cx="1238.3" cy="487.7" r="7.2" fill="#000"/>
<circle cx="1274.4" cy="519.8" r="7.2" fill="#000"/>
<circle cx="1310.6" cy="535.9" r="7.2" fill="#000"/>
<circle cx="1346.7" cy="487.7" r="7.2" fill="#000"/>
<circle cx="1382.8" cy="455.6" r="7.2" fill="#000"/>
<circle cx="1443.0" cy="455.6" r="7.2" fill="#000"/>
<circle cx="1503.2" cy="455.6" r="7.2" fill="#000"/>
<circle cx="1563.4" cy="455.6" r="7.2" fill="#000"/>
<circle cx="1202.2" cy="314.2" r="6.7" fill="none" stroke="#000" stroke-width="2"/>
<circle cx="1205.2" cy="274.0" r="6.7" fill="none" stroke="#000" stroke-width="2"/>
<circle cx="1208.2" cy="268.0" r="6.7" fill="none" stroke="#000" stroke-width="2"/>
<circle cx="1214.2" cy="223.8" r="6.7" fill="none" stroke="#000" stroke-width="2"/>
<circle cx="1220.3" cy="156.8" r="6.7" fill="none" stroke="#000" stroke-width="2"/>
<circle cx="1226.3" cy="156.8" r="6.7" fill="none" stroke="#000" stroke-width="2"/>
<circle cx="1238.3" cy="150.3" r="6.7" fill="none" stroke="#000" stroke-width="2"/>
<circle cx="1274.4" cy="98.3" r="6.7" fill="none" stroke="#000" stroke-width="2"/>
<circle cx="1310.6" cy="208.0" r="6.7" fill="none" stroke="#000" stroke-width="2"/>
<circle cx="1346.7" cy="383.4" r="6.7" fill="none" stroke="#000" stroke-width="2"/>
<circle cx="1382.8" cy="365.7" r="6.7" fill="none" stroke="#000" stroke-width="2"/>
<circle cx="1443.0" cy="335.6" r="6.7" fill="none" stroke="#000" stroke-width="2"/>
<circle cx="1503.2" cy="339.4" r="6.7" fill="none" stroke="#000" stroke-width="2"/>
<circle cx="1563.4" cy="333.7" r="6.7" fill="none" stroke="#000" stroke-width="2"/>
</svg></body></html>
